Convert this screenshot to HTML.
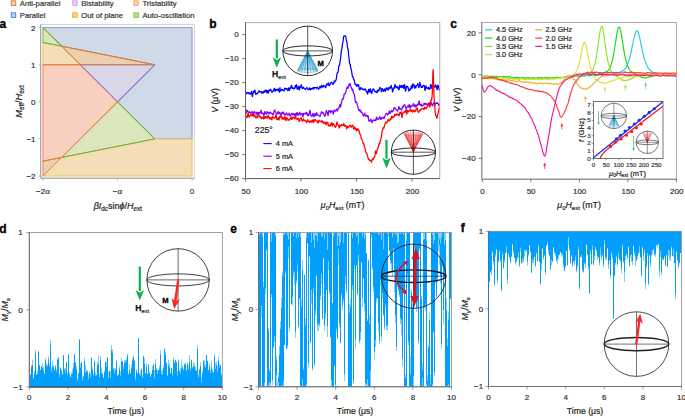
<!DOCTYPE html><html><head><meta charset="utf-8"><style>html,body{margin:0;padding:0;background:#fff;}svg{display:block;}text{font-family:"Liberation Sans",sans-serif;}</style></head><body>
<svg width="685" height="417" viewBox="0 0 685 417">
<rect width="685" height="417" fill="#fff"/>
<rect x="11.3" y="0.8" width="4.4" height="4.6" fill="#fad2bd" stroke="#e07a45" stroke-width="1"/>
<text x="19.8" y="5.8" font-size="7.7" text-anchor="start" font-weight="normal" font-style="normal" fill="#333" stroke="#333" stroke-width="0.2" >Anti-parallel</text>
<rect x="11.3" y="12.8" width="4.4" height="4.6" fill="#b9d3f5" stroke="#4f86ea" stroke-width="1"/>
<text x="19.8" y="17.8" font-size="7.7" text-anchor="start" font-weight="normal" font-style="normal" fill="#333" stroke="#333" stroke-width="0.2" >Parallel</text>
<rect x="72.7" y="0.8" width="4.4" height="4.6" fill="#e6d6f6" stroke="#c6a7ec" stroke-width="1"/>
<text x="81.2" y="5.8" font-size="7.7" text-anchor="start" font-weight="normal" font-style="normal" fill="#333" stroke="#333" stroke-width="0.2" >Bistability</text>
<rect x="72.7" y="12.8" width="4.4" height="4.6" fill="#fbd67a" stroke="#f1b531" stroke-width="1"/>
<text x="81.2" y="17.8" font-size="7.7" text-anchor="start" font-weight="normal" font-style="normal" fill="#333" stroke="#333" stroke-width="0.2" >Out of plane</text>
<rect x="133.9" y="0.8" width="4.4" height="4.6" fill="#fcd3b5" stroke="#f5a56b" stroke-width="1"/>
<text x="142.4" y="5.8" font-size="7.7" text-anchor="start" font-weight="normal" font-style="normal" fill="#333" stroke="#333" stroke-width="0.2" >Tristability</text>
<rect x="133.9" y="12.8" width="4.4" height="4.6" fill="#b6dc8c" stroke="#8cc65a" stroke-width="1"/>
<text x="142.4" y="17.8" font-size="7.7" text-anchor="start" font-weight="normal" font-style="normal" fill="#333" stroke="#333" stroke-width="0.2" >Auto-oscillation</text>
<text x="-0.6" y="27.8" font-size="12" text-anchor="start" font-weight="bold" font-style="normal" fill="#000" stroke="#000" stroke-width="0.3" >a</text>
<rect x="40.7" y="24.6" width="153.6" height="153.6" fill="none" stroke="#c8c8c8" stroke-width="0.8"/>
<line x1="40.7" y1="24.6" x2="40.7" y2="178.2" stroke="#8a8a8a" stroke-width="0.8" />
<line x1="40.7" y1="178.2" x2="194.3" y2="178.2" stroke="#8a8a8a" stroke-width="0.8" />
<polygon points="42.9,27.65 192.1,27.65 192.1,138.95 154.8,138.95 117.5,101.85 154.8,64.75 61.55,46.2" fill="#cfd9e8" stroke="#6f8fd6" stroke-width="0.9" stroke-linejoin="round" />
<polygon points="42.9,27.65 61.55,46.2 42.9,42.49" fill="#dbe6bd" stroke="#74ad3c" stroke-width="0.9" stroke-linejoin="round" />
<polygon points="42.9,42.49 61.55,46.2 80.2,64.75 42.9,64.75" fill="#f4deb8" stroke="#f0bc55" stroke-width="0.9" stroke-linejoin="round" />
<polygon points="61.55,46.2 154.8,64.75 80.2,64.75" fill="#eccfb2" stroke="#d9803a" stroke-width="0.9" stroke-linejoin="round" />
<polygon points="80.2,64.75 154.8,64.75 117.5,101.85" fill="#dad6e8" stroke="#8474d0" stroke-width="0.9" stroke-linejoin="round" />
<polygon points="42.9,64.75 80.2,64.75 117.5,101.85 61.55,157.5 42.9,161.21" fill="#f9d0c0" stroke="#e8804f" stroke-width="0.9" stroke-linejoin="round" />
<polygon points="117.5,101.85 154.8,138.95 61.55,157.5" fill="#dbe6bd" stroke="#74ad3c" stroke-width="0.9" stroke-linejoin="round" />
<polygon points="42.9,161.21 61.55,157.5 42.9,176.05" fill="#eccfb2" stroke="#d9803a" stroke-width="0.9" stroke-linejoin="round" />
<polygon points="42.9,176.05 61.55,157.5 154.8,138.95 192.1,138.95 192.1,176.05" fill="#f4deb8" stroke="#f0bc55" stroke-width="0.9" stroke-linejoin="round" />
<polyline points="42.9,64.75 154.8,64.75" fill="none" stroke="#e57a3a" stroke-width="0.9" stroke-linejoin="round" stroke-linecap="round" />
<polyline points="61.55,46.2 154.8,64.75" fill="none" stroke="#d9803a" stroke-width="0.9" stroke-linejoin="round" stroke-linecap="round" />
<polyline points="61.55,46.2 80.2,64.75" fill="none" stroke="#d9803a" stroke-width="0.9" stroke-linejoin="round" stroke-linecap="round" />
<polyline points="80.2,64.75 117.5,101.85 154.8,64.75" fill="none" stroke="#8474d0" stroke-width="1.0" stroke-linejoin="round" stroke-linecap="round" />
<polyline points="42.9,27.65 61.55,46.2 42.9,42.49" fill="none" stroke="#74ad3c" stroke-width="1.0" stroke-linejoin="round" stroke-linecap="round" />
<polyline points="117.5,101.85 154.8,138.95 61.55,157.5" fill="none" stroke="#74ad3c" stroke-width="1.0" stroke-linejoin="round" stroke-linecap="round" />
<polyline points="117.5,101.85 61.55,157.5 42.9,176.05" fill="none" stroke="#e57a3a" stroke-width="0.9" stroke-linejoin="round" stroke-linecap="round" />
<polyline points="42.9,161.21 61.55,157.5" fill="none" stroke="#d9803a" stroke-width="0.9" stroke-linejoin="round" stroke-linecap="round" />
<line x1="38.6" y1="27.65" x2="40.7" y2="27.65" stroke="#999" stroke-width="0.7" />
<text x="35.5" y="30.5" font-size="8" text-anchor="end" font-weight="normal" font-style="normal" fill="#333" stroke="#333" stroke-width="0.2" >2</text>
<line x1="38.6" y1="64.75" x2="40.7" y2="64.75" stroke="#999" stroke-width="0.7" />
<text x="35.5" y="67.6" font-size="8" text-anchor="end" font-weight="normal" font-style="normal" fill="#333" stroke="#333" stroke-width="0.2" >1</text>
<line x1="38.6" y1="101.85" x2="40.7" y2="101.85" stroke="#999" stroke-width="0.7" />
<text x="35.5" y="104.7" font-size="8" text-anchor="end" font-weight="normal" font-style="normal" fill="#333" stroke="#333" stroke-width="0.2" >0</text>
<line x1="38.6" y1="138.95" x2="40.7" y2="138.95" stroke="#999" stroke-width="0.7" />
<text x="35.5" y="141.8" font-size="8" text-anchor="end" font-weight="normal" font-style="normal" fill="#333" stroke="#333" stroke-width="0.2" >−1</text>
<line x1="38.6" y1="176.05" x2="40.7" y2="176.05" stroke="#999" stroke-width="0.7" />
<text x="35.5" y="178.9" font-size="8" text-anchor="end" font-weight="normal" font-style="normal" fill="#333" stroke="#333" stroke-width="0.2" >−2</text>
<line x1="42.9" y1="178.2" x2="42.9" y2="180.6" stroke="#999" stroke-width="0.7" />
<text x="42.9" y="193.7" font-size="8" text-anchor="middle" font-weight="normal" font-style="normal" fill="#333" stroke="#333" stroke-width="0.2" >−2α</text>
<line x1="117.5" y1="178.2" x2="117.5" y2="180.6" stroke="#999" stroke-width="0.7" />
<text x="117.5" y="193.7" font-size="8" text-anchor="middle" font-weight="normal" font-style="normal" fill="#333" stroke="#333" stroke-width="0.2" >−α</text>
<line x1="192.1" y1="178.2" x2="192.1" y2="180.6" stroke="#999" stroke-width="0.7" />
<text x="192.1" y="193.7" font-size="8" text-anchor="middle" font-weight="normal" font-style="normal" fill="#333" stroke="#333" stroke-width="0.2" >0</text>
<text transform="translate(21.8,101.5) rotate(-90)" font-size="9.4" text-anchor="middle" fill="#231f20" stroke="#231f20" stroke-width="0.2"><tspan font-style="italic">M</tspan><tspan font-size="6.3" dy="2">eff</tspan><tspan dy="-2">/</tspan><tspan font-style="italic">H</tspan><tspan font-size="6.3" dy="2">ext</tspan></text>
<text x="117.8" y="208.6" font-size="9" text-anchor="middle" fill="#231f20" stroke="#231f20" stroke-width="0.2"><tspan font-style="italic">βI</tspan><tspan font-size="6.3" dy="2">dc</tspan><tspan dy="-2">sin</tspan><tspan font-style="italic">ϕ</tspan>/<tspan font-style="italic">H</tspan><tspan font-size="6.3" dy="2">ext</tspan></text>
<text x="209.2" y="27.7" font-size="12" text-anchor="start" font-weight="bold" font-style="normal" fill="#000" stroke="#000" stroke-width="0.3" >b</text>
<defs><clipPath id="cpb"><rect x="245.5" y="22.7" width="194.3" height="155.9"/></clipPath></defs>
<g clip-path="url(#cpb)">
<polyline points="245.5,92.31 245.78,92.36 246.06,93.29 246.33,93.9 246.61,93.06 246.89,92.81 247.17,93.13 247.45,92.73 247.72,92.43 248,92.58 248.28,92.74 248.56,93.09 248.84,93.79 249.11,93.96 249.39,93.46 249.67,92.83 249.95,93.02 250.23,93.78 250.5,94.18 250.78,93.81 251.06,93.19 251.34,92.29 251.62,91.44 251.89,93 252.17,96.12 252.45,96.55 252.73,94.77 253.01,93.38 253.28,92.34 253.56,91.13 253.84,90.94 254.12,92.31 254.4,91.94 254.67,90.21 254.95,90.21 255.23,91.6 255.51,93.46 255.78,94.26 256.06,93.42 256.34,93.23 256.62,93.99 256.9,93.95 257.17,93.54 257.45,93.41 257.73,92.83 258.01,92.27 258.29,92.25 258.56,92.05 258.84,91.11 259.12,90.64 259.4,91.4 259.68,92.05 259.95,91.8 260.23,91.62 260.51,91.69 260.79,91.87 261.07,91.57 261.34,92.17 261.62,93.12 261.9,92.75 262.18,91.95 262.46,92.14 262.73,93.14 263.01,93.26 263.29,92.41 263.57,91.78 263.85,91.23 264.12,91.53 264.4,92.28 264.68,91.29 264.96,90.38 265.24,91.21 265.51,91.6 265.79,90.68 266.07,90.04 266.35,90.38 266.63,91.85 266.9,92.89 267.18,92.35 267.46,91.28 267.74,90.61 268.02,91.54 268.29,93.07 268.57,92.53 268.85,90.58 269.13,90.13 269.41,90.86 269.68,90.71 269.96,89.91 270.24,89.32 270.52,89.22 270.8,89.81 271.07,90.45 271.35,90.5 271.63,91.07 271.91,92.36 272.19,92.11 272.46,91.69 272.74,91.82 273.02,91.24 273.3,90.48 273.58,89.75 273.85,89.33 274.13,88.66 274.41,88.38 274.69,89.65 274.97,91.38 275.24,91.12 275.52,89.48 275.8,89.69 276.08,90.51 276.35,90.27 276.63,89.61 276.91,89.11 277.19,89.42 277.47,90.1 277.74,90.4 278.02,90.3 278.3,90.03 278.58,88.89 278.86,89.12 279.13,91.69 279.41,92.26 279.69,89.25 279.97,87.64 280.25,89.63 280.52,90.85 280.8,90.38 281.08,90.51 281.36,90.57 281.64,89.9 281.91,89.3 282.19,89.31 282.47,89.41 282.75,89.91 283.03,90.53 283.3,90.72 283.58,90.66 283.86,90.64 284.14,90.91 284.42,90.01 284.69,88.36 284.97,88.22 285.25,88.56 285.53,88.67 285.81,89.06 286.08,88.96 286.36,88.5 286.64,88.83 286.92,89.25 287.2,89.01 287.47,89.68 287.75,90.59 288.03,90.28 288.31,88.76 288.59,87.87 288.86,88.88 289.14,90.1 289.42,90.52 289.7,89.11 289.98,87.83 290.25,88.26 290.53,88.59 290.81,87.73 291.09,86.56 291.37,85.56 291.64,85.32 291.92,86.76 292.2,88.22 292.48,88.39 292.76,88.03 293.03,87.79 293.31,87.88 293.59,88.54 293.87,88.96 294.15,88.4 294.42,88.63 294.7,88.55 294.98,86.84 295.26,85.61 295.53,86.1 295.81,87.03 296.09,86.35 296.37,84.61 296.65,85.67 296.92,88.22 297.2,89.02 297.48,88.99 297.76,89.09 298.04,88.35 298.31,87.11 298.59,86.16 298.87,87.41 299.15,89.69 299.43,89.84 299.7,88.73 299.98,87.12 300.26,86.53 300.54,87 300.82,86.72 301.09,84.96 301.37,84.92 301.65,86.92 301.93,87.94 302.21,88.3 302.48,88.52 302.76,87.96 303.04,87.09 303.32,87.74 303.6,88.09 303.87,87.89 304.15,88.33 304.43,88.7 304.71,88.82 304.99,89.11 305.26,89.5 305.54,89.22 305.82,88.69 306.1,88.39 306.38,88.12 306.65,87.75 306.93,87.5 307.21,87.99 307.49,88.68 307.77,89.27 308.04,89.7 308.32,89.57 308.6,89.14 308.88,89.45 309.16,89.14 309.43,88.03 309.71,87.95 309.99,89.31 310.27,89.99 310.55,88.86 310.82,88.47 311.1,88.82 311.38,88.55 311.66,89.03 311.94,89.37 312.21,88.65 312.49,88.18 312.77,88.46 313.05,88.29 313.33,87.4 313.6,88.3 313.88,89.1 314.16,88.22 314.44,87.64 314.72,87.6 314.99,87.73 315.27,87.67 315.55,87.66 315.83,87.7 316.1,87.52 316.38,88.04 316.66,88.31 316.94,87.54 317.22,87.07 317.49,87.6 317.77,87.97 318.05,88.27 318.33,89.29 318.61,89.29 318.88,88.66 319.16,88.44 319.44,87.59 319.72,86.56 320,86.48 320.27,87.45 320.55,87.85 320.83,87.88 321.11,87.12 321.39,85.25 321.66,85.84 321.94,86.63 322.22,86.19 322.5,86.89 322.78,87.48 323.05,86.13 323.33,85.35 323.61,86.01 323.89,86.25 324.17,86.16 324.44,86.25 324.72,85.83 325,85.99 325.28,87.14 325.56,87.74 325.83,87.17 326.11,86.06 326.39,84.71 326.67,84.1 326.95,84.04 327.22,84.39 327.5,84.96 327.78,84.92 328.06,83.54 328.34,82.86 328.61,84.21 328.89,85.36 329.17,85.5 329.45,85.56 329.73,85.34 330,84.56 330.28,83.49 330.56,82.56 330.84,82.62 331.12,82.59 331.39,82.34 331.67,82.27 331.95,82.34 332.23,83.47 332.51,84.27 332.78,84 333.06,83.92 333.34,84.14 333.62,83.84 333.9,82.83 334.17,81.15 334.45,80.99 334.73,81.81 335.01,81.84 335.28,81.08 335.56,80.57 335.84,80.49 336.12,79.76 336.4,78.3 336.67,76.43 336.95,74.15 337.23,72.77 337.51,72.56 337.79,72.55 338.06,71.97 338.34,70.06 338.62,67.95 338.9,65.94 339.18,65.13 339.45,65.42 339.73,64.03 340.01,61.81 340.29,59.87 340.57,58.48 340.84,56.21 341.12,53.09 341.4,50.63 341.68,49.41 341.96,48.37 342.23,46.11 342.51,43.57 342.79,42.62 343.07,41.67 343.35,39.03 343.62,36.79 343.9,35.92 344.18,35.74 344.46,35.78 344.74,36.13 345.01,36.1 345.29,36.06 345.57,35.99 345.85,36.97 346.13,39.14 346.4,40.62 346.68,41.2 346.96,42.08 347.24,44.61 347.52,47.54 347.79,48.64 348.07,49.14 348.35,51.51 348.63,55.61 348.91,57.77 349.18,59.17 349.46,62.22 349.74,64.15 350.02,64.22 350.3,65.17 350.57,67.25 350.85,68.55 351.13,69.18 351.41,70 351.69,71.64 351.96,73.66 352.24,75.83 352.52,76.95 352.8,76.88 353.08,76.83 353.35,78.05 353.63,79.45 353.91,79.59 354.19,79.97 354.47,81.33 354.74,82.69 355.02,84.02 355.3,84.83 355.58,84.29 355.85,84.11 356.13,84.59 356.41,85.12 356.69,86.21 356.97,86.4 357.24,85.25 357.52,84.75 357.8,85.77 358.08,85.51 358.36,84.72 358.63,84.87 358.91,86.1 359.19,88.64 359.47,89.84 359.75,89.11 360.02,89.2 360.3,89.57 360.58,88.99 360.86,87.6 361.14,87.47 361.41,88.24 361.69,88.26 361.97,88.6 362.25,89.25 362.53,89.52 362.8,89.39 363.08,89.08 363.36,89.29 363.64,89.56 363.92,89.62 364.19,90.08 364.47,89.9 364.75,89.1 365.03,88.88 365.31,89.18 365.58,89.11 365.86,90.01 366.14,91.37 366.42,91.7 366.7,91.36 366.97,92.04 367.25,93.47 367.53,94.02 367.81,93.5 368.09,92.18 368.36,90.26 368.64,89.29 368.92,89.89 369.2,91.17 369.48,92 369.75,91.39 370.03,89.72 370.31,88.76 370.59,89.86 370.87,91.6 371.14,92.56 371.42,93.18 371.7,93.33 371.98,92.47 372.26,90.88 372.53,89.74 372.81,89.6 373.09,89.04 373.37,88.83 373.65,89.31 373.92,89.38 374.2,90.17 374.48,91.3 374.76,91.55 375.03,91.64 375.31,91.85 375.59,91.7 375.87,91.28 376.15,91.43 376.42,92.17 376.7,92.7 376.98,92.67 377.26,91.41 377.54,90.29 377.81,90.14 378.09,90.15 378.37,90.49 378.65,91.18 378.93,90.88 379.2,89.67 379.48,88.66 379.76,87.79 380.04,87.28 380.32,87.99 380.59,88.19 380.87,88.49 381.15,90.08 381.43,91.62 381.71,91.57 381.98,89.91 382.26,88.58 382.54,88.72 382.82,89.38 383.1,89.81 383.37,90.51 383.65,91.29 383.93,90.6 384.21,90.02 384.49,89.47 384.76,88.78 385.04,90.21 385.32,91.39 385.6,90.5 385.88,89.11 386.15,88.71 386.43,88.07 386.71,87.79 386.99,88.83 387.27,89.92 387.54,89.14 387.82,88.29 388.1,89.45 388.38,89.94 388.66,88.75 388.93,87.53 389.21,87.28 389.49,87.83 389.77,88.26 390.05,87.71 390.32,87.97 390.6,88.13 390.88,86.13 391.16,85.44 391.44,87.07 391.71,87.56 391.99,87.93 392.27,90.25 392.55,91.87 392.83,91.35 393.1,90.05 393.38,88.78 393.66,87.8 393.94,88.07 394.22,88.36 394.49,86.68 394.77,84.79 395.05,84.67 395.33,85.61 395.6,86.48 395.88,87.12 396.16,87.7 396.44,87.36 396.72,86.72 396.99,86.36 397.27,87.18 397.55,88.17 397.83,87.56 398.11,87.27 398.38,88.56 398.66,89.49 398.94,89.76 399.22,88.97 399.5,86.68 399.77,85.22 400.05,85.57 400.33,86.56 400.61,87.21 400.89,87.55 401.16,87.35 401.44,86.12 401.72,85.3 402,85.94 402.28,87.13 402.55,87.31 402.83,86.36 403.11,85.65 403.39,87.09 403.67,88.35 403.94,86.65 404.22,84.64 404.5,84.65 404.78,85.78 405.06,87.95 405.33,90.4 405.61,91.09 405.89,89.86 406.17,87.96 406.45,86.55 406.72,86.16 407,86.25 407.28,86.29 407.56,86.96 407.84,87.29 408.11,87.42 408.39,89.27 408.67,90.9 408.95,90.18 409.23,89.79 409.5,90.44 409.78,89.52 410.06,88.86 410.34,89.52 410.62,89.56 410.89,88.45 411.17,86.86 411.45,85.67 411.73,86.57 412.01,88.24 412.28,87.65 412.56,85.24 412.84,83.84 413.12,84.28 413.4,84.4 413.67,84.26 413.95,85.61 414.23,87.45 414.51,88.13 414.79,86.7 415.06,85.54 415.34,86.77 415.62,87.85 415.9,87.83 416.17,86.6 416.45,85.57 416.73,85.45 417.01,85.04 417.29,84.58 417.56,84.08 417.84,83.66 418.12,84.64 418.4,86.47 418.68,87.62 418.95,87.43 419.23,86.28 419.51,84.49 419.79,82.43 420.07,82.83 420.34,84.99 420.62,85.73 420.9,86.04 421.18,87.48 421.46,87.34 421.73,86.55 422.01,87.15 422.29,87.46 422.57,86.71 422.85,85.81 423.12,85.5 423.4,85.36 423.68,85.28 423.96,85.3 424.24,85.78 424.51,87.63 424.79,89.61 425.07,90.41 425.35,89.68 425.63,87.61 425.9,85.89 426.18,86.19 426.46,87.55 426.74,88.3 427.02,88.1 427.29,87.92 427.57,88.35 427.85,88.56 428.13,87.6 428.41,87.33 428.68,88.63 428.96,89.31 429.24,89.17 429.52,88.46 429.8,88.75 430.07,88.83 430.35,86.6 430.63,84.54 430.91,84.48 431.19,85.26 431.46,87.11 431.74,88.43 432.02,87.85 432.3,87.78 432.58,87.76 432.85,86.57 433.13,86.17 433.41,86.38 433.69,86.4 433.97,86.72 434.24,86.88 434.52,87.09 434.8,87.05 435.08,86.55 435.35,85.32 435.63,84.75 435.91,85.35 436.19,86.78 436.47,87.37 436.74,88.12 437.02,89.7 437.3,88.77 437.58,86.27 437.86,85.17 438.13,85.41 438.41,86.15 438.69,86.94 438.97,88.4 439.25,89.87 439.52,90.1 439.8,89.37" fill="none" stroke="#0000ff" stroke-width="1.25" stroke-linejoin="round" stroke-linecap="round" />
<polyline points="245.5,111.29 245.78,112.09 246.06,113.07 246.33,112.77 246.61,110.61 246.89,109.86 247.17,110.61 247.45,110.9 247.72,111.29 248,111.59 248.28,111.5 248.56,112.07 248.84,112.81 249.11,112.83 249.39,112.27 249.67,111.99 249.95,112.18 250.23,112.71 250.5,113.03 250.78,112.87 251.06,112.17 251.34,111.91 251.62,112.11 251.89,112.63 252.17,112.82 252.45,111.75 252.73,111.87 253.01,114.4 253.28,116 253.56,115.1 253.84,113.18 254.12,112.06 254.4,111.58 254.67,111.75 254.95,112.34 255.23,112.76 255.51,112.88 255.78,113.21 256.06,114.04 256.34,113.85 256.62,112.53 256.9,112.12 257.17,113.62 257.45,114.67 257.73,113.95 258.01,112.83 258.29,112.51 258.56,112.96 258.84,113.52 259.12,112.7 259.4,112.65 259.68,113.61 259.95,113.04 260.23,111.99 260.51,111.6 260.79,110.73 261.07,110.32 261.34,111.73 261.62,113.33 261.9,113.64 262.18,113.16 262.46,113.17 262.73,113.33 263.01,113.13 263.29,113.41 263.57,114.88 263.85,116.22 264.12,115.6 264.4,113.29 264.68,111.8 264.96,111.58 265.24,112.53 265.51,113.27 265.79,113.17 266.07,113.68 266.35,114.39 266.63,113.45 266.9,111.73 267.18,111.56 267.46,112.37 267.74,113.16 268.02,113.17 268.29,112.65 268.57,113.03 268.85,113.72 269.13,113.89 269.41,113.63 269.68,112.67 269.96,112.11 270.24,112.25 270.52,112.2 270.8,112.75 271.07,113.37 271.35,113.69 271.63,113.5 271.91,113.32 272.19,113.69 272.46,114.18 272.74,114.52 273.02,114.92 273.3,114.88 273.58,113.68 273.85,112.17 274.13,111.12 274.41,110.25 274.69,109.94 274.97,111.11 275.24,111.85 275.52,111.8 275.8,112.43 276.08,112.87 276.35,113.41 276.63,114.03 276.91,114.22 277.19,113.42 277.47,113.22 277.74,112.9 278.02,111.65 278.3,111.65 278.58,112.89 278.86,113.75 279.13,113.63 279.41,113 279.69,112.34 279.97,112.62 280.25,113.8 280.52,114.61 280.8,115.1 281.08,115.38 281.36,114.79 281.64,113.55 281.91,112.4 282.19,112.38 282.47,113.26 282.75,113.41 283.03,112.71 283.3,111.97 283.58,112.53 283.86,113.72 284.14,114.81 284.42,114.99 284.69,114.44 284.97,114.25 285.25,114.61 285.53,114.98 285.81,114.5 286.08,113.73 286.36,112.93 286.64,113.03 286.92,113.77 287.2,114.67 287.47,114.93 287.75,115.15 288.03,115.08 288.31,114.66 288.59,114.28 288.86,113.63 289.14,113.06 289.42,113.38 289.7,114.69 289.98,115.91 290.25,116.07 290.53,116.09 290.81,115.99 291.09,114.88 291.37,114.28 291.64,113.88 291.92,113.1 292.2,113.08 292.48,114.02 292.76,114.69 293.03,114.34 293.31,114.18 293.59,114.16 293.87,113.64 294.15,114.34 294.42,115.67 294.7,115.66 294.98,114.8 295.26,113.55 295.53,113.69 295.81,115.1 296.09,115.46 296.37,114.65 296.65,113.52 296.92,112.52 297.2,112.78 297.48,113.76 297.76,114.78 298.04,115.47 298.31,114.5 298.59,113.63 298.87,114.14 299.15,114.25 299.43,112.95 299.7,112.15 299.98,113.29 300.26,114.25 300.54,114.4 300.82,115 301.09,114.8 301.37,114.21 301.65,113.89 301.93,113.73 302.21,113.37 302.48,114.45 302.76,116.55 303.04,116.9 303.32,115.02 303.6,113.32 303.87,113.35 304.15,113.89 304.43,113.83 304.71,113.35 304.99,113.36 305.26,113.97 305.54,114.01 305.82,112.93 306.1,112.77 306.38,113.06 306.65,112.23 306.93,112.83 307.21,114.87 307.49,115.61 307.77,114.41 308.04,114.03 308.32,115.16 308.6,115.47 308.88,114.5 309.16,114.14 309.43,112.88 309.71,110.51 309.99,110.14 310.27,111.88 310.55,113.61 310.82,114.88 311.1,115.93 311.38,115.79 311.66,115.91 311.94,116.52 312.21,116.04 312.49,114.57 312.77,113.72 313.05,113.47 313.33,113.83 313.6,115.26 313.88,116.58 314.16,116.56 314.44,115.08 314.72,113.76 314.99,113.58 315.27,114.13 315.55,115.1 315.83,115.55 316.1,115.53 316.38,114.46 316.66,112.65 316.94,112.78 317.22,114.36 317.49,115.1 317.77,115.2 318.05,115.24 318.33,115.04 318.61,115.29 318.88,115.47 319.16,115.54 319.44,115.78 319.72,116.37 320,116.6 320.27,116.05 320.55,115.18 320.83,114.2 321.11,112.87 321.39,111.77 321.66,112.02 321.94,112.8 322.22,113.07 322.5,112.88 322.78,112.28 323.05,112.85 323.33,113.67 323.61,113.24 323.89,113.93 324.17,115.74 324.44,115.88 324.72,115.65 325,116.08 325.28,115.77 325.56,114.51 325.83,112.84 326.11,111.22 326.39,110.48 326.67,111.2 326.95,111.73 327.22,112.25 327.5,113.35 327.78,114.9 328.06,115.5 328.34,114.05 328.61,111.74 328.89,110.52 329.17,110.92 329.45,111.84 329.73,111.9 330,110.76 330.28,110.7 330.56,112 330.84,112.76 331.12,112.28 331.39,111.06 331.67,110.9 331.95,111.29 332.23,111.21 332.51,111.45 332.78,112.53 333.06,113.7 333.34,114.16 333.62,113.19 333.9,110.8 334.17,109.85 334.45,111.03 334.73,111.16 335.01,110.86 335.28,111.14 335.56,111.08 335.84,110.56 336.12,109.79 336.4,109.69 336.67,109.43 336.95,109.3 337.23,110.32 337.51,111.05 337.79,109.94 338.06,108.44 338.34,108.07 338.62,108.37 338.9,108.44 339.18,107.42 339.45,106.18 339.73,105.2 340.01,104.65 340.29,105.7 340.57,106.94 340.84,106.27 341.12,104.18 341.4,102.71 341.68,101.63 341.96,100.43 342.23,99.27 342.51,99.13 342.79,99.53 343.07,98.92 343.35,98.18 343.62,97.51 343.9,95.56 344.18,93.97 344.46,93.73 344.74,93.94 345.01,93.93 345.29,93.62 345.57,92.67 345.85,91.59 346.13,90.55 346.4,89.42 346.68,87.94 346.96,87.14 347.24,87.25 347.52,87.46 347.79,88.47 348.07,88.35 348.35,86.41 348.63,84.9 348.91,84.94 349.18,85.57 349.46,85.01 349.74,83.86 350.02,83.47 350.3,84.21 350.57,85.42 350.85,86.71 351.13,87.38 351.41,87.6 351.69,88.25 351.96,89.72 352.24,90.29 352.52,89.48 352.8,89.28 353.08,90.76 353.35,92.58 353.63,93.59 353.91,93.78 354.19,94.02 354.47,94.93 354.74,97.19 355.02,99.75 355.3,101.39 355.58,102.42 355.85,102.36 356.13,101.51 356.41,102.1 356.69,103.17 356.97,103.26 357.24,104.41 357.52,105.96 357.8,106.5 358.08,107.41 358.36,109.09 358.63,109.99 358.91,109.56 359.19,110.04 359.47,110.99 359.75,110.17 360.02,109.65 360.3,110.38 360.58,111.07 360.86,111.83 361.14,112.4 361.41,112.03 361.69,111.95 361.97,112.91 362.25,113.16 362.53,113.37 362.8,114.3 363.08,115.3 363.36,116.01 363.64,115.78 363.92,115 364.19,114.66 364.47,113.99 364.75,113.18 365.03,114.36 365.31,115.7 365.58,116.18 365.86,115.96 366.14,115.51 366.42,115.46 366.7,115.13 366.97,115.66 367.25,116.76 367.53,116.79 367.81,116.12 368.09,115.69 368.36,117.45 368.64,119.92 368.92,121.21 369.2,121.11 369.48,120.66 369.75,120.8 370.03,120.94 370.31,120.33 370.59,119.23 370.87,119.14 371.14,120.61 371.42,121.52 371.7,122.04 371.98,122.59 372.26,122.43 372.53,121.35 372.81,120.26 373.09,120.27 373.37,120.36 373.65,119.89 373.92,119.86 374.2,120.19 374.48,120.45 374.76,120.5 375.03,119.94 375.31,119.95 375.59,120.75 375.87,120.55 376.15,118.98 376.42,117.58 376.7,117.12 376.98,118.24 377.26,119.08 377.54,119.3 377.81,118.98 378.09,118.9 378.37,119.45 378.65,119.35 378.93,118.74 379.2,118.1 379.48,117.29 379.76,116.67 380.04,116.8 380.32,117.67 380.59,118.81 380.87,119.55 381.15,119.32 381.43,118.32 381.71,117.57 381.98,117.94 382.26,118.14 382.54,117.64 382.82,117.75 383.1,117.75 383.37,117.15 383.65,117.47 383.93,118.6 384.21,118.09 384.49,116.7 384.76,116.37 385.04,116.38 385.32,115.38 385.6,114.2 385.88,113.96 386.15,113.6 386.43,113.5 386.71,113.9 386.99,114.09 387.27,114.52 387.54,114.94 387.82,114.46 388.1,113.49 388.38,113.55 388.66,113.94 388.93,113.02 389.21,111.19 389.49,111 389.77,112.26 390.05,113.43 390.32,113.46 390.6,112.34 390.88,111.9 391.16,111.71 391.44,110.54 391.71,110.44 391.99,111.55 392.27,111.88 392.55,111.33 392.83,110.88 393.1,111.14 393.38,110.88 393.66,109.29 393.94,108.18 394.22,107.66 394.49,107.9 394.77,108.69 395.05,108.68 395.33,108.2 395.6,108.38 395.88,109.25 396.16,109.83 396.44,109.96 396.72,110.37 396.99,111.02 397.27,111.2 397.55,110.53 397.83,110.14 398.11,109.66 398.38,108.58 398.66,107.18 398.94,106.51 399.22,107.77 399.5,109.15 399.77,109.04 400.05,108.57 400.33,108.42 400.61,108.86 400.89,109.21 401.16,109.3 401.44,109.76 401.72,110.1 402,109.15 402.28,107.5 402.55,106.65 402.83,107.12 403.11,107.27 403.39,106.45 403.67,105.46 403.94,104.95 404.22,105.4 404.5,105.57 404.78,104.85 405.06,105.01 405.33,106.39 405.61,107.7 405.89,108.56 406.17,108.47 406.45,108.04 406.72,107.63 407,107.31 407.28,106.93 407.56,106.38 407.84,105.96 408.11,106.32 408.39,107.16 408.67,106.84 408.95,105.1 409.23,104.51 409.5,105.48 409.78,106.65 410.06,108.03 410.34,108.16 410.62,106.54 410.89,105.55 411.17,106.3 411.45,106.28 411.73,105.8 412.01,106.22 412.28,105.66 412.56,105.07 412.84,104.98 413.12,104.06 413.4,103.63 413.67,105.18 413.95,106.19 414.23,106.37 414.51,106.65 414.79,105.99 415.06,104.67 415.34,105.3 415.62,106.76 415.9,106.39 416.17,105.22 416.45,105.31 416.73,106.03 417.01,105.55 417.29,104.61 417.56,104.35 417.84,104.98 418.12,105.1 418.4,103.63 418.68,102.34 418.95,101.12 419.23,101.2 419.51,103.53 419.79,104.99 420.07,104.62 420.34,104.75 420.62,105.32 420.9,104.85 421.18,103.99 421.46,104.91 421.73,106.18 422.01,106.3 422.29,105.89 422.57,105.34 422.85,105.37 423.12,105.33 423.4,104.73 423.68,104.21 423.96,103.35 424.24,103.15 424.51,104.23 424.79,104.76 425.07,104.05 425.35,103.47 425.63,103.74 425.9,104.05 426.18,104.01 426.46,103.76 426.74,104.01 427.02,104.83 427.29,105.11 427.57,104.95 427.85,104.8 428.13,104.23 428.41,103.88 428.68,104.39 428.96,104.97 429.24,104.23 429.52,102.81 429.8,103.28 430.07,104.8 430.35,104.28 430.63,102.24 430.91,101.71 431.19,102.58 431.46,103.7 431.74,104.84 432.02,104.72 432.3,104.83 432.58,105.85 432.85,105.3 433.13,103.58 433.41,103.12 433.69,103.66 433.97,103.28 434.24,103 434.52,104.37 434.8,105.49 435.08,105.07 435.35,104.01 435.63,103.21 435.91,103.51 436.19,103.38 436.47,102.59 436.74,103.03 437.02,103.25 437.3,102.86 437.58,102.85 437.86,103.18 438.13,103.64 438.41,104.69 438.69,105.59 438.97,105.29 439.25,104.73 439.52,104.39 439.8,104.12" fill="none" stroke="#8000ff" stroke-width="1.25" stroke-linejoin="round" stroke-linecap="round" />
<polyline points="245.5,113.93 245.78,116.08 246.06,116.41 246.33,116.18 246.61,116.4 246.89,117.01 247.17,117.59 247.45,116.82 247.72,114.73 248,112.87 248.28,113.78 248.56,115.54 248.84,116.4 249.11,116.96 249.39,117.08 249.67,116.36 249.95,115.54 250.23,115.14 250.5,114.95 250.78,115.15 251.06,114.76 251.34,114.09 251.62,114.7 251.89,115.76 252.17,115.63 252.45,114.46 252.73,113.99 253.01,115.01 253.28,115.58 253.56,115.68 253.84,116.28 254.12,116.05 254.4,115.12 254.67,114.95 254.95,115.51 255.23,116.78 255.51,117.85 255.78,117.4 256.06,117.68 256.34,117.89 256.62,116.66 256.9,116.03 257.17,116.84 257.45,117.39 257.73,116.77 258.01,115.64 258.29,114.68 258.56,114.7 258.84,115.08 259.12,115.45 259.4,116.45 259.68,116.93 259.95,116.24 260.23,116.04 260.51,116.83 260.79,117.55 261.07,118.18 261.34,118.5 261.62,117.37 261.9,117.13 262.18,118.01 262.46,118.05 262.73,117.72 263.01,117.95 263.29,118.85 263.57,118.29 263.85,116.7 264.12,116.93 264.4,118.51 264.68,118.42 264.96,117.46 265.24,116.84 265.51,116.62 265.79,117.37 266.07,117.75 266.35,117.35 266.63,116.61 266.9,117.06 267.18,118.24 267.46,118.08 267.74,116.33 268.02,115.46 268.29,115.49 268.57,115.8 268.85,116.91 269.13,118.29 269.41,118.86 269.68,118.25 269.96,117.78 270.24,118.67 270.52,118.98 270.8,118.28 271.07,117.62 271.35,118.03 271.63,119.49 271.91,119.81 272.19,118.14 272.46,116.5 272.74,116.42 273.02,117.24 273.3,117.81 273.58,117.82 273.85,117.67 274.13,117.72 274.41,118.19 274.69,118.19 274.97,117.76 275.24,117.12 275.52,115.94 275.8,114.56 276.08,114.7 276.35,116.76 276.63,119.18 276.91,119.64 277.19,119.08 277.47,119.16 277.74,119.26 278.02,117.89 278.3,117.7 278.58,119.32 278.86,120.12 279.13,119.53 279.41,118.19 279.69,116.66 279.97,116.09 280.25,116.81 280.52,117.16 280.8,116.69 281.08,116 281.36,116.07 281.64,117.13 281.91,118.69 282.19,119.25 282.47,118.47 282.75,117.22 283.03,117.34 283.3,118.39 283.58,118.78 283.86,118.82 284.14,119.36 284.42,119.13 284.69,117.36 284.97,116.38 285.25,117.84 285.53,119.71 285.81,120.63 286.08,120.14 286.36,118.55 286.64,117.7 286.92,117.93 287.2,118.19 287.47,118.5 287.75,119.37 288.03,120.26 288.31,120.01 288.59,119.59 288.86,119.86 289.14,120.13 289.42,119.99 289.7,119.23 289.98,118.59 290.25,118.79 290.53,118.6 290.81,117.75 291.09,117.23 291.37,118 291.64,119.42 291.92,119.38 292.2,119.02 292.48,118.48 292.76,117.53 293.03,117 293.31,117.16 293.59,117.4 293.87,117.6 294.15,118.47 294.42,118.86 294.7,118.58 294.98,117.95 295.26,116.65 295.53,116 295.81,116.54 296.09,118.16 296.37,119.23 296.65,119.04 296.92,118.93 297.2,119.27 297.48,119.11 297.76,118.48 298.04,118.2 298.31,118.7 298.59,119.2 298.87,120.23 299.15,121.19 299.43,121.44 299.7,120.98 299.98,119.65 300.26,118.6 300.54,118.4 300.82,117.98 301.09,117.7 301.37,118.47 301.65,119.58 301.93,120.7 302.21,121.2 302.48,120.97 302.76,120.89 303.04,120.08 303.32,119.19 303.6,119.02 303.87,119.84 304.15,120.54 304.43,120.51 304.71,120.59 304.99,120.54 305.26,120.37 305.54,120.5 305.82,120.94 306.1,121.47 306.38,122.12 306.65,122.66 306.93,122.18 307.21,121.04 307.49,119.61 307.77,119.86 308.04,121.35 308.32,121.46 308.6,121.31 308.88,121.37 309.16,121.19 309.43,121.91 309.71,122.65 309.99,122.07 310.27,121.35 310.55,121.44 310.82,121.51 311.1,120.74 311.38,120.79 311.66,121.93 311.94,122.25 312.21,121.73 312.49,120.78 312.77,119.91 313.05,120.77 313.33,122.26 313.6,122.27 313.88,120.7 314.16,119.51 314.44,120.21 314.72,120.88 314.99,120.73 315.27,120.11 315.55,119.71 315.83,120.46 316.1,120.9 316.38,121.04 316.66,121.5 316.94,121.6 317.22,120.95 317.49,121.34 317.77,122.43 318.05,123.2 318.33,122.84 318.61,121.51 318.88,120.52 319.16,120.2 319.44,120.25 319.72,120.8 320,121.28 320.27,121.24 320.55,121.43 320.83,121.63 321.11,121.16 321.39,120.97 321.66,121.75 321.94,122.12 322.22,121.24 322.5,120.85 322.78,121.97 323.05,122.8 323.33,122.67 323.61,122.91 323.89,123.7 324.17,123.03 324.44,122.3 324.72,122.33 325,121.92 325.28,122.32 325.56,123.4 325.83,124.27 326.11,124.82 326.39,123.85 326.67,122.57 326.95,122.39 327.22,122.08 327.5,122.22 327.78,122.83 328.06,124.4 328.34,125.93 328.61,125.57 328.89,125.04 329.17,125.61 329.45,125.65 329.73,125.08 330,125.58 330.28,126.19 330.56,125.3 330.84,124.08 331.12,123.54 331.39,122.71 331.67,122.55 331.95,124.12 332.23,125.88 332.51,126.09 332.78,124.8 333.06,123.67 333.34,123.57 333.62,124.04 333.9,124.57 334.17,124.88 334.45,125.37 334.73,126.18 335.01,127.13 335.28,127.42 335.56,127.06 335.84,126.83 336.12,126.12 336.4,124.74 336.67,123.18 336.95,121.97 337.23,122.92 337.51,124.39 337.79,124.56 338.06,124.79 338.34,125.12 338.62,125.42 338.9,127.11 339.18,128.07 339.45,126.62 339.73,125.22 340.01,124.88 340.29,125.81 340.57,126.06 340.84,125.42 341.12,125.57 341.4,125.03 341.68,124.28 341.96,124.78 342.23,125.37 342.51,125.27 342.79,125.3 343.07,125.6 343.35,124.98 343.62,123.81 343.9,123.63 344.18,125.23 344.46,126.26 344.74,125.95 345.01,125.83 345.29,125.64 345.57,125.2 345.85,125.26 346.13,126.36 346.4,127.88 346.68,128.86 346.96,127.62 347.24,126.06 347.52,126.65 347.79,127.67 348.07,127.51 348.35,126.59 348.63,126.6 348.91,126.91 349.18,126.23 349.46,125.67 349.74,125.77 350.02,125.7 350.3,125.1 350.57,125.55 350.85,126.71 351.13,127.29 351.41,126.92 351.69,126.36 351.96,126.13 352.24,125.66 352.52,125.24 352.8,125.19 353.08,126.09 353.35,127.95 353.63,129.02 353.91,128.08 354.19,127.1 354.47,127.2 354.74,127.82 355.02,128.77 355.3,129.42 355.58,129.07 355.85,128.22 356.13,128.76 356.41,130.25 356.69,130.88 356.97,129.9 357.24,128.92 357.52,129.57 357.8,130.22 358.08,129.55 358.36,129.29 358.63,130.03 358.91,130.85 359.19,131.55 359.47,132.54 359.75,133.78 360.02,134.59 360.3,134.48 360.58,134.71 360.86,136.11 361.14,138.15 361.41,138.45 361.69,138.57 361.97,139.66 362.25,140.28 362.53,140.78 362.8,142.06 363.08,143.58 363.36,144 363.64,143.66 363.92,144.18 364.19,145.7 364.47,146.89 364.75,147.41 365.03,148.42 365.31,150.47 365.58,151.79 365.86,152.17 366.14,152.88 366.42,153.23 366.7,153.15 366.97,153.74 367.25,154.83 367.53,155.8 367.81,156.97 368.09,157.85 368.36,159.07 368.64,159.4 368.92,158.94 369.2,159.54 369.48,160.44 369.75,160.47 370.03,160.19 370.31,160.34 370.59,160.39 370.87,160.62 371.14,161.63 371.42,162.14 371.7,161.33 371.98,159.79 372.26,158.84 372.53,158.93 372.81,159.6 373.09,159.59 373.37,158.97 373.65,158.41 373.92,157.51 374.2,157.16 374.48,157.35 374.76,156.66 375.03,154.69 375.31,152.06 375.59,150.96 375.87,152.08 376.15,153.47 376.42,153.64 376.7,152.04 376.98,150.69 377.26,149.91 377.54,149.11 377.81,148.77 378.09,147.78 378.37,146.72 378.65,145.74 378.93,144 379.2,143.38 379.48,144.2 379.76,143.64 380.04,141.72 380.32,140.83 380.59,140.54 380.87,139.35 381.15,137.75 381.43,136.11 381.71,134.31 381.98,132.49 382.26,130.68 382.54,129.69 382.82,129.19 383.1,128.29 383.37,127.6 383.65,127.94 383.93,128.11 384.21,126.84 384.49,125.25 384.76,124.16 385.04,123.93 385.32,123.6 385.6,122.68 385.88,121.99 386.15,122.45 386.43,122.92 386.71,122.8 386.99,122.58 387.27,122.09 387.54,121.34 387.82,120.17 388.1,119.46 388.38,120.11 388.66,120.53 388.93,120.23 389.21,120.22 389.49,120.83 389.77,120.62 390.05,119.48 390.32,118.69 390.6,118.87 390.88,119.32 391.16,118.89 391.44,117.31 391.71,116.18 391.99,116.37 392.27,116.81 392.55,117.28 392.83,117.89 393.1,117.78 393.38,117.13 393.66,116.67 393.94,116.85 394.22,116.54 394.49,114.87 394.77,114.07 395.05,114.77 395.33,115.05 395.6,114.87 395.88,115.17 396.16,115.37 396.44,114.57 396.72,114.11 396.99,113.91 397.27,114.36 397.55,114.88 397.83,114.57 398.11,114.36 398.38,115.01 398.66,115.48 398.94,115.72 399.22,115.19 399.5,113.49 399.77,112.74 400.05,112.83 400.33,113.08 400.61,113.64 400.89,112.9 401.16,111.75 401.44,113.14 401.72,116.45 402,117.69 402.28,115.56 402.55,113.28 402.83,112.94 403.11,112.9 403.39,112.78 403.67,112.91 403.94,112.28 404.22,111.45 404.5,111.38 404.78,111.89 405.06,112.28 405.33,112.05 405.61,111.27 405.89,109.75 406.17,109.67 406.45,112.28 406.72,114.1 407,113.11 407.28,111.22 407.56,110.12 407.84,110.56 408.11,111.87 408.39,111.98 408.67,111.33 408.95,111.26 409.23,110.89 409.5,110.57 409.78,110.13 410.06,109.71 410.34,109.72 410.62,110.44 410.89,111.34 411.17,111.24 411.45,110.72 411.73,110.12 412.01,110 412.28,111.04 412.56,112.07 412.84,112.14 413.12,111.41 413.4,110.83 413.67,110.62 413.95,110.1 414.23,110.37 414.51,111.48 414.79,111.95 415.06,111.21 415.34,111.04 415.62,111.16 415.9,109.65 416.17,108.57 416.45,108.84 416.73,108.43 417.01,107.64 417.29,108.7 417.56,110.55 417.84,111.13 418.12,111.26 418.4,112.06 418.68,112.49 418.95,111.52 419.23,110.89 419.51,110.59 419.79,110.11 420.07,109.92 420.34,110.49 420.62,110.57 420.9,109.39 421.18,108.58 421.46,108.6 421.73,108.44 422.01,108.78 422.29,108.9 422.57,108.51 422.85,108.6 423.12,108.54 423.4,108.66 423.68,109.1 423.96,109.64 424.24,108.97 424.51,107.52 424.79,107.17 425.07,107.52 425.35,107.66 425.63,107.92 425.9,108.71 426.18,108.73 426.46,108.09 426.74,107.83 427.02,107.46 427.29,106.77 427.57,106.15 427.85,105.08 428.13,103.61 428.41,103.06 428.68,103.58 428.96,104.84 429.24,106.13 429.52,106.75 429.8,106.81 430.07,106.58 430.35,104.85 430.63,102.13 430.91,100.29 431.19,100.09 431.46,100.09 431.74,98.82 432.02,96.68 432.3,93.59 432.58,84.27 432.85,72.77 433.13,69.6 433.41,76.42 433.69,86.17 433.97,93.88 434.24,100.06 434.52,103.9 434.8,107 435.08,110.32 435.35,113.27 435.63,115.22 435.91,115.6 436.19,115.64 436.47,116.76 436.74,118.09 437.02,118.08 437.3,116.32 437.58,114.51 437.86,113.72 438.13,113.63 438.41,112.73 438.69,110.56 438.97,109.17 439.25,108.02 439.52,107.12 439.8,106.88" fill="none" stroke="#ff0000" stroke-width="1.25" stroke-linejoin="round" stroke-linecap="round" />
</g>
<rect x="245.5" y="22.7" width="194.3" height="155.9" fill="none" stroke="#9a9a9a" stroke-width="0.8"/>
<line x1="245.5" y1="22.7" x2="245.5" y2="178.6" stroke="#555" stroke-width="0.85" />
<line x1="245.5" y1="178.6" x2="439.8" y2="178.6" stroke="#555" stroke-width="0.85" />
<line x1="242.2" y1="34.6" x2="245.5" y2="34.6" stroke="#555" stroke-width="0.8" />
<text x="238.6" y="37.45" font-size="8" text-anchor="end" font-weight="normal" font-style="normal" fill="#333" stroke="#333" stroke-width="0.2" >0</text>
<line x1="242.2" y1="58.6" x2="245.5" y2="58.6" stroke="#555" stroke-width="0.8" />
<text x="238.6" y="61.45" font-size="8" text-anchor="end" font-weight="normal" font-style="normal" fill="#333" stroke="#333" stroke-width="0.2" >−10</text>
<line x1="242.2" y1="82.6" x2="245.5" y2="82.6" stroke="#555" stroke-width="0.8" />
<text x="238.6" y="85.45" font-size="8" text-anchor="end" font-weight="normal" font-style="normal" fill="#333" stroke="#333" stroke-width="0.2" >−20</text>
<line x1="242.2" y1="106.6" x2="245.5" y2="106.6" stroke="#555" stroke-width="0.8" />
<text x="238.6" y="109.45" font-size="8" text-anchor="end" font-weight="normal" font-style="normal" fill="#333" stroke="#333" stroke-width="0.2" >−30</text>
<line x1="242.2" y1="130.6" x2="245.5" y2="130.6" stroke="#555" stroke-width="0.8" />
<text x="238.6" y="133.45" font-size="8" text-anchor="end" font-weight="normal" font-style="normal" fill="#333" stroke="#333" stroke-width="0.2" >−40</text>
<line x1="242.2" y1="154.6" x2="245.5" y2="154.6" stroke="#555" stroke-width="0.8" />
<text x="238.6" y="157.45" font-size="8" text-anchor="end" font-weight="normal" font-style="normal" fill="#333" stroke="#333" stroke-width="0.2" >−50</text>
<line x1="242.2" y1="178.6" x2="245.5" y2="178.6" stroke="#555" stroke-width="0.8" />
<text x="238.6" y="181.45" font-size="8" text-anchor="end" font-weight="normal" font-style="normal" fill="#333" stroke="#333" stroke-width="0.2" >−60</text>
<line x1="245.5" y1="178.6" x2="245.5" y2="181.6" stroke="#555" stroke-width="0.8" />
<text x="246" y="193.6" font-size="8" text-anchor="middle" font-weight="normal" font-style="normal" fill="#333" stroke="#333" stroke-width="0.2" >50</text>
<line x1="301.01" y1="178.6" x2="301.01" y2="181.6" stroke="#555" stroke-width="0.8" />
<text x="301.51" y="193.6" font-size="8" text-anchor="middle" font-weight="normal" font-style="normal" fill="#333" stroke="#333" stroke-width="0.2" >100</text>
<line x1="356.53" y1="178.6" x2="356.53" y2="181.6" stroke="#555" stroke-width="0.8" />
<text x="357.03" y="193.6" font-size="8" text-anchor="middle" font-weight="normal" font-style="normal" fill="#333" stroke="#333" stroke-width="0.2" >150</text>
<line x1="412.05" y1="178.6" x2="412.05" y2="181.6" stroke="#555" stroke-width="0.8" />
<text x="412.55" y="193.6" font-size="8" text-anchor="middle" font-weight="normal" font-style="normal" fill="#333" stroke="#333" stroke-width="0.2" >200</text>
<text transform="translate(217.8,100.4) rotate(-90)" font-size="8.6" text-anchor="middle" fill="#231f20" stroke="#231f20" stroke-width="0.2"><tspan font-style="italic">V</tspan> (μV)</text>
<text x="342.6" y="208.2" font-size="8.8" text-anchor="middle" fill="#231f20" stroke="#231f20" stroke-width="0.2"><tspan font-style="italic">μ</tspan><tspan font-size="6" dy="2">0</tspan><tspan font-style="italic" dy="-2">H</tspan><tspan font-size="6" dy="2">ext</tspan><tspan dy="-2"> (mT)</tspan></text>
<text x="254.8" y="133.2" font-size="8.7" text-anchor="start" font-weight="normal" font-style="normal" fill="#231f20" stroke="#231f20" stroke-width="0.2" >225°</text>
<line x1="263.3" y1="143.6" x2="271.7" y2="143.6" stroke="#0000ff" stroke-width="1.1" />
<text x="275.8" y="146.2" font-size="7.4" text-anchor="start" font-weight="normal" font-style="normal" fill="#231f20" stroke="#231f20" stroke-width="0.2" >4 mA</text>
<line x1="263.3" y1="156.2" x2="271.7" y2="156.2" stroke="#8000ff" stroke-width="1.1" />
<text x="275.8" y="158.8" font-size="7.4" text-anchor="start" font-weight="normal" font-style="normal" fill="#231f20" stroke="#231f20" stroke-width="0.2" >5 mA</text>
<line x1="263.3" y1="168.6" x2="271.7" y2="168.6" stroke="#ff0000" stroke-width="1.1" />
<text x="275.8" y="171.2" font-size="7.4" text-anchor="start" font-weight="normal" font-style="normal" fill="#231f20" stroke="#231f20" stroke-width="0.2" >6 mA</text>
<polygon points="307.7,51.4 297.3,70.9 318.09999999999997,70.9" fill="#5bbde6" fill-opacity="0.35"/>
<line x1="307.7" y1="51.4" x2="318" y2="70.6" stroke="#2aa4dc" stroke-width="0.7" stroke-opacity="0.8"/>
<line x1="307.7" y1="51.4" x2="317.5" y2="71.16" stroke="#2aa4dc" stroke-width="0.7" stroke-opacity="0.8"/>
<line x1="307.7" y1="51.4" x2="316.03" y2="71.66" stroke="#2aa4dc" stroke-width="0.7" stroke-opacity="0.8"/>
<line x1="307.7" y1="51.4" x2="313.75" y2="72.06" stroke="#2aa4dc" stroke-width="0.7" stroke-opacity="0.8"/>
<line x1="307.7" y1="51.4" x2="310.88" y2="72.31" stroke="#2aa4dc" stroke-width="0.7" stroke-opacity="0.8"/>
<line x1="307.7" y1="51.4" x2="307.7" y2="72.4" stroke="#2aa4dc" stroke-width="0.7" stroke-opacity="0.8"/>
<line x1="307.7" y1="51.4" x2="304.52" y2="72.31" stroke="#2aa4dc" stroke-width="0.7" stroke-opacity="0.8"/>
<line x1="307.7" y1="51.4" x2="301.65" y2="72.06" stroke="#2aa4dc" stroke-width="0.7" stroke-opacity="0.8"/>
<line x1="307.7" y1="51.4" x2="299.37" y2="71.66" stroke="#2aa4dc" stroke-width="0.7" stroke-opacity="0.8"/>
<line x1="307.7" y1="51.4" x2="297.9" y2="71.16" stroke="#2aa4dc" stroke-width="0.7" stroke-opacity="0.8"/>
<line x1="307.7" y1="51.4" x2="297.4" y2="70.6" stroke="#2aa4dc" stroke-width="0.7" stroke-opacity="0.8"/>
<line x1="307.7" y1="51.4" x2="297.9" y2="70.04" stroke="#2aa4dc" stroke-width="0.7" stroke-opacity="0.8"/>
<line x1="307.7" y1="51.4" x2="299.37" y2="69.54" stroke="#2aa4dc" stroke-width="0.7" stroke-opacity="0.8"/>
<line x1="307.7" y1="51.4" x2="301.65" y2="69.14" stroke="#2aa4dc" stroke-width="0.7" stroke-opacity="0.8"/>
<line x1="307.7" y1="51.4" x2="304.52" y2="68.89" stroke="#2aa4dc" stroke-width="0.7" stroke-opacity="0.8"/>
<line x1="307.7" y1="51.4" x2="307.7" y2="68.8" stroke="#2aa4dc" stroke-width="0.7" stroke-opacity="0.8"/>
<line x1="307.7" y1="51.4" x2="310.88" y2="68.89" stroke="#2aa4dc" stroke-width="0.7" stroke-opacity="0.8"/>
<line x1="307.7" y1="51.4" x2="313.75" y2="69.14" stroke="#2aa4dc" stroke-width="0.7" stroke-opacity="0.8"/>
<line x1="307.7" y1="51.4" x2="316.03" y2="69.54" stroke="#2aa4dc" stroke-width="0.7" stroke-opacity="0.8"/>
<line x1="307.7" y1="51.4" x2="317.5" y2="70.04" stroke="#2aa4dc" stroke-width="0.7" stroke-opacity="0.8"/>
<ellipse cx="307.7" cy="70.6" rx="10.3" ry="1.8" fill="none" stroke="#5a7f96" stroke-width="0.5"/>
<circle cx="307.7" cy="50.9" r="24.8" fill="none" stroke="#231f20" stroke-width="0.95"/>
<ellipse cx="307.7" cy="50.9" rx="24.8" ry="5" fill="none" stroke="#231f20" stroke-width="0.95"/>
<line x1="282.9" y1="50.9" x2="332.5" y2="50.9" stroke="#231f20" stroke-width="0.76" />
<line x1="307.7" y1="26.1" x2="307.7" y2="75.7" stroke="#231f20" stroke-width="0.76" />
<text x="317.6" y="65.6" font-size="7.6" text-anchor="start" font-weight="bold" font-style="normal" fill="#000" stroke="#000" stroke-width="0.3" >M</text>
<line x1="276.8" y1="39.5" x2="276.8" y2="58.3" stroke="#10ae4e" stroke-width="2.2"/>
<polygon points="272.5,57.3 276.8,59.92 281.1,57.3 276.8,67.8" fill="#10ae4e"/>
<text x="272" y="77" font-size="8.6" font-weight="bold" fill="#111" stroke="#111" stroke-width="0.25">H<tspan font-size="5.848" font-weight="normal" stroke-width="0.15" dy="1.89">ext</tspan></text>
<polygon points="413.4,151.7 404.0,133.6 422.79999999999995,133.6" fill="#f46a6a" fill-opacity="0.45"/>
<line x1="413.4" y1="151.7" x2="422.7" y2="133.8" stroke="#f02828" stroke-width="0.65" stroke-opacity="0.7"/>
<line x1="413.4" y1="151.7" x2="422.24" y2="134.29" stroke="#f02828" stroke-width="0.65" stroke-opacity="0.7"/>
<line x1="413.4" y1="151.7" x2="420.92" y2="134.74" stroke="#f02828" stroke-width="0.65" stroke-opacity="0.7"/>
<line x1="413.4" y1="151.7" x2="418.87" y2="135.09" stroke="#f02828" stroke-width="0.65" stroke-opacity="0.7"/>
<line x1="413.4" y1="151.7" x2="416.27" y2="135.32" stroke="#f02828" stroke-width="0.65" stroke-opacity="0.7"/>
<line x1="413.4" y1="151.7" x2="413.4" y2="135.4" stroke="#f02828" stroke-width="0.65" stroke-opacity="0.7"/>
<line x1="413.4" y1="151.7" x2="410.53" y2="135.32" stroke="#f02828" stroke-width="0.65" stroke-opacity="0.7"/>
<line x1="413.4" y1="151.7" x2="407.93" y2="135.09" stroke="#f02828" stroke-width="0.65" stroke-opacity="0.7"/>
<line x1="413.4" y1="151.7" x2="405.88" y2="134.74" stroke="#f02828" stroke-width="0.65" stroke-opacity="0.7"/>
<line x1="413.4" y1="151.7" x2="404.56" y2="134.29" stroke="#f02828" stroke-width="0.65" stroke-opacity="0.7"/>
<line x1="413.4" y1="151.7" x2="404.1" y2="133.8" stroke="#f02828" stroke-width="0.65" stroke-opacity="0.7"/>
<line x1="413.4" y1="151.7" x2="404.56" y2="133.31" stroke="#f02828" stroke-width="0.65" stroke-opacity="0.7"/>
<line x1="413.4" y1="151.7" x2="405.88" y2="132.86" stroke="#f02828" stroke-width="0.65" stroke-opacity="0.7"/>
<line x1="413.4" y1="151.7" x2="407.93" y2="132.51" stroke="#f02828" stroke-width="0.65" stroke-opacity="0.7"/>
<line x1="413.4" y1="151.7" x2="410.53" y2="132.28" stroke="#f02828" stroke-width="0.65" stroke-opacity="0.7"/>
<line x1="413.4" y1="151.7" x2="413.4" y2="132.2" stroke="#f02828" stroke-width="0.65" stroke-opacity="0.7"/>
<line x1="413.4" y1="151.7" x2="416.27" y2="132.28" stroke="#f02828" stroke-width="0.65" stroke-opacity="0.7"/>
<line x1="413.4" y1="151.7" x2="418.87" y2="132.51" stroke="#f02828" stroke-width="0.65" stroke-opacity="0.7"/>
<line x1="413.4" y1="151.7" x2="420.92" y2="132.86" stroke="#f02828" stroke-width="0.65" stroke-opacity="0.7"/>
<line x1="413.4" y1="151.7" x2="422.24" y2="133.31" stroke="#f02828" stroke-width="0.65" stroke-opacity="0.7"/>
<ellipse cx="413.4" cy="133.8" rx="9.3" ry="1.6" fill="none" stroke="#f02828" stroke-width="0.5" stroke-opacity="0.6"/>
<circle cx="413.4" cy="152.2" r="22.1" fill="none" stroke="#231f20" stroke-width="0.95"/>
<ellipse cx="413.4" cy="152.2" rx="22.1" ry="4.2" fill="none" stroke="#231f20" stroke-width="0.95"/>
<line x1="391.3" y1="152.2" x2="435.5" y2="152.2" stroke="#231f20" stroke-width="0.76" />
<line x1="413.4" y1="130.1" x2="413.4" y2="174.3" stroke="#231f20" stroke-width="0.76" />
<line x1="386.5" y1="139.8" x2="386.5" y2="158.7" stroke="#10ae4e" stroke-width="2.2"/>
<polygon points="382.2,157.7 386.5,160.32 390.8,157.7 386.5,168.2" fill="#10ae4e"/>
<text x="450.3" y="28.2" font-size="12" text-anchor="start" font-weight="bold" font-style="normal" fill="#000" stroke="#000" stroke-width="0.3" >c</text>
<defs><clipPath id="cpc"><rect x="481.8" y="22.5" width="194.8" height="156.7"/></clipPath></defs>
<g clip-path="url(#cpc)">
<polyline points="482.3,76.97 482.54,76.91 482.79,76.83 483.03,76.76 483.27,76.73 483.51,76.77 483.76,76.87 484,76.97 484.24,76.96 484.49,76.86 484.73,76.7 484.97,76.55 485.22,76.46 485.46,76.46 485.7,76.47 485.94,76.47 486.19,76.46 486.43,76.42 486.67,76.31 486.92,76.12 487.16,75.98 487.4,76 487.64,76.19 487.89,76.42 488.13,76.56 488.37,76.56 488.62,76.45 488.86,76.36 489.1,76.37 489.34,76.49 489.59,76.65 489.83,76.71 490.07,76.65 490.32,76.52 490.56,76.4 490.8,76.33 491.05,76.31 491.29,76.27 491.53,76.21 491.77,76.17 492.02,76.2 492.26,76.3 492.5,76.42 492.75,76.46 492.99,76.45 493.23,76.5 493.47,76.68 493.72,76.87 493.96,77 494.2,77.09 494.45,77.18 494.69,77.19 494.93,77.05 495.18,76.82 495.42,76.6 495.66,76.41 495.9,76.24 496.15,76.15 496.39,76.19 496.63,76.36 496.88,76.69 497.12,77.07 497.36,77.26 497.6,77.16 497.85,76.93 498.09,76.77 498.33,76.69 498.58,76.64 498.82,76.66 499.06,76.8 499.31,76.92 499.55,76.94 499.79,76.93 500.03,77.01 500.28,77.16 500.52,77.3 500.76,77.32 501.01,77.27 501.25,77.26 501.49,77.31 501.73,77.35 501.98,77.33 502.22,77.27 502.46,77.19 502.71,77.04 502.95,76.85 503.19,76.74 503.43,76.77 503.68,76.84 503.92,76.83 504.16,76.78 504.41,76.76 504.65,76.76 504.89,76.79 505.14,76.87 505.38,76.99 505.62,77.05 505.86,77.04 506.11,77 506.35,77.01 506.59,77.07 506.84,77.15 507.08,77.19 507.32,77.21 507.56,77.2 507.81,77.16 508.05,77.1 508.29,77.12 508.54,77.22 508.78,77.3 509.02,77.25 509.27,77.15 509.51,77.12 509.75,77.19 509.99,77.29 510.24,77.38 510.48,77.51 510.72,77.64 510.97,77.67 511.21,77.6 511.45,77.54 511.69,77.55 511.94,77.62 512.18,77.67 512.42,77.63 512.67,77.52 512.91,77.43 513.15,77.37 513.39,77.35 513.64,77.4 513.88,77.56 514.12,77.76 514.37,77.85 514.61,77.8 514.85,77.71 515.1,77.62 515.34,77.5 515.58,77.35 515.82,77.21 516.07,77.12 516.31,77.06 516.55,77.02 516.8,77.03 517.04,77.14 517.28,77.31 517.52,77.48 517.77,77.57 518.01,77.58 518.25,77.56 518.5,77.6 518.74,77.71 518.98,77.8 519.23,77.83 519.47,77.84 519.71,77.87 519.95,77.98 520.2,78.12 520.44,78.17 520.68,78.14 520.93,78.17 521.17,78.26 521.41,78.29 521.65,78.2 521.9,78.08 522.14,78 522.38,77.96 522.63,77.91 522.87,77.83 523.11,77.74 523.35,77.77 523.6,77.93 523.84,78.03 524.08,77.97 524.33,77.89 524.57,77.9 524.81,78.02 525.06,78.19 525.3,78.32 525.54,78.34 525.78,78.29 526.03,78.26 526.27,78.31 526.51,78.4 526.76,78.49 527,78.51 527.24,78.34 527.48,78.01 527.73,77.69 527.97,77.51 528.21,77.49 528.46,77.58 528.7,77.8 528.94,78.09 529.19,78.32 529.43,78.41 529.67,78.43 529.91,78.45 530.16,78.42 530.4,78.34 530.64,78.26 530.89,78.23 531.13,78.25 531.37,78.26 531.61,78.22 531.86,78.14 532.1,78.08 532.34,78.11 532.59,78.25 532.83,78.34 533.07,78.3 533.32,78.16 533.56,78.07 533.8,78.06 534.04,78.07 534.29,78.09 534.53,78.09 534.77,78.1 535.02,78.2 535.26,78.38 535.5,78.48 535.74,78.42 535.99,78.29 536.23,78.19 536.47,78.2 536.72,78.25 536.96,78.21 537.2,78.02 537.44,77.8 537.69,77.71 537.93,77.79 538.17,77.96 538.42,78.13 538.66,78.26 538.9,78.3 539.15,78.29 539.39,78.24 539.63,78.1 539.87,77.91 540.12,77.77 540.36,77.79 540.6,77.94 540.85,78.07 541.09,78.11 541.33,78.12 541.57,78.17 541.82,78.3 542.06,78.42 542.3,78.44 542.55,78.41 542.79,78.41 543.03,78.39 543.28,78.29 543.52,78.16 543.76,78.03 544,77.89 544.25,77.74 544.49,77.67 544.73,77.68 544.98,77.76 545.22,77.87 545.46,77.99 545.7,78.01 545.95,77.9 546.19,77.82 546.43,77.95 546.68,78.17 546.92,78.2 547.16,77.95 547.4,77.64 547.65,77.5 547.89,77.59 548.13,77.87 548.38,78.19 548.62,78.41 548.86,78.44 549.11,78.29 549.35,78.07 549.59,77.92 549.83,77.93 550.08,78.08 550.32,78.2 550.56,78.19 550.81,78.13 551.05,78.12 551.29,78.18 551.53,78.24 551.78,78.23 552.02,78.12 552.26,77.97 552.51,77.88 552.75,77.89 552.99,77.97 553.24,78.13 553.48,78.31 553.72,78.39 553.96,78.24 554.21,77.97 554.45,77.75 554.69,77.68 554.94,77.75 555.18,77.89 555.42,78 555.66,78.04 555.91,78.03 556.15,77.96 556.39,77.8 556.64,77.63 556.88,77.59 557.12,77.67 557.36,77.81 557.61,77.92 557.85,77.92 558.09,77.81 558.34,77.69 558.58,77.62 558.82,77.6 559.07,77.6 559.31,77.63 559.55,77.7 559.79,77.76 560.04,77.7 560.28,77.55 560.52,77.51 560.77,77.63 561.01,77.71 561.25,77.64 561.49,77.53 561.74,77.5 561.98,77.5 562.22,77.48 562.47,77.45 562.71,77.44 562.95,77.45 563.2,77.48 563.44,77.5 563.68,77.47 563.92,77.38 564.17,77.28 564.41,77.26 564.65,77.29 564.9,77.26 565.14,77.19 565.38,77.21 565.62,77.32 565.87,77.39 566.11,77.29 566.35,77.06 566.6,76.86 566.84,76.83 567.08,76.94 567.33,77.07 567.57,77.16 567.81,77.24 568.05,77.22 568.3,77.12 568.54,76.99 568.78,76.87 569.03,76.76 569.27,76.72 569.51,76.75 569.75,76.77 570,76.71 570.24,76.63 570.48,76.58 570.73,76.55 570.97,76.49 571.21,76.44 571.45,76.39 571.7,76.33 571.94,76.26 572.18,76.19 572.43,76.12 572.67,76.08 572.91,76.1 573.16,76.15 573.4,76.18 573.64,76.2 573.88,76.24 574.13,76.3 574.37,76.33 574.61,76.3 574.86,76.23 575.1,76.13 575.34,76.07 575.58,76.14 575.83,76.24 576.07,76.25 576.31,76.22 576.56,76.23 576.8,76.26 577.04,76.25 577.29,76.23 577.53,76.31 577.77,76.46 578.01,76.51 578.26,76.37 578.5,76.08 578.74,75.81 578.99,75.69 579.23,75.69 579.47,75.75 579.71,75.8 579.96,75.84 580.2,75.86 580.44,75.82 580.69,75.77 580.93,75.77 581.17,75.9 581.41,76.11 581.66,76.28 581.9,76.31 582.14,76.22 582.39,76.15 582.63,76.2 582.87,76.32 583.12,76.34 583.36,76.18 583.6,75.91 583.84,75.67 584.09,75.61 584.33,75.79 584.57,76.07 584.82,76.21 585.06,76.12 585.3,75.97 585.54,75.91 585.79,75.87 586.03,75.78 586.27,75.66 586.52,75.55 586.76,75.45 587,75.41 587.25,75.4 587.49,75.37 587.73,75.35 587.97,75.45 588.22,75.68 588.46,75.89 588.7,75.96 588.95,75.93 589.19,75.84 589.43,75.71 589.67,75.53 589.92,75.4 590.16,75.39 590.4,75.48 590.65,75.57 590.89,75.57 591.13,75.44 591.37,75.29 591.62,75.22 591.86,75.29 592.1,75.46 592.35,75.59 592.59,75.56 592.83,75.34 593.08,75.06 593.32,74.93 593.56,74.98 593.8,75.06 594.05,75.14 594.29,75.28 594.53,75.49 594.78,75.64 595.02,75.66 595.26,75.57 595.5,75.48 595.75,75.46 595.99,75.49 596.23,75.52 596.48,75.58 596.72,75.68 596.96,75.77 597.21,75.78 597.45,75.69 597.69,75.53 597.93,75.38 598.18,75.23 598.42,75.09 598.66,75.01 598.91,75.03 599.15,75.08 599.39,75.13 599.63,75.09 599.88,74.92 600.12,74.72 600.36,74.63 600.61,74.7 600.85,74.86 601.09,75.05 601.34,75.21 601.58,75.35 601.82,75.44 602.06,75.49 602.31,75.5 602.55,75.48 602.79,75.42 603.04,75.32 603.28,75.18 603.52,74.98 603.76,74.72 604.01,74.5 604.25,74.41 604.49,74.43 604.74,74.48 604.98,74.48 605.22,74.46 605.46,74.43 605.71,74.45 605.95,74.52 606.19,74.51 606.44,74.38 606.68,74.28 606.92,74.31 607.17,74.39 607.41,74.41 607.65,74.41 607.89,74.41 608.14,74.34 608.38,74.17 608.62,74.02 608.87,74.01 609.11,74.14 609.35,74.28 609.59,74.32 609.84,74.24 610.08,74.17 610.32,74.2 610.57,74.26 610.81,74.32 611.05,74.37 611.3,74.4 611.54,74.35 611.78,74.18 612.02,73.93 612.27,73.76 612.51,73.74 612.75,73.77 613,73.76 613.24,73.71 613.48,73.64 613.72,73.65 613.97,73.7 614.21,73.67 614.45,73.57 614.7,73.5 614.94,73.51 615.18,73.52 615.42,73.48 615.67,73.43 615.91,73.42 616.15,73.43 616.4,73.4 616.64,73.3 616.88,73.16 617.13,73.05 617.37,72.94 617.61,72.77 617.85,72.64 618.1,72.64 618.34,72.67 618.58,72.64 618.83,72.58 619.07,72.57 619.31,72.59 619.55,72.56 619.8,72.42 620.04,72.16 620.28,71.86 620.53,71.67 620.77,71.63 621.01,71.65 621.26,71.61 621.5,71.5 621.74,71.36 621.98,71.15 622.23,70.94 622.47,70.9 622.71,71.01 622.96,71.07 623.2,70.97 623.44,70.72 623.68,70.38 623.93,70.07 624.17,69.84 624.41,69.64 624.66,69.42 624.9,69.12 625.14,68.79 625.38,68.49 625.63,68.28 625.87,68.08 626.11,67.73 626.36,67.14 626.6,66.38 626.84,65.62 627.09,65.03 627.33,64.64 627.57,64.24 627.81,63.7 628.06,63.04 628.3,62.27 628.54,61.38 628.79,60.51 629.03,59.83 629.27,59.29 629.51,58.63 629.76,57.74 630,56.69 630.24,55.6 630.49,54.52 630.73,53.43 630.97,52.35 631.22,51.24 631.46,50.06 631.7,48.84 631.94,47.69 632.19,46.68 632.43,45.76 632.67,44.8 632.92,43.67 633.16,42.38 633.4,41.01 633.64,39.73 633.89,38.58 634.13,37.52 634.37,36.56 634.62,35.72 634.86,34.99 635.1,34.26 635.35,33.44 635.59,32.64 635.83,32.01 636.07,31.59 636.32,31.27 636.56,30.94 636.8,30.67 637.05,30.65 637.29,30.9 637.53,31.24 637.77,31.56 638.02,31.93 638.26,32.52 638.5,33.37 638.75,34.34 638.99,35.22 639.23,35.98 639.47,36.83 639.72,37.85 639.96,38.95 640.2,40.12 640.45,41.33 640.69,42.58 640.93,43.82 641.18,45.02 641.42,46.15 641.66,47.26 641.9,48.44 642.15,49.67 642.39,50.8 642.63,51.78 642.88,52.74 643.12,53.76 643.36,54.87 643.6,56.01 643.85,57.1 644.09,58.08 644.33,58.96 644.58,59.76 644.82,60.47 645.06,61.08 645.31,61.61 645.55,62.12 645.79,62.7 646.03,63.35 646.28,63.99 646.52,64.58 646.76,65.1 647.01,65.62 647.25,66.2 647.49,66.75 647.73,67.19 647.98,67.57 648.22,68 648.46,68.46 648.71,68.9 648.95,69.28 649.19,69.58 649.43,69.76 649.68,69.88 649.92,69.96 650.16,70.07 650.41,70.28 650.65,70.59 650.89,70.95 651.14,71.27 651.38,71.49 651.62,71.61 651.86,71.7 652.11,71.82 652.35,71.91 652.59,71.98 652.84,72.1 653.08,72.29 653.32,72.49 653.56,72.68 653.81,72.87 654.05,73.02 654.29,73.07 654.54,73.02 654.78,72.98 655.02,73.04 655.27,73.19 655.51,73.38 655.75,73.5 655.99,73.57 656.24,73.64 656.48,73.75 656.72,73.82 656.97,73.83 657.21,73.86 657.45,73.96 657.69,74.06 657.94,74.12 658.18,74.24 658.42,74.43 658.67,74.55 658.91,74.52 659.15,74.47 659.39,74.54 659.64,74.7 659.88,74.83 660.12,74.86 660.37,74.83 660.61,74.8 660.85,74.85 661.1,75 661.34,75.19 661.58,75.3 661.82,75.28 662.07,75.2 662.31,75.18 662.55,75.22 662.8,75.28 663.04,75.36 663.28,75.46 663.52,75.49 663.77,75.44 664.01,75.41 664.25,75.45 664.5,75.47 664.74,75.46 664.98,75.48 665.23,75.46 665.47,75.31 665.71,75.11 665.95,75.01 666.2,75.03 666.44,75.07 666.68,75.04 666.93,74.88 667.17,74.67 667.41,74.59 667.65,74.7 667.9,74.88 668.14,74.96 668.38,74.89 668.63,74.76 668.87,74.72 669.11,74.81 669.36,74.94 669.6,74.99 669.84,74.93 670.08,74.82 670.33,74.64 670.57,74.41 670.81,74.26 671.06,74.32 671.3,74.55 671.54,74.75 671.78,74.78 672.03,74.68 672.27,74.59 672.51,74.54 672.76,74.45 673,74.35 673.24,74.32 673.48,74.34 673.73,74.37 673.97,74.38 674.21,74.35 674.46,74.27 674.7,74.2 674.94,74.25 675.19,74.33 675.43,74.3 675.67,74.16 675.91,73.98 676.16,73.82 676.4,73.73" fill="none" stroke="#22cdd6" stroke-width="1.15" stroke-linejoin="round" stroke-linecap="round" />
<polyline points="482.3,76.88 482.54,76.74 482.79,76.55 483.03,76.4 483.27,76.33 483.51,76.33 483.76,76.35 484,76.28 484.24,76.14 484.49,76.06 484.73,76.11 484.97,76.23 485.22,76.29 485.46,76.24 485.7,76.11 485.94,75.99 486.19,75.94 486.43,76.02 486.67,76.25 486.92,76.58 487.16,76.81 487.4,76.81 487.64,76.59 487.89,76.36 488.13,76.32 488.37,76.45 488.62,76.65 488.86,76.83 489.1,76.95 489.34,76.95 489.59,76.84 489.83,76.71 490.07,76.61 490.32,76.56 490.56,76.54 490.8,76.49 491.05,76.39 491.29,76.4 491.53,76.59 491.77,76.89 492.02,77.11 492.26,77.13 492.5,76.97 492.75,76.75 492.99,76.54 493.23,76.36 493.47,76.29 493.72,76.33 493.96,76.44 494.2,76.55 494.45,76.61 494.69,76.65 494.93,76.64 495.18,76.52 495.42,76.4 495.66,76.41 495.9,76.6 496.15,76.83 496.39,76.95 496.63,76.92 496.88,76.79 497.12,76.65 497.36,76.56 497.6,76.57 497.85,76.57 498.09,76.54 498.33,76.58 498.58,76.79 498.82,77.05 499.06,77.22 499.31,77.29 499.55,77.3 499.79,77.23 500.03,77.08 500.28,76.93 500.52,76.89 500.76,76.98 501.01,77.09 501.25,77.14 501.49,77.12 501.73,77.08 501.98,77.07 502.22,77.09 502.46,76.99 502.71,76.73 502.95,76.44 503.19,76.3 503.43,76.3 503.68,76.34 503.92,76.36 504.16,76.37 504.41,76.5 504.65,76.78 504.89,77.11 505.14,77.33 505.38,77.39 505.62,77.35 505.86,77.27 506.11,77.15 506.35,77.01 506.59,76.85 506.84,76.71 507.08,76.64 507.32,76.67 507.56,76.76 507.81,76.96 508.05,77.27 508.29,77.53 508.54,77.57 508.78,77.34 509.02,77.02 509.27,76.76 509.51,76.64 509.75,76.7 509.99,76.93 510.24,77.2 510.48,77.37 510.72,77.39 510.97,77.38 511.21,77.42 511.45,77.48 511.69,77.55 511.94,77.63 512.18,77.68 512.42,77.63 512.67,77.49 512.91,77.38 513.15,77.41 513.39,77.55 513.64,77.66 513.88,77.62 514.12,77.5 514.37,77.47 514.61,77.58 514.85,77.7 515.1,77.69 515.34,77.57 515.58,77.45 515.82,77.43 516.07,77.55 516.31,77.73 516.55,77.82 516.8,77.8 517.04,77.81 517.28,77.88 517.52,77.95 517.77,77.96 518.01,77.88 518.25,77.73 518.5,77.57 518.74,77.45 518.98,77.44 519.23,77.57 519.47,77.81 519.71,78.1 519.95,78.34 520.2,78.43 520.44,78.33 520.68,78.16 520.93,78.04 521.17,77.94 521.41,77.83 521.65,77.8 521.9,77.88 522.14,78 522.38,78.03 522.63,77.96 522.87,77.89 523.11,77.95 523.35,78.1 523.6,78.24 523.84,78.33 524.08,78.37 524.33,78.41 524.57,78.47 524.81,78.47 525.06,78.41 525.3,78.35 525.54,78.37 525.78,78.4 526.03,78.38 526.27,78.32 526.51,78.19 526.76,78.03 527,77.93 527.24,77.91 527.48,78 527.73,78.2 527.97,78.41 528.21,78.47 528.46,78.34 528.7,78.14 528.94,77.93 529.19,77.78 529.43,77.78 529.67,77.94 529.91,78.14 530.16,78.29 530.4,78.41 530.64,78.51 530.89,78.53 531.13,78.48 531.37,78.32 531.61,78.07 531.86,77.89 532.1,77.92 532.34,78.06 532.59,78.14 532.83,78.14 533.07,78.14 533.32,78.12 533.56,78.05 533.8,78 534.04,77.99 534.29,78.03 534.53,78.07 534.77,78.15 535.02,78.3 535.26,78.44 535.5,78.57 535.74,78.75 535.99,78.93 536.23,78.97 536.47,78.86 536.72,78.68 536.96,78.45 537.2,78.17 537.44,77.89 537.69,77.72 537.93,77.61 538.17,77.55 538.42,77.6 538.66,77.79 538.9,77.96 539.15,78 539.39,77.99 539.63,77.98 539.87,77.91 540.12,77.76 540.36,77.67 540.6,77.71 540.85,77.84 541.09,77.94 541.33,77.94 541.57,77.88 541.82,77.89 542.06,77.93 542.3,77.93 542.55,77.88 542.79,77.95 543.03,78.12 543.28,78.18 543.52,78.04 543.76,77.84 544,77.77 544.25,77.89 544.49,78.06 544.73,78.12 544.98,78.02 545.22,77.82 545.46,77.66 545.7,77.65 545.95,77.72 546.19,77.75 546.43,77.71 546.68,77.72 546.92,77.83 547.16,77.98 547.4,78.09 547.65,78.11 547.89,78.04 548.13,77.97 548.38,78 548.62,78.09 548.86,78.09 549.11,77.95 549.35,77.79 549.59,77.81 549.83,78.04 550.08,78.29 550.32,78.38 550.56,78.27 550.81,78.12 551.05,78.06 551.29,78.03 551.53,77.93 551.78,77.81 552.02,77.8 552.26,77.93 552.51,78.11 552.75,78.22 552.99,78.13 553.24,77.86 553.48,77.57 553.72,77.42 553.96,77.4 554.21,77.41 554.45,77.41 554.69,77.46 554.94,77.52 555.18,77.58 555.42,77.63 555.66,77.68 555.91,77.66 556.15,77.54 556.39,77.41 556.64,77.29 556.88,77.17 557.12,77.07 557.36,77.01 557.61,77.01 557.85,77.12 558.09,77.31 558.34,77.5 558.58,77.68 558.82,77.84 559.07,77.91 559.31,77.83 559.55,77.69 559.79,77.58 560.04,77.45 560.28,77.31 560.52,77.27 560.77,77.37 561.01,77.48 561.25,77.5 561.49,77.47 561.74,77.42 561.98,77.41 562.22,77.43 562.47,77.49 562.71,77.55 562.95,77.54 563.2,77.43 563.44,77.27 563.68,77.17 563.92,77.17 564.17,77.19 564.41,77.17 564.65,77.15 564.9,77.15 565.14,77.11 565.38,77.01 565.62,76.9 565.87,76.84 566.11,76.79 566.35,76.81 566.6,76.97 566.84,77.28 567.08,77.58 567.33,77.69 567.57,77.56 567.81,77.28 568.05,77.03 568.3,76.86 568.54,76.71 568.78,76.55 569.03,76.43 569.27,76.39 569.51,76.42 569.75,76.45 570,76.54 570.24,76.7 570.48,76.87 570.73,77.01 570.97,77.1 571.21,77.11 571.45,77.06 571.7,76.98 571.94,76.85 572.18,76.7 572.43,76.57 572.67,76.53 572.91,76.49 573.16,76.4 573.4,76.3 573.64,76.26 573.88,76.27 574.13,76.29 574.37,76.28 574.61,76.22 574.86,76.11 575.1,76.06 575.34,76.15 575.58,76.3 575.83,76.36 576.07,76.27 576.31,76.09 576.56,75.91 576.8,75.76 577.04,75.67 577.29,75.68 577.53,75.83 577.77,76.06 578.01,76.21 578.26,76.2 578.5,76.12 578.74,76.06 578.99,76.02 579.23,75.9 579.47,75.74 579.71,75.62 579.96,75.6 580.2,75.7 580.44,75.9 580.69,76.07 580.93,76.07 581.17,76 581.41,75.95 581.66,75.89 581.9,75.72 582.14,75.46 582.39,75.28 582.63,75.25 582.87,75.36 583.12,75.53 583.36,75.62 583.6,75.57 583.84,75.41 584.09,75.34 584.33,75.48 584.57,75.7 584.82,75.78 585.06,75.65 585.3,75.5 585.54,75.48 585.79,75.54 586.03,75.55 586.27,75.54 586.52,75.57 586.76,75.61 587,75.56 587.25,75.42 587.49,75.27 587.73,75.18 587.97,75.14 588.22,75.13 588.46,75.19 588.7,75.27 588.95,75.31 589.19,75.31 589.43,75.3 589.67,75.27 589.92,75.15 590.16,74.98 590.4,74.86 590.65,74.87 590.89,74.98 591.13,75.14 591.37,75.27 591.62,75.31 591.86,75.25 592.1,75.13 592.35,74.97 592.59,74.8 592.83,74.68 593.08,74.58 593.32,74.47 593.56,74.41 593.8,74.46 594.05,74.56 594.29,74.61 594.53,74.59 594.78,74.53 595.02,74.47 595.26,74.42 595.5,74.37 595.75,74.37 595.99,74.43 596.23,74.54 596.48,74.67 596.72,74.82 596.96,74.9 597.21,74.88 597.45,74.82 597.69,74.78 597.93,74.69 598.18,74.49 598.42,74.23 598.66,73.98 598.91,73.76 599.15,73.61 599.39,73.53 599.63,73.51 599.88,73.52 600.12,73.55 600.36,73.61 600.61,73.76 600.85,73.91 601.09,73.89 601.34,73.7 601.58,73.58 601.82,73.67 602.06,73.81 602.31,73.79 602.55,73.62 602.79,73.44 603.04,73.32 603.28,73.22 603.52,73.13 603.76,73.09 604.01,73.06 604.25,72.98 604.49,72.87 604.74,72.79 604.98,72.65 605.22,72.39 605.46,72.08 605.71,71.9 605.95,71.87 606.19,71.86 606.44,71.78 606.68,71.64 606.92,71.56 607.17,71.51 607.41,71.33 607.65,70.97 607.89,70.64 608.14,70.48 608.38,70.4 608.62,70.2 608.87,69.8 609.11,69.28 609.35,68.8 609.59,68.39 609.84,68.01 610.08,67.53 610.32,66.88 610.57,66.12 610.81,65.4 611.05,64.76 611.3,64.08 611.54,63.3 611.78,62.45 612.02,61.63 612.27,60.72 612.51,59.61 612.75,58.29 613,56.92 613.24,55.58 613.48,54.28 613.72,53.03 613.97,51.78 614.21,50.45 614.45,48.97 614.7,47.41 614.94,45.91 615.18,44.49 615.42,43.09 615.67,41.64 615.91,40.05 616.15,38.31 616.4,36.56 616.64,35.04 616.88,33.77 617.13,32.61 617.37,31.44 617.61,30.27 617.85,29.2 618.1,28.35 618.34,27.84 618.58,27.58 618.83,27.4 619.07,27.21 619.31,27.1 619.55,27.22 619.8,27.65 620.04,28.38 620.28,29.28 620.53,30.27 620.77,31.36 621.01,32.56 621.26,33.9 621.5,35.39 621.74,36.92 621.98,38.46 622.23,40.03 622.47,41.61 622.71,43.14 622.96,44.62 623.2,46.08 623.44,47.54 623.68,49.07 623.93,50.68 624.17,52.22 624.41,53.6 624.66,54.81 624.9,55.96 625.14,57.07 625.38,58.11 625.63,59.15 625.87,60.2 626.11,61.21 626.36,62.12 626.6,62.91 626.84,63.61 627.09,64.29 627.33,64.97 627.57,65.56 627.81,66.02 628.06,66.47 628.3,67.09 628.54,67.87 628.79,68.6 629.03,69.13 629.27,69.5 629.51,69.82 629.76,70.09 630,70.32 630.24,70.63 630.49,71.01 630.73,71.34 630.97,71.51 631.22,71.6 631.46,71.7 631.7,71.82 631.94,71.9 632.19,72 632.43,72.11 632.67,72.18 632.92,72.3 633.16,72.54 633.4,72.86 633.64,73.15 633.89,73.35 634.13,73.46 634.37,73.53 634.62,73.64 634.86,73.79 635.1,73.9 635.35,73.91 635.59,73.92 635.83,73.99 636.07,74.08 636.32,74.18 636.56,74.38 636.8,74.71 637.05,75.1 637.29,75.43 637.53,75.65 637.77,75.78 638.02,75.93 638.26,76.12 638.5,76.23 638.75,76.21 638.99,76.07 639.23,75.95 639.47,75.96 639.72,76.15 639.96,76.44 640.2,76.72 640.45,76.87 640.69,76.88 640.93,76.86 641.18,76.9 641.42,76.99 641.66,77.08 641.9,77.23 642.15,77.43 642.39,77.61 642.63,77.69 642.88,77.62 643.12,77.41 643.36,77.26 643.6,77.34 643.85,77.59 644.09,77.78 644.33,77.81 644.58,77.78 644.82,77.8 645.06,77.88 645.31,77.96 645.55,77.99 645.79,77.95 646.03,77.85 646.28,77.78 646.52,77.75 646.76,77.74 647.01,77.75 647.25,77.72 647.49,77.6 647.73,77.44 647.98,77.29 648.22,77.16 648.46,77.08 648.71,77.02 648.95,76.99 649.19,76.99 649.43,76.94 649.68,76.77 649.92,76.53 650.16,76.4 650.41,76.45 650.65,76.59 650.89,76.67 651.14,76.62 651.38,76.46 651.62,76.3 651.86,76.18 652.11,76.09 652.35,76.01 652.59,75.94 652.84,75.84 653.08,75.67 653.32,75.47 653.56,75.3 653.81,75.18 654.05,75.14 654.29,75.21 654.54,75.34 654.78,75.44 655.02,75.48 655.27,75.5 655.51,75.51 655.75,75.48 655.99,75.34 656.24,75.12 656.48,74.92 656.72,74.83 656.97,74.84 657.21,74.89 657.45,74.93 657.69,74.94 657.94,74.95 658.18,74.98 658.42,75.05 658.67,75.1 658.91,75.06 659.15,74.95 659.39,74.83 659.64,74.76 659.88,74.72 660.12,74.68 660.37,74.65 660.61,74.65 660.85,74.67 661.1,74.62 661.34,74.45 661.58,74.25 661.82,74.13 662.07,74.12 662.31,74.14 662.55,74.14 662.8,74.13 663.04,74.17 663.28,74.27 663.52,74.4 663.77,74.5 664.01,74.54 664.25,74.51 664.5,74.42 664.74,74.33 664.98,74.32 665.23,74.38 665.47,74.41 665.71,74.39 665.95,74.39 666.2,74.47 666.44,74.59 666.68,74.7 666.93,74.76 667.17,74.78 667.41,74.73 667.65,74.61 667.9,74.48 668.14,74.45 668.38,74.51 668.63,74.58 668.87,74.65 669.11,74.72 669.36,74.76 669.6,74.72 669.84,74.67 670.08,74.65 670.33,74.67 670.57,74.66 670.81,74.56 671.06,74.44 671.3,74.34 671.54,74.29 671.78,74.28 672.03,74.26 672.27,74.29 672.51,74.43 672.76,74.63 673,74.76 673.24,74.75 673.48,74.68 673.73,74.6 673.97,74.49 674.21,74.37 674.46,74.32 674.7,74.43 674.94,74.62 675.19,74.73 675.43,74.7 675.67,74.56 675.91,74.41 676.16,74.28 676.4,74.21" fill="none" stroke="#10da18" stroke-width="1.15" stroke-linejoin="round" stroke-linecap="round" />
<polyline points="482.3,77.16 482.54,77.02 482.79,76.87 483.03,76.78 483.27,76.76 483.51,76.73 483.76,76.64 484,76.57 484.24,76.66 484.49,76.92 484.73,77.19 484.97,77.28 485.22,77.18 485.46,77.05 485.7,77.06 485.94,77.2 486.19,77.33 486.43,77.35 486.67,77.31 486.92,77.29 487.16,77.25 487.4,77.1 487.64,76.88 487.89,76.73 488.13,76.72 488.37,76.82 488.62,76.98 488.86,77.15 489.1,77.27 489.34,77.3 489.59,77.3 489.83,77.29 490.07,77.26 490.32,77.23 490.56,77.27 490.8,77.4 491.05,77.53 491.29,77.55 491.53,77.45 491.77,77.31 492.02,77.24 492.26,77.31 492.5,77.46 492.75,77.6 492.99,77.64 493.23,77.61 493.47,77.49 493.72,77.27 493.96,77.06 494.2,77 494.45,77.19 494.69,77.52 494.93,77.71 495.18,77.6 495.42,77.3 495.66,77.12 495.9,77.17 496.15,77.33 496.39,77.46 496.63,77.56 496.88,77.62 497.12,77.66 497.36,77.69 497.6,77.68 497.85,77.61 498.09,77.53 498.33,77.49 498.58,77.47 498.82,77.42 499.06,77.39 499.31,77.4 499.55,77.44 499.79,77.49 500.03,77.54 500.28,77.55 500.52,77.45 500.76,77.28 501.01,77.19 501.25,77.19 501.49,77.19 501.73,77.24 501.98,77.42 502.22,77.67 502.46,77.88 502.71,77.97 502.95,77.93 503.19,77.78 503.43,77.63 503.68,77.55 503.92,77.55 504.16,77.52 504.41,77.45 504.65,77.43 504.89,77.49 505.14,77.57 505.38,77.58 505.62,77.54 505.86,77.51 506.11,77.52 506.35,77.5 506.59,77.39 506.84,77.25 507.08,77.22 507.32,77.32 507.56,77.48 507.81,77.61 508.05,77.69 508.29,77.72 508.54,77.74 508.78,77.78 509.02,77.78 509.27,77.71 509.51,77.71 509.75,77.83 509.99,78 510.24,78.09 510.48,78.1 510.72,78.16 510.97,78.34 511.21,78.53 511.45,78.54 511.69,78.32 511.94,78.06 512.18,77.95 512.42,78.04 512.67,78.17 512.91,78.23 513.15,78.18 513.39,78.04 513.64,77.91 513.88,77.89 514.12,77.99 514.37,78.14 514.61,78.25 514.85,78.34 515.1,78.41 515.34,78.47 515.58,78.51 515.82,78.55 516.07,78.52 516.31,78.43 516.55,78.33 516.8,78.31 517.04,78.43 517.28,78.59 517.52,78.63 517.77,78.53 518.01,78.41 518.25,78.39 518.5,78.48 518.74,78.55 518.98,78.54 519.23,78.52 519.47,78.55 519.71,78.61 519.95,78.62 520.2,78.52 520.44,78.36 520.68,78.27 520.93,78.31 521.17,78.44 521.41,78.5 521.65,78.43 521.9,78.28 522.14,78.19 522.38,78.24 522.63,78.43 522.87,78.71 523.11,78.93 523.35,78.99 523.6,78.9 523.84,78.82 524.08,78.83 524.33,78.83 524.57,78.79 524.81,78.79 525.06,78.93 525.3,79.12 525.54,79.18 525.78,79.05 526.03,78.79 526.27,78.59 526.51,78.55 526.76,78.6 527,78.58 527.24,78.49 527.48,78.49 527.73,78.64 527.97,78.8 528.21,78.85 528.46,78.82 528.7,78.76 528.94,78.68 529.19,78.63 529.43,78.6 529.67,78.59 529.91,78.62 530.16,78.69 530.4,78.79 530.64,78.89 530.89,78.98 531.13,78.98 531.37,78.83 531.61,78.65 531.86,78.62 532.1,78.79 532.34,79.06 532.59,79.28 532.83,79.34 533.07,79.23 533.32,79.08 533.56,79.05 533.8,79.1 534.04,79.09 534.29,78.96 534.53,78.79 534.77,78.71 535.02,78.77 535.26,78.89 535.5,78.95 535.74,78.87 535.99,78.67 536.23,78.45 536.47,78.36 536.72,78.46 536.96,78.7 537.2,78.89 537.44,78.91 537.69,78.8 537.93,78.7 538.17,78.73 538.42,78.82 538.66,78.84 538.9,78.75 539.15,78.61 539.39,78.45 539.63,78.36 539.87,78.37 540.12,78.45 540.36,78.54 540.6,78.65 540.85,78.73 541.09,78.77 541.33,78.75 541.57,78.73 541.82,78.7 542.06,78.64 542.3,78.51 542.55,78.29 542.79,78.15 543.03,78.18 543.28,78.29 543.52,78.34 543.76,78.43 544,78.59 544.25,78.71 544.49,78.73 544.73,78.7 544.98,78.65 545.22,78.62 545.46,78.65 545.7,78.75 545.95,78.92 546.19,79.06 546.43,79.08 546.68,78.96 546.92,78.81 547.16,78.66 547.4,78.49 547.65,78.33 547.89,78.28 548.13,78.4 548.38,78.64 548.62,78.85 548.86,78.9 549.11,78.8 549.35,78.64 549.59,78.52 549.83,78.52 550.08,78.63 550.32,78.72 550.56,78.65 550.81,78.41 551.05,78.11 551.29,77.92 551.53,77.92 551.78,78.08 552.02,78.24 552.26,78.25 552.51,78.1 552.75,77.99 552.99,78.1 553.24,78.37 553.48,78.56 553.72,78.5 553.96,78.25 554.21,78.02 554.45,77.95 554.69,78.05 554.94,78.24 555.18,78.4 555.42,78.47 555.66,78.45 555.91,78.33 556.15,78.15 556.39,77.96 556.64,77.85 556.88,77.82 557.12,77.9 557.36,78.05 557.61,78.21 557.85,78.3 558.09,78.29 558.34,78.23 558.58,78.15 558.82,78.1 559.07,78.12 559.31,78.18 559.55,78.2 559.79,78.21 560.04,78.25 560.28,78.29 560.52,78.25 560.77,78.06 561.01,77.8 561.25,77.64 561.49,77.62 561.74,77.63 561.98,77.67 562.22,77.79 562.47,77.94 562.71,78 562.95,77.96 563.2,77.86 563.44,77.72 563.68,77.58 563.92,77.49 564.17,77.46 564.41,77.39 564.65,77.22 564.9,77.04 565.14,76.99 565.38,77.1 565.62,77.29 565.87,77.46 566.11,77.54 566.35,77.53 566.6,77.44 566.84,77.35 567.08,77.35 567.33,77.52 567.57,77.75 567.81,77.8 568.05,77.58 568.3,77.26 568.54,77.09 568.78,77.1 569.03,77.18 569.27,77.25 569.51,77.28 569.75,77.23 570,77.12 570.24,77.04 570.48,77.07 570.73,77.18 570.97,77.28 571.21,77.39 571.45,77.48 571.7,77.44 571.94,77.23 572.18,76.94 572.43,76.69 572.67,76.54 572.91,76.49 573.16,76.53 573.4,76.59 573.64,76.62 573.88,76.53 574.13,76.35 574.37,76.2 574.61,76.2 574.86,76.34 575.1,76.43 575.34,76.35 575.58,76.15 575.83,75.99 576.07,76.04 576.31,76.28 576.56,76.56 576.8,76.66 577.04,76.56 577.29,76.41 577.53,76.24 577.77,76.08 578.01,76.03 578.26,76.14 578.5,76.3 578.74,76.38 578.99,76.27 579.23,76.07 579.47,75.9 579.71,75.82 579.96,75.86 580.2,76 580.44,76.12 580.69,76.08 580.93,75.85 581.17,75.57 581.41,75.41 581.66,75.46 581.9,75.63 582.14,75.76 582.39,75.84 582.63,75.86 582.87,75.78 583.12,75.57 583.36,75.29 583.6,75.02 583.84,74.86 584.09,74.89 584.33,75.07 584.57,75.23 584.82,75.26 585.06,75.21 585.3,75.24 585.54,75.37 585.79,75.48 586.03,75.43 586.27,75.22 586.52,74.96 586.76,74.76 587,74.65 587.25,74.63 587.49,74.58 587.73,74.36 587.97,74.02 588.22,73.74 588.46,73.56 588.7,73.41 588.95,73.23 589.19,73 589.43,72.81 589.67,72.78 589.92,72.89 590.16,73 590.4,72.91 590.65,72.56 590.89,72.05 591.13,71.62 591.37,71.4 591.62,71.31 591.86,71.2 592.1,70.99 592.35,70.68 592.59,70.28 592.83,69.82 593.08,69.31 593.32,68.67 593.56,67.96 593.8,67.26 594.05,66.59 594.29,65.9 594.53,65.16 594.78,64.28 595.02,63.27 595.26,62.25 595.5,61.27 595.75,60.22 595.99,59.03 596.23,57.69 596.48,56.16 596.72,54.48 596.96,52.77 597.21,51.09 597.45,49.44 597.69,47.8 597.93,46.15 598.18,44.45 598.42,42.68 598.66,40.9 598.91,39.19 599.15,37.55 599.39,35.94 599.63,34.31 599.88,32.66 600.12,31.13 600.36,29.85 600.61,28.78 600.85,27.86 601.09,27.11 601.34,26.58 601.58,26.31 601.82,26.35 602.06,26.64 602.31,27.08 602.55,27.73 602.79,28.72 603.04,30 603.28,31.34 603.52,32.65 603.76,34.01 604.01,35.57 604.25,37.28 604.49,39 604.74,40.73 604.98,42.56 605.22,44.5 605.46,46.47 605.71,48.34 605.95,50.03 606.19,51.6 606.44,53.1 606.68,54.56 606.92,55.99 607.17,57.36 607.41,58.65 607.65,59.93 607.89,61.24 608.14,62.44 608.38,63.39 608.62,64.17 608.87,64.93 609.11,65.8 609.35,66.75 609.59,67.66 609.84,68.41 610.08,68.96 610.32,69.36 610.57,69.76 610.81,70.22 611.05,70.71 611.3,71.18 611.54,71.55 611.78,71.83 612.02,72.06 612.27,72.22 612.51,72.31 612.75,72.44 613,72.71 613.24,73.04 613.48,73.27 613.72,73.42 613.97,73.65 614.21,73.99 614.45,74.34 614.7,74.61 614.94,74.85 615.18,75.09 615.42,75.3 615.67,75.49 615.91,75.74 616.15,76.02 616.4,76.22 616.64,76.32 616.88,76.39 617.13,76.53 617.37,76.73 617.61,76.95 617.85,77.21 618.1,77.48 618.34,77.69 618.58,77.79 618.83,77.85 619.07,77.95 619.31,78.14 619.55,78.42 619.8,78.7 620.04,78.89 620.28,78.94 620.53,78.94 620.77,79.09 621.01,79.39 621.26,79.66 621.5,79.77 621.74,79.74 621.98,79.71 622.23,79.84 622.47,80.15 622.71,80.41 622.96,80.43 623.2,80.29 623.44,80.14 623.68,80.11 623.93,80.22 624.17,80.35 624.41,80.43 624.66,80.46 624.9,80.48 625.14,80.44 625.38,80.34 625.63,80.25 625.87,80.28 626.11,80.4 626.36,80.49 626.6,80.46 626.84,80.32 627.09,80.18 627.33,80.13 627.57,80.12 627.81,80.08 628.06,80.02 628.3,80 628.54,80.02 628.79,79.97 629.03,79.77 629.27,79.53 629.51,79.38 629.76,79.32 630,79.26 630.24,79.17 630.49,79.09 630.73,79.07 630.97,79.05 631.22,78.94 631.46,78.79 631.7,78.73 631.94,78.71 632.19,78.59 632.43,78.36 632.67,78.07 632.92,77.78 633.16,77.58 633.4,77.47 633.64,77.36 633.89,77.25 634.13,77.17 634.37,77.06 634.62,76.86 634.86,76.6 635.1,76.35 635.35,76.15 635.59,75.97 635.83,75.82 636.07,75.81 636.32,75.94 636.56,76.06 636.8,76.1 637.05,76.08 637.29,76.08 637.53,76.11 637.77,76.1 638.02,76.01 638.26,75.83 638.5,75.66 638.75,75.56 638.99,75.52 639.23,75.44 639.47,75.2 639.72,74.91 639.96,74.77 640.2,74.81 640.45,74.92 640.69,75.01 640.93,75.1 641.18,75.14 641.42,75.09 641.66,74.97 641.9,74.91 642.15,74.93 642.39,74.99 642.63,75.09 642.88,75.21 643.12,75.29 643.36,75.3 643.6,75.28 643.85,75.2 644.09,75.05 644.33,74.97 644.58,75.03 644.82,75.14 645.06,75.2 645.31,75.23 645.55,75.3 645.79,75.45 646.03,75.54 646.28,75.45 646.52,75.18 646.76,74.93 647.01,74.89 647.25,75.08 647.49,75.39 647.73,75.65 647.98,75.74 648.22,75.55 648.46,75.15 648.71,74.8 648.95,74.7 649.19,74.88 649.43,75.19 649.68,75.48 649.92,75.61 650.16,75.6 650.41,75.51 650.65,75.42 650.89,75.34 651.14,75.19 651.38,74.95 651.62,74.72 651.86,74.62 652.11,74.71 652.35,74.95 652.59,75.19 652.84,75.32 653.08,75.32 653.32,75.27 653.56,75.24 653.81,75.21 654.05,75.22 654.29,75.23 654.54,75.18 654.78,75.06 655.02,74.93 655.27,74.85 655.51,74.89 655.75,75.02 655.99,75.15 656.24,75.22 656.48,75.17 656.72,75 656.97,74.82 657.21,74.78 657.45,74.89 657.69,75.07 657.94,75.24 658.18,75.34 658.42,75.31 658.67,75.29 658.91,75.44 659.15,75.64 659.39,75.68 659.64,75.6 659.88,75.53 660.12,75.51 660.37,75.51 660.61,75.54 660.85,75.58 661.1,75.55 661.34,75.46 661.58,75.35 661.82,75.32 662.07,75.32 662.31,75.23 662.55,75.01 662.8,74.77 663.04,74.68 663.28,74.78 663.52,74.92 663.77,74.94 664.01,74.79 664.25,74.69 664.5,74.84 664.74,75.18 664.98,75.47 665.23,75.58 665.47,75.57 665.71,75.57 665.95,75.55 666.2,75.47 666.44,75.41 666.68,75.46 666.93,75.58 667.17,75.67 667.41,75.62 667.65,75.51 667.9,75.46 668.14,75.45 668.38,75.38 668.63,75.25 668.87,75.23 669.11,75.31 669.36,75.36 669.6,75.23 669.84,75.01 670.08,74.9 670.33,75.03 670.57,75.26 670.81,75.37 671.06,75.36 671.3,75.36 671.54,75.42 671.78,75.48 672.03,75.47 672.27,75.27 672.51,74.95 672.76,74.69 673,74.73 673.24,75.03 673.48,75.33 673.73,75.43 673.97,75.32 674.21,75.15 674.46,74.97 674.7,74.78 674.94,74.55 675.19,74.43 675.43,74.54 675.67,74.84 675.91,75.11 676.16,75.26 676.4,75.29" fill="none" stroke="#92e028" stroke-width="1.15" stroke-linejoin="round" stroke-linecap="round" />
<polyline points="482.3,77.11 482.54,77.04 482.79,76.95 483.03,76.87 483.27,76.79 483.51,76.79 483.76,76.89 484,76.99 484.24,76.99 484.49,76.93 484.73,76.89 484.97,76.9 485.22,76.94 485.46,76.98 485.7,77.01 485.94,77.05 486.19,77 486.43,76.87 486.67,76.81 486.92,76.96 487.16,77.22 487.4,77.36 487.64,77.3 487.89,77.15 488.13,77.07 488.37,77.13 488.62,77.23 488.86,77.21 489.1,77.08 489.34,77.07 489.59,77.27 489.83,77.53 490.07,77.67 490.32,77.64 490.56,77.5 490.8,77.4 491.05,77.38 491.29,77.44 491.53,77.57 491.77,77.75 492.02,77.92 492.26,77.98 492.5,77.85 492.75,77.63 492.99,77.49 493.23,77.54 493.47,77.69 493.72,77.81 493.96,77.91 494.2,78.05 494.45,78.19 494.69,78.28 494.93,78.28 495.18,78.18 495.42,77.92 495.66,77.64 495.9,77.54 496.15,77.67 496.39,77.84 496.63,77.86 496.88,77.7 497.12,77.53 497.36,77.53 497.6,77.67 497.85,77.82 498.09,77.9 498.33,77.94 498.58,77.98 498.82,78.04 499.06,78.09 499.31,78.11 499.55,78.09 499.79,78.01 500.03,77.94 500.28,77.94 500.52,78.01 500.76,78.07 501.01,78.04 501.25,77.93 501.49,77.85 501.73,77.81 501.98,77.78 502.22,77.75 502.46,77.77 502.71,77.85 502.95,77.94 503.19,78.04 503.43,78.13 503.68,78.24 503.92,78.38 504.16,78.47 504.41,78.41 504.65,78.28 504.89,78.24 505.14,78.31 505.38,78.33 505.62,78.25 505.86,78.16 506.11,78.17 506.35,78.26 506.59,78.36 506.84,78.45 507.08,78.52 507.32,78.59 507.56,78.67 507.81,78.75 508.05,78.76 508.29,78.74 508.54,78.84 508.78,79.09 509.02,79.29 509.27,79.3 509.51,79.19 509.75,79.1 509.99,79.01 510.24,78.84 510.48,78.61 510.72,78.42 510.97,78.37 511.21,78.45 511.45,78.57 511.69,78.69 511.94,78.87 512.18,79.06 512.42,79.17 512.67,79.2 512.91,79.17 513.15,79.14 513.39,79.12 513.64,79.12 513.88,79.16 514.12,79.27 514.37,79.43 514.61,79.51 514.85,79.44 515.1,79.28 515.34,79.18 515.58,79.14 515.82,79.09 516.07,79 516.31,78.88 516.55,78.78 516.8,78.78 517.04,78.96 517.28,79.27 517.52,79.5 517.77,79.5 518.01,79.36 518.25,79.28 518.5,79.31 518.74,79.37 518.98,79.39 519.23,79.39 519.47,79.4 519.71,79.37 519.95,79.23 520.2,79.03 520.44,78.87 520.68,78.83 520.93,78.91 521.17,79.08 521.41,79.24 521.65,79.23 521.9,79.03 522.14,78.8 522.38,78.74 522.63,78.87 522.87,79.05 523.11,79.13 523.35,79.2 523.6,79.39 523.84,79.67 524.08,79.81 524.33,79.67 524.57,79.42 524.81,79.33 525.06,79.42 525.3,79.51 525.54,79.58 525.78,79.65 526.03,79.67 526.27,79.59 526.51,79.41 526.76,79.24 527,79.16 527.24,79.12 527.48,79.06 527.73,79.01 527.97,79.08 528.21,79.28 528.46,79.45 528.7,79.45 528.94,79.28 529.19,79.08 529.43,79.01 529.67,79.07 529.91,79.2 530.16,79.31 530.4,79.38 530.64,79.43 530.89,79.48 531.13,79.57 531.37,79.63 531.61,79.55 531.86,79.37 532.1,79.21 532.34,79.15 532.59,79.16 532.83,79.17 533.07,79.22 533.32,79.33 533.56,79.45 533.8,79.49 534.04,79.42 534.29,79.33 534.53,79.27 534.77,79.2 535.02,79.12 535.26,79.07 535.5,79.04 535.74,79.04 535.99,79.13 536.23,79.26 536.47,79.31 536.72,79.27 536.96,79.28 537.2,79.33 537.44,79.28 537.69,79.18 537.93,79.14 538.17,79.22 538.42,79.41 538.66,79.62 538.9,79.73 539.15,79.64 539.39,79.37 539.63,79.09 539.87,78.95 540.12,79.01 540.36,79.21 540.6,79.43 540.85,79.54 541.09,79.52 541.33,79.42 541.57,79.29 541.82,79.26 542.06,79.37 542.3,79.5 542.55,79.51 542.79,79.44 543.03,79.33 543.28,79.18 543.52,79.01 543.76,78.91 544,78.87 544.25,78.88 544.49,78.94 544.73,79.03 544.98,79.11 545.22,79.16 545.46,79.2 545.7,79.22 545.95,79.15 546.19,78.98 546.43,78.77 546.68,78.61 546.92,78.6 547.16,78.75 547.4,79.07 547.65,79.49 547.89,79.83 548.13,79.88 548.38,79.66 548.62,79.38 548.86,79.24 549.11,79.28 549.35,79.39 549.59,79.42 549.83,79.27 550.08,79.02 550.32,78.86 550.56,78.86 550.81,78.92 551.05,78.97 551.29,79.02 551.53,79.04 551.78,79.02 552.02,79.02 552.26,79.07 552.51,79.1 552.75,79.05 552.99,78.95 553.24,78.86 553.48,78.86 553.72,78.94 553.96,79.03 554.21,79.08 554.45,79.11 554.69,79.11 554.94,79.07 555.18,78.96 555.42,78.79 555.66,78.64 555.91,78.56 556.15,78.54 556.39,78.56 556.64,78.56 556.88,78.49 557.12,78.4 557.36,78.33 557.61,78.24 557.85,78.14 558.09,78.09 558.34,78.1 558.58,78.17 558.82,78.25 559.07,78.27 559.31,78.27 559.55,78.31 559.79,78.39 560.04,78.41 560.28,78.3 560.52,78.13 560.77,77.93 561.01,77.73 561.25,77.58 561.49,77.5 561.74,77.5 561.98,77.6 562.22,77.78 562.47,77.91 562.71,77.88 562.95,77.75 563.2,77.59 563.44,77.45 563.68,77.38 563.92,77.42 564.17,77.52 564.41,77.55 564.65,77.5 564.9,77.46 565.14,77.41 565.38,77.25 565.62,77.07 565.87,77.02 566.11,77.07 566.35,77.16 566.6,77.17 566.84,77.02 567.08,76.79 567.33,76.62 567.57,76.52 567.81,76.51 568.05,76.6 568.3,76.72 568.54,76.76 568.78,76.71 569.03,76.57 569.27,76.36 569.51,76.15 569.75,76 570,75.94 570.24,75.93 570.48,75.97 570.73,76.05 570.97,76.14 571.21,76.17 571.45,76.01 571.7,75.68 571.94,75.33 572.18,75.12 572.43,75.07 572.67,75.1 572.91,75.09 573.16,75.02 573.4,74.82 573.64,74.45 573.88,74.02 574.13,73.72 574.37,73.61 574.61,73.6 574.86,73.53 575.1,73.33 575.34,72.98 575.58,72.5 575.83,72 576.07,71.62 576.31,71.36 576.56,71.08 576.8,70.75 577.04,70.35 577.29,69.84 577.53,69.22 577.77,68.45 578.01,67.55 578.26,66.62 578.5,65.76 578.74,64.88 578.99,63.94 579.23,62.99 579.47,62.04 579.71,61.11 579.96,60.14 580.2,59.11 580.44,58.02 580.69,56.86 580.93,55.64 581.17,54.39 581.41,53.15 581.66,51.94 581.9,50.71 582.14,49.4 582.39,48.09 582.63,46.89 582.87,45.87 583.12,45.03 583.36,44.33 583.6,43.72 583.84,43.17 584.09,42.74 584.33,42.52 584.57,42.51 584.82,42.7 585.06,43.09 585.3,43.62 585.54,44.25 585.79,45.02 586.03,45.99 586.27,47.09 586.52,48.2 586.76,49.28 587,50.41 587.25,51.66 587.49,53.04 587.73,54.44 587.97,55.73 588.22,56.96 588.46,58.24 588.7,59.5 588.95,60.64 589.19,61.68 589.43,62.72 589.67,63.8 589.92,64.87 590.16,65.89 590.4,66.88 590.65,67.87 590.89,68.81 591.13,69.64 591.37,70.39 591.62,71.16 591.86,72.01 592.1,72.82 592.35,73.47 592.59,73.99 592.83,74.56 593.08,75.17 593.32,75.69 593.56,76.09 593.8,76.45 594.05,76.79 594.29,77.12 594.53,77.44 594.78,77.78 595.02,78.15 595.26,78.5 595.5,78.87 595.75,79.26 595.99,79.63 596.23,79.95 596.48,80.25 596.72,80.5 596.96,80.56 597.21,80.45 597.45,80.32 597.69,80.32 597.93,80.51 598.18,80.79 598.42,81.04 598.66,81.26 598.91,81.43 599.15,81.52 599.39,81.57 599.63,81.66 599.88,81.8 600.12,81.96 600.36,82.14 600.61,82.36 600.85,82.58 601.09,82.7 601.34,82.72 601.58,82.72 601.82,82.75 602.06,82.71 602.31,82.61 602.55,82.55 602.79,82.61 603.04,82.71 603.28,82.77 603.52,82.79 603.76,82.88 604.01,83.03 604.25,83.15 604.49,83.23 604.74,83.29 604.98,83.33 605.22,83.34 605.46,83.3 605.71,83.2 605.95,83.11 606.19,83.04 606.44,82.96 606.68,82.84 606.92,82.74 607.17,82.69 607.41,82.6 607.65,82.41 607.89,82.21 608.14,82.07 608.38,81.97 608.62,81.89 608.87,81.88 609.11,81.9 609.35,81.8 609.59,81.55 609.84,81.31 610.08,81.25 610.32,81.38 610.57,81.52 610.81,81.51 611.05,81.37 611.3,81.2 611.54,81.1 611.78,81.05 612.02,80.97 612.27,80.85 612.51,80.7 612.75,80.49 613,80.2 613.24,79.94 613.48,79.86 613.72,79.97 613.97,80.11 614.21,80.14 614.45,80.08 614.7,80.01 614.94,79.97 615.18,79.96 615.42,79.94 615.67,79.8 615.91,79.54 616.15,79.28 616.4,79.09 616.64,78.96 616.88,78.89 617.13,78.85 617.37,78.79 617.61,78.72 617.85,78.69 618.1,78.72 618.34,78.81 618.58,78.9 618.83,78.89 619.07,78.72 619.31,78.49 619.55,78.31 619.8,78.25 620.04,78.29 620.28,78.33 620.53,78.28 620.77,78.13 621.01,77.93 621.26,77.78 621.5,77.66 621.74,77.54 621.98,77.4 622.23,77.3 622.47,77.27 622.71,77.29 622.96,77.24 623.2,77.07 623.44,76.92 623.68,76.87 623.93,76.86 624.17,76.75 624.41,76.5 624.66,76.22 624.9,76.03 625.14,75.99 625.38,76.07 625.63,76.15 625.87,76.19 626.11,76.27 626.36,76.39 626.6,76.48 626.84,76.53 627.09,76.59 627.33,76.72 627.57,76.87 627.81,76.92 628.06,76.74 628.3,76.33 628.54,75.89 628.79,75.63 629.03,75.63 629.27,75.83 629.51,76.07 629.76,76.21 630,76.28 630.24,76.39 630.49,76.55 630.73,76.65 630.97,76.59 631.22,76.45 631.46,76.33 631.7,76.19 631.94,76.04 632.19,75.94 632.43,75.95 632.67,75.94 632.92,75.85 633.16,75.77 633.4,75.8 633.64,75.94 633.89,76.16 634.13,76.38 634.37,76.51 634.62,76.49 634.86,76.38 635.1,76.32 635.35,76.4 635.59,76.62 635.83,76.83 636.07,76.89 636.32,76.8 636.56,76.7 636.8,76.68 637.05,76.63 637.29,76.44 637.53,76.1 637.77,75.83 638.02,75.78 638.26,75.88 638.5,75.95 638.75,75.96 638.99,75.97 639.23,76.05 639.47,76.16 639.72,76.24 639.96,76.27 640.2,76.21 640.45,76.07 640.69,75.99 640.93,76.01 641.18,76.02 641.42,75.87 641.66,75.66 641.9,75.57 642.15,75.64 642.39,75.72 642.63,75.67 642.88,75.53 643.12,75.44 643.36,75.49 643.6,75.65 643.85,75.8 644.09,75.89 644.33,75.98 644.58,76.05 644.82,76.01 645.06,75.89 645.31,75.8 645.55,75.73 645.79,75.6 646.03,75.42 646.28,75.29 646.52,75.25 646.76,75.34 647.01,75.54 647.25,75.75 647.49,75.86 647.73,75.83 647.98,75.74 648.22,75.72 648.46,75.84 648.71,75.98 648.95,76 649.19,75.84 649.43,75.63 649.68,75.54 649.92,75.58 650.16,75.57 650.41,75.37 650.65,75.17 650.89,75.19 651.14,75.39 651.38,75.56 651.62,75.57 651.86,75.49 652.11,75.38 652.35,75.24 652.59,75.12 652.84,75.11 653.08,75.16 653.32,75.2 653.56,75.28 653.81,75.47 654.05,75.72 654.29,75.9 654.54,75.93 654.78,75.83 655.02,75.62 655.27,75.34 655.51,75.14 655.75,75.11 655.99,75.2 656.24,75.33 656.48,75.47 656.72,75.61 656.97,75.7 657.21,75.71 657.45,75.67 657.69,75.64 657.94,75.67 658.18,75.76 658.42,75.84 658.67,75.86 658.91,75.84 659.15,75.86 659.39,75.94 659.64,76 659.88,75.95 660.12,75.81 660.37,75.64 660.61,75.54 660.85,75.51 661.1,75.53 661.34,75.61 661.58,75.64 661.82,75.53 662.07,75.39 662.31,75.34 662.55,75.35 662.8,75.36 663.04,75.3 663.28,75.2 663.52,75.17 663.77,75.22 664.01,75.25 664.25,75.24 664.5,75.21 664.74,75.16 664.98,75.13 665.23,75.17 665.47,75.23 665.71,75.21 665.95,75.11 666.2,75.05 666.44,75.08 666.68,75.2 666.93,75.35 667.17,75.49 667.41,75.55 667.65,75.51 667.9,75.36 668.14,75.18 668.38,75.06 668.63,75.09 668.87,75.26 669.11,75.43 669.36,75.45 669.6,75.34 669.84,75.32 670.08,75.48 670.33,75.63 670.57,75.59 670.81,75.45 671.06,75.36 671.3,75.39 671.54,75.46 671.78,75.46 672.03,75.33 672.27,75.15 672.51,75.07 672.76,75.1 673,75.13 673.24,75.13 673.48,75.17 673.73,75.32 673.97,75.48 674.21,75.57 674.46,75.57 674.7,75.5 674.94,75.41 675.19,75.31 675.43,75.19 675.67,75.06 675.91,75.05 676.16,75.18 676.4,75.32" fill="none" stroke="#e6dc34" stroke-width="1.15" stroke-linejoin="round" stroke-linecap="round" />
<polyline points="482.3,76.95 482.54,77.17 482.79,77.41 483.03,77.48 483.27,77.4 483.51,77.31 483.76,77.31 484,77.34 484.24,77.38 484.49,77.43 484.73,77.5 484.97,77.56 485.22,77.59 485.46,77.6 485.7,77.56 485.94,77.5 486.19,77.45 486.43,77.53 486.67,77.73 486.92,77.97 487.16,78.16 487.4,78.3 487.64,78.38 487.89,78.47 488.13,78.56 488.37,78.57 488.62,78.5 488.86,78.45 489.1,78.51 489.34,78.6 489.59,78.67 489.83,78.72 490.07,78.77 490.32,78.77 490.56,78.66 490.8,78.45 491.05,78.24 491.29,78.19 491.53,78.33 491.77,78.58 492.02,78.78 492.26,78.81 492.5,78.73 492.75,78.66 492.99,78.64 493.23,78.65 493.47,78.65 493.72,78.64 493.96,78.66 494.2,78.71 494.45,78.8 494.69,78.89 494.93,78.93 495.18,78.9 495.42,78.83 495.66,78.77 495.9,78.82 496.15,79.08 496.39,79.44 496.63,79.72 496.88,79.82 497.12,79.78 497.36,79.66 497.6,79.57 497.85,79.52 498.09,79.45 498.33,79.35 498.58,79.31 498.82,79.41 499.06,79.54 499.31,79.55 499.55,79.41 499.79,79.24 500.03,79.14 500.28,79.21 500.52,79.43 500.76,79.65 501.01,79.72 501.25,79.67 501.49,79.58 501.73,79.48 501.98,79.44 502.22,79.52 502.46,79.64 502.71,79.71 502.95,79.76 503.19,79.79 503.43,79.77 503.68,79.73 503.92,79.74 504.16,79.77 504.41,79.79 504.65,79.83 504.89,79.9 505.14,80 505.38,80.11 505.62,80.28 505.86,80.49 506.11,80.63 506.35,80.63 506.59,80.51 506.84,80.3 507.08,80.04 507.32,79.81 507.56,79.72 507.81,79.73 508.05,79.79 508.29,79.87 508.54,79.96 508.78,80.01 509.02,80.04 509.27,80.14 509.51,80.29 509.75,80.41 509.99,80.47 510.24,80.47 510.48,80.4 510.72,80.29 510.97,80.24 511.21,80.31 511.45,80.48 511.69,80.63 511.94,80.67 512.18,80.66 512.42,80.75 512.67,80.93 512.91,81.05 513.15,81.04 513.39,80.98 513.64,80.94 513.88,80.93 514.12,80.95 514.37,81.04 514.61,81.17 514.85,81.29 515.1,81.33 515.34,81.33 515.58,81.32 515.82,81.34 516.07,81.36 516.31,81.33 516.55,81.23 516.8,81.07 517.04,80.92 517.28,80.88 517.52,80.98 517.77,81.09 518.01,81.06 518.25,80.94 518.5,80.86 518.74,80.86 518.98,80.87 519.23,80.91 519.47,81.04 519.71,81.22 519.95,81.37 520.2,81.43 520.44,81.45 520.68,81.53 520.93,81.67 521.17,81.8 521.41,81.87 521.65,81.88 521.9,81.86 522.14,81.83 522.38,81.81 522.63,81.88 522.87,82 523.11,82.06 523.35,82.08 523.6,82.16 523.84,82.33 524.08,82.44 524.33,82.38 524.57,82.15 524.81,81.91 525.06,81.81 525.3,81.84 525.54,81.89 525.78,81.89 526.03,81.88 526.27,81.95 526.51,82.12 526.76,82.25 527,82.23 527.24,82.14 527.48,82.13 527.73,82.19 527.97,82.22 528.21,82.19 528.46,82.14 528.7,82.13 528.94,82.18 529.19,82.34 529.43,82.59 529.67,82.8 529.91,82.88 530.16,82.83 530.4,82.68 530.64,82.51 530.89,82.47 531.13,82.57 531.37,82.65 531.61,82.64 531.86,82.58 532.1,82.6 532.34,82.66 532.59,82.69 532.83,82.71 533.07,82.85 533.32,83.17 533.56,83.44 533.8,83.48 534.04,83.31 534.29,83.11 534.53,82.99 534.77,82.94 535.02,82.95 535.26,82.99 535.5,83.09 535.74,83.27 535.99,83.5 536.23,83.7 536.47,83.78 536.72,83.73 536.96,83.6 537.2,83.57 537.44,83.65 537.69,83.69 537.93,83.55 538.17,83.33 538.42,83.18 538.66,83.14 538.9,83.14 539.15,83.14 539.39,83.13 539.63,83.13 539.87,83.21 540.12,83.32 540.36,83.37 540.6,83.32 540.85,83.23 541.09,83.22 541.33,83.28 541.57,83.35 541.82,83.33 542.06,83.24 542.3,83.2 542.55,83.27 542.79,83.44 543.03,83.57 543.28,83.6 543.52,83.52 543.76,83.38 544,83.22 544.25,83.07 544.49,82.98 544.73,83.04 544.98,83.18 545.22,83.3 545.46,83.36 545.7,83.35 545.95,83.29 546.19,83.26 546.43,83.27 546.68,83.29 546.92,83.29 547.16,83.3 547.4,83.31 547.65,83.33 547.89,83.41 548.13,83.59 548.38,83.78 548.62,83.83 548.86,83.71 549.11,83.5 549.35,83.4 549.59,83.49 549.83,83.66 550.08,83.75 550.32,83.7 550.56,83.61 550.81,83.67 551.05,83.83 551.29,83.96 551.53,83.98 551.78,83.94 552.02,83.88 552.26,83.79 552.51,83.75 552.75,83.82 552.99,83.98 553.24,84.14 553.48,84.2 553.72,84.12 553.96,83.99 554.21,83.91 554.45,83.87 554.69,83.8 554.94,83.68 555.18,83.6 555.42,83.64 555.66,83.75 555.91,83.79 556.15,83.74 556.39,83.71 556.64,83.76 556.88,83.84 557.12,83.95 557.36,84.08 557.61,84.18 557.85,84.21 558.09,84.21 558.34,84.22 558.58,84.21 558.82,84.15 559.07,84.1 559.31,84.1 559.55,84.04 559.79,83.83 560.04,83.52 560.28,83.27 560.52,83.15 560.77,83.14 561.01,83.13 561.25,82.94 561.49,82.57 561.74,82.22 561.98,81.98 562.22,81.76 562.47,81.51 562.71,81.33 562.95,81.19 563.2,80.99 563.44,80.68 563.68,80.34 563.92,80.02 564.17,79.71 564.41,79.36 564.65,78.98 564.9,78.64 565.14,78.43 565.38,78.3 565.62,78.06 565.87,77.69 566.11,77.3 566.35,77 566.6,76.77 566.84,76.54 567.08,76.29 567.33,76.08 567.57,75.94 567.81,75.85 568.05,75.76 568.3,75.67 568.54,75.57 568.78,75.48 569.03,75.43 569.27,75.41 569.51,75.39 569.75,75.38 570,75.48 570.24,75.69 570.48,75.94 570.73,76.17 570.97,76.34 571.21,76.45 571.45,76.52 571.7,76.62 571.94,76.75 572.18,76.95 572.43,77.24 572.67,77.65 572.91,78.16 573.16,78.63 573.4,79.05 573.64,79.45 573.88,79.7 574.13,79.74 574.37,79.67 574.61,79.66 574.86,79.76 575.1,80.01 575.34,80.43 575.58,80.89 575.83,81.34 576.07,81.85 576.31,82.42 576.56,82.98 576.8,83.48 577.04,83.85 577.29,84.1 577.53,84.33 577.77,84.64 578.01,85.04 578.26,85.44 578.5,85.79 578.74,86.05 578.99,86.2 579.23,86.32 579.47,86.5 579.71,86.74 579.96,86.97 580.2,87.16 580.44,87.36 580.69,87.61 580.93,87.87 581.17,88.13 581.41,88.34 581.66,88.48 581.9,88.47 582.14,88.3 582.39,88.1 582.63,88.06 582.87,88.27 583.12,88.61 583.36,88.87 583.6,88.95 583.84,88.92 584.09,88.94 584.33,88.99 584.57,88.95 584.82,88.82 585.06,88.74 585.3,88.82 585.54,89 585.79,89.15 586.03,89.22 586.27,89.13 586.52,88.89 586.76,88.62 587,88.47 587.25,88.42 587.49,88.34 587.73,88.21 587.97,88.08 588.22,87.99 588.46,87.94 588.7,87.87 588.95,87.75 589.19,87.6 589.43,87.46 589.67,87.28 589.92,86.96 590.16,86.54 590.4,86.15 590.65,85.93 590.89,85.86 591.13,85.79 591.37,85.66 591.62,85.51 591.86,85.35 592.1,85.13 592.35,84.84 592.59,84.5 592.83,84.18 593.08,83.92 593.32,83.71 593.56,83.53 593.8,83.38 594.05,83.18 594.29,82.92 594.53,82.6 594.78,82.32 595.02,82.1 595.26,81.89 595.5,81.62 595.75,81.32 595.99,81.05 596.23,80.84 596.48,80.62 596.72,80.33 596.96,79.98 597.21,79.63 597.45,79.34 597.69,79.15 597.93,79.05 598.18,79.04 598.42,79.09 598.66,79.04 598.91,78.74 599.15,78.32 599.39,78.02 599.63,77.86 599.88,77.7 600.12,77.5 600.36,77.26 600.61,76.97 600.85,76.71 601.09,76.57 601.34,76.52 601.58,76.49 601.82,76.43 602.06,76.29 602.31,76.1 602.55,75.92 602.79,75.83 603.04,75.89 603.28,76.04 603.52,76.12 603.76,76.05 604.01,75.95 604.25,75.92 604.49,75.89 604.74,75.79 604.98,75.65 605.22,75.55 605.46,75.47 605.71,75.44 605.95,75.52 606.19,75.69 606.44,75.84 606.68,75.91 606.92,75.9 607.17,75.83 607.41,75.69 607.65,75.5 607.89,75.3 608.14,75.21 608.38,75.28 608.62,75.43 608.87,75.51 609.11,75.42 609.35,75.22 609.59,75.06 609.84,75.07 610.08,75.16 610.32,75.21 610.57,75.17 610.81,75.05 611.05,74.91 611.3,74.81 611.54,74.74 611.78,74.7 612.02,74.7 612.27,74.72 612.51,74.68 612.75,74.57 613,74.44 613.24,74.41 613.48,74.46 613.72,74.56 613.97,74.63 614.21,74.61 614.45,74.53 614.7,74.5 614.94,74.58 615.18,74.65 615.42,74.61 615.67,74.55 615.91,74.57 616.15,74.71 616.4,74.82 616.64,74.85 616.88,74.84 617.13,74.84 617.37,74.85 617.61,74.87 617.85,74.91 618.1,74.92 618.34,74.9 618.58,74.89 618.83,74.88 619.07,74.86 619.31,74.86 619.55,74.87 619.8,74.78 620.04,74.67 620.28,74.63 620.53,74.65 620.77,74.7 621.01,74.75 621.26,74.75 621.5,74.71 621.74,74.65 621.98,74.59 622.23,74.53 622.47,74.48 622.71,74.47 622.96,74.51 623.2,74.57 623.44,74.61 623.68,74.6 623.93,74.58 624.17,74.62 624.41,74.73 624.66,74.77 624.9,74.67 625.14,74.5 625.38,74.39 625.63,74.44 625.87,74.6 626.11,74.72 626.36,74.75 626.6,74.72 626.84,74.71 627.09,74.73 627.33,74.74 627.57,74.78 627.81,74.87 628.06,74.91 628.3,74.84 628.54,74.76 628.79,74.76 629.03,74.78 629.27,74.7 629.51,74.55 629.76,74.46 630,74.5 630.24,74.64 630.49,74.78 630.73,74.89 630.97,74.93 631.22,74.9 631.46,74.82 631.7,74.7 631.94,74.55 632.19,74.4 632.43,74.33 632.67,74.38 632.92,74.47 633.16,74.49 633.4,74.41 633.64,74.33 633.89,74.34 634.13,74.44 634.37,74.56 634.62,74.62 634.86,74.58 635.1,74.52 635.35,74.52 635.59,74.57 635.83,74.63 636.07,74.61 636.32,74.5 636.56,74.46 636.8,74.57 637.05,74.7 637.29,74.7 637.53,74.6 637.77,74.51 638.02,74.46 638.26,74.39 638.5,74.32 638.75,74.32 638.99,74.36 639.23,74.45 639.47,74.52 639.72,74.51 639.96,74.41 640.2,74.33 640.45,74.37 640.69,74.52 640.93,74.69 641.18,74.79 641.42,74.78 641.66,74.68 641.9,74.57 642.15,74.55 642.39,74.57 642.63,74.57 642.88,74.59 643.12,74.65 643.36,74.66 643.6,74.56 643.85,74.44 644.09,74.39 644.33,74.46 644.58,74.61 644.82,74.8 645.06,74.93 645.31,74.89 645.55,74.75 645.79,74.68 646.03,74.77 646.28,74.89 646.52,74.94 646.76,74.84 647.01,74.68 647.25,74.58 647.49,74.56 647.73,74.54 647.98,74.45 648.22,74.38 648.46,74.46 648.71,74.65 648.95,74.81 649.19,74.85 649.43,74.77 649.68,74.59 649.92,74.43 650.16,74.49 650.41,74.77 650.65,74.99 650.89,74.85 651.14,74.43 651.38,74.04 651.62,73.78 651.86,73.64 652.11,73.63 652.35,73.78 652.59,73.99 652.84,74.15 653.08,74.25 653.32,74.35 653.56,74.48 653.81,74.62 654.05,74.74 654.29,74.8 654.54,74.69 654.78,74.41 655.02,74.12 655.27,73.95 655.51,73.89 655.75,73.92 655.99,74 656.24,74.13 656.48,74.31 656.72,74.46 656.97,74.51 657.21,74.52 657.45,74.55 657.69,74.6 657.94,74.63 658.18,74.66 658.42,74.63 658.67,74.57 658.91,74.54 659.15,74.55 659.39,74.56 659.64,74.56 659.88,74.58 660.12,74.61 660.37,74.57 660.61,74.46 660.85,74.39 661.1,74.45 661.34,74.58 661.58,74.68 661.82,74.64 662.07,74.47 662.31,74.25 662.55,74.08 662.8,74.05 663.04,74.21 663.28,74.48 663.52,74.68 663.77,74.75 664.01,74.72 664.25,74.65 664.5,74.57 664.74,74.5 664.98,74.5 665.23,74.55 665.47,74.62 665.71,74.63 665.95,74.59 666.2,74.56 666.44,74.56 666.68,74.58 666.93,74.66 667.17,74.71 667.41,74.64 667.65,74.47 667.9,74.29 668.14,74.19 668.38,74.22 668.63,74.34 668.87,74.41 669.11,74.39 669.36,74.35 669.6,74.32 669.84,74.28 670.08,74.27 670.33,74.3 670.57,74.38 670.81,74.49 671.06,74.58 671.3,74.61 671.54,74.67 671.78,74.76 672.03,74.81 672.27,74.76 672.51,74.67 672.76,74.61 673,74.58 673.24,74.61 673.48,74.66 673.73,74.65 673.97,74.53 674.21,74.37 674.46,74.3 674.7,74.31 674.94,74.3 675.19,74.21 675.43,74.14 675.67,74.15 675.91,74.26 676.16,74.43 676.4,74.56" fill="none" stroke="#e8b024" stroke-width="1.15" stroke-linejoin="round" stroke-linecap="round" />
<polyline points="482.3,78.78 482.54,78.76 482.79,78.72 483.03,78.62 483.27,78.53 483.51,78.51 483.76,78.49 484,78.38 484.24,78.17 484.49,77.97 484.73,77.9 484.97,77.99 485.22,78.16 485.46,78.28 485.7,78.37 485.94,78.48 486.19,78.54 486.43,78.47 486.67,78.3 486.92,78.15 487.16,78.07 487.4,78.01 487.64,77.89 487.89,77.62 488.13,77.31 488.37,77.13 488.62,77.15 488.86,77.26 489.1,77.37 489.34,77.45 489.59,77.56 489.83,77.66 490.07,77.66 490.32,77.56 490.56,77.42 490.8,77.29 491.05,77.18 491.29,77.1 491.53,77.09 491.77,77.14 492.02,77.25 492.26,77.36 492.5,77.44 492.75,77.43 492.99,77.43 493.23,77.52 493.47,77.63 493.72,77.69 493.96,77.71 494.2,77.75 494.45,77.86 494.69,78.04 494.93,78.21 495.18,78.26 495.42,78.17 495.66,77.98 495.9,77.84 496.15,77.81 496.39,77.93 496.63,78.19 496.88,78.48 497.12,78.69 497.36,78.83 497.6,79.01 497.85,79.28 498.09,79.59 498.33,79.77 498.58,79.72 498.82,79.57 499.06,79.52 499.31,79.62 499.55,79.78 499.79,79.93 500.03,80.04 500.28,80.12 500.52,80.2 500.76,80.24 501.01,80.14 501.25,79.9 501.49,79.69 501.73,79.66 501.98,79.8 502.22,80.09 502.46,80.47 502.71,80.76 502.95,80.78 503.19,80.65 503.43,80.55 503.68,80.55 503.92,80.58 504.16,80.61 504.41,80.74 504.65,80.96 504.89,81.22 505.14,81.46 505.38,81.68 505.62,81.91 505.86,82.08 506.11,82.08 506.35,81.85 506.59,81.53 506.84,81.34 507.08,81.41 507.32,81.63 507.56,81.77 507.81,81.77 508.05,81.74 508.29,81.79 508.54,81.94 508.78,82.18 509.02,82.41 509.27,82.56 509.51,82.66 509.75,82.79 509.99,82.98 510.24,83.16 510.48,83.25 510.72,83.18 510.97,83 511.21,82.88 511.45,82.87 511.69,82.95 511.94,83.13 512.18,83.4 512.42,83.68 512.67,83.83 512.91,83.85 513.15,83.86 513.39,83.9 513.64,83.96 513.88,84.01 514.12,84.06 514.37,84.13 514.61,84.2 514.85,84.28 515.1,84.35 515.34,84.37 515.58,84.33 515.82,84.31 516.07,84.35 516.31,84.48 516.55,84.64 516.8,84.79 517.04,84.87 517.28,84.93 517.52,85.05 517.77,85.22 518.01,85.37 518.25,85.47 518.5,85.52 518.74,85.52 518.98,85.55 519.23,85.64 519.47,85.8 519.71,85.99 519.95,86.15 520.2,86.27 520.44,86.39 520.68,86.52 520.93,86.65 521.17,86.8 521.41,86.96 521.65,86.98 521.9,86.81 522.14,86.6 522.38,86.57 522.63,86.74 522.87,86.95 523.11,87.1 523.35,87.22 523.6,87.34 523.84,87.43 524.08,87.53 524.33,87.7 524.57,87.88 524.81,87.96 525.06,87.95 525.3,87.99 525.54,88.18 525.78,88.46 526.03,88.64 526.27,88.66 526.51,88.59 526.76,88.51 527,88.5 527.24,88.62 527.48,88.86 527.73,89.09 527.97,89.22 528.21,89.26 528.46,89.28 528.7,89.27 528.94,89.22 529.19,89.17 529.43,89.19 529.67,89.31 529.91,89.45 530.16,89.51 530.4,89.49 530.64,89.44 530.89,89.4 531.13,89.46 531.37,89.64 531.61,89.8 531.86,89.77 532.1,89.67 532.34,89.7 532.59,89.87 532.83,89.96 533.07,89.95 533.32,89.99 533.56,90.15 533.8,90.34 534.04,90.53 534.29,90.73 534.53,90.85 534.77,90.78 535.02,90.65 535.26,90.65 535.5,90.79 535.74,90.91 535.99,90.92 536.23,90.82 536.47,90.69 536.72,90.69 536.96,90.87 537.2,91.08 537.44,91.11 537.69,90.97 537.93,90.85 538.17,90.91 538.42,91.14 538.66,91.38 538.9,91.49 539.15,91.44 539.39,91.37 539.63,91.35 539.87,91.35 540.12,91.32 540.36,91.29 540.6,91.27 540.85,91.33 541.09,91.46 541.33,91.56 541.57,91.6 541.82,91.61 542.06,91.61 542.3,91.6 542.55,91.65 542.79,91.75 543.03,91.83 543.28,91.85 543.52,91.81 543.76,91.8 544,91.87 544.25,92.03 544.49,92.17 544.73,92.25 544.98,92.34 545.22,92.52 545.46,92.7 545.7,92.79 545.95,92.77 546.19,92.71 546.43,92.68 546.68,92.75 546.92,92.97 547.16,93.26 547.4,93.53 547.65,93.73 547.89,93.85 548.13,93.89 548.38,93.94 548.62,94.13 548.86,94.49 549.11,94.85 549.35,95.06 549.59,95.17 549.83,95.28 550.08,95.38 550.32,95.48 550.56,95.69 550.81,96.05 551.05,96.49 551.29,96.87 551.53,97.19 551.78,97.44 552.02,97.62 552.26,97.79 552.51,98.01 552.75,98.32 552.99,98.73 553.24,99.22 553.48,99.7 553.72,100.07 553.96,100.28 554.21,100.42 554.45,100.66 554.69,101.06 554.94,101.61 555.18,102.24 555.42,102.86 555.66,103.39 555.91,103.9 556.15,104.44 556.39,105.03 556.64,105.79 556.88,106.74 557.12,107.66 557.36,108.35 557.61,108.86 557.85,109.32 558.09,109.79 558.34,110.23 558.58,110.75 558.82,111.48 559.07,112.39 559.31,113.34 559.55,114.23 559.79,115.01 560.04,115.69 560.28,116.27 560.52,116.7 560.77,117 561.01,117.17 561.25,117.19 561.49,117.1 561.74,116.92 561.98,116.7 562.22,116.39 562.47,115.93 562.71,115.37 562.95,114.88 563.2,114.49 563.44,114.16 563.68,113.83 563.92,113.46 564.17,113 564.41,112.45 564.65,111.86 564.9,111.32 565.14,110.87 565.38,110.44 565.62,109.93 565.87,109.27 566.11,108.48 566.35,107.61 566.6,106.78 566.84,106.09 567.08,105.59 567.33,105.19 567.57,104.68 567.81,103.97 568.05,103.19 568.3,102.43 568.54,101.65 568.78,100.77 569.03,99.76 569.27,98.74 569.51,97.82 569.75,97 570,96.15 570.24,95.2 570.48,94.19 570.73,93.21 570.97,92.28 571.21,91.41 571.45,90.62 571.7,89.93 571.94,89.28 572.18,88.64 572.43,88.04 572.67,87.46 572.91,86.83 573.16,86.16 573.4,85.53 573.64,84.97 573.88,84.44 574.13,83.93 574.37,83.51 574.61,83.23 574.86,82.98 575.1,82.62 575.34,82.23 575.58,81.94 575.83,81.73 576.07,81.5 576.31,81.19 576.56,80.81 576.8,80.37 577.04,79.9 577.29,79.48 577.53,79.2 577.77,79.03 578.01,78.83 578.26,78.55 578.5,78.26 578.74,77.96 578.99,77.55 579.23,77.13 579.47,76.84 579.71,76.68 579.96,76.56 580.2,76.43 580.44,76.34 580.69,76.25 580.93,76.09 581.17,75.8 581.41,75.44 581.66,75.15 581.9,75 582.14,74.9 582.39,74.73 582.63,74.46 582.87,74.2 583.12,74.03 583.36,73.91 583.6,73.77 583.84,73.65 584.09,73.58 584.33,73.51 584.57,73.38 584.82,73.28 585.06,73.21 585.3,73.12 585.54,72.98 585.79,72.86 586.03,72.8 586.27,72.81 586.52,72.84 586.76,72.77 587,72.56 587.25,72.28 587.49,72.07 587.73,72.04 587.97,72.25 588.22,72.59 588.46,72.8 588.7,72.79 588.95,72.72 589.19,72.74 589.43,72.86 589.67,72.96 589.92,72.92 590.16,72.74 590.4,72.5 590.65,72.35 590.89,72.34 591.13,72.41 591.37,72.4 591.62,72.23 591.86,72.01 592.1,71.97 592.35,72.21 592.59,72.55 592.83,72.81 593.08,72.86 593.32,72.75 593.56,72.53 593.8,72.29 594.05,72.1 594.29,72.07 594.53,72.22 594.78,72.51 595.02,72.78 595.26,72.84 595.5,72.69 595.75,72.49 595.99,72.34 596.23,72.23 596.48,72.13 596.72,72.1 596.96,72.17 597.21,72.29 597.45,72.36 597.69,72.41 597.93,72.47 598.18,72.55 598.42,72.68 598.66,72.83 598.91,72.93 599.15,72.9 599.39,72.78 599.63,72.58 599.88,72.41 600.12,72.41 600.36,72.52 600.61,72.62 600.85,72.67 601.09,72.73 601.34,72.83 601.58,72.94 601.82,73.05 602.06,73.07 602.31,72.93 602.55,72.77 602.79,72.66 603.04,72.59 603.28,72.52 603.52,72.48 603.76,72.46 604.01,72.48 604.25,72.53 604.49,72.54 604.74,72.49 604.98,72.39 605.22,72.34 605.46,72.46 605.71,72.7 605.95,72.86 606.19,72.81 606.44,72.67 606.68,72.58 606.92,72.59 607.17,72.67 607.41,72.8 607.65,72.91 607.89,72.89 608.14,72.73 608.38,72.54 608.62,72.46 608.87,72.5 609.11,72.53 609.35,72.45 609.59,72.33 609.84,72.29 610.08,72.31 610.32,72.34 610.57,72.35 610.81,72.37 611.05,72.43 611.3,72.56 611.54,72.69 611.78,72.77 612.02,72.87 612.27,73 612.51,73.02 612.75,72.89 613,72.68 613.24,72.5 613.48,72.42 613.72,72.5 613.97,72.69 614.21,72.83 614.45,72.81 614.7,72.68 614.94,72.59 615.18,72.55 615.42,72.48 615.67,72.36 615.91,72.29 616.15,72.3 616.4,72.36 616.64,72.41 616.88,72.48 617.13,72.62 617.37,72.76 617.61,72.8 617.85,72.78 618.1,72.77 618.34,72.77 618.58,72.8 618.83,72.9 619.07,73.02 619.31,73.01 619.55,72.82 619.8,72.6 620.04,72.58 620.28,72.73 620.53,72.84 620.77,72.87 621.01,72.92 621.26,72.99 621.5,72.96 621.74,72.84 621.98,72.73 622.23,72.72 622.47,72.82 622.71,72.9 622.96,72.9 623.2,72.84 623.44,72.76 623.68,72.69 623.93,72.62 624.17,72.47 624.41,72.26 624.66,72.05 624.9,71.88 625.14,71.83 625.38,71.97 625.63,72.24 625.87,72.46 626.11,72.54 626.36,72.52 626.6,72.5 626.84,72.5 627.09,72.48 627.33,72.5 627.57,72.61 627.81,72.74 628.06,72.77 628.3,72.7 628.54,72.61 628.79,72.6 629.03,72.69 629.27,72.81 629.51,72.89 629.76,72.86 630,72.7 630.24,72.52 630.49,72.49 630.73,72.61 630.97,72.71 631.22,72.67 631.46,72.57 631.7,72.54 631.94,72.61 632.19,72.71 632.43,72.75 632.67,72.72 632.92,72.7 633.16,72.77 633.4,72.85 633.64,72.83 633.89,72.73 634.13,72.6 634.37,72.48 634.62,72.45 634.86,72.57 635.1,72.76 635.35,72.85 635.59,72.83 635.83,72.8 636.07,72.84 636.32,72.88 636.56,72.81 636.8,72.64 637.05,72.51 637.29,72.55 637.53,72.73 637.77,72.93 638.02,73.01 638.26,72.94 638.5,72.78 638.75,72.66 638.99,72.61 639.23,72.61 639.47,72.69 639.72,72.84 639.96,72.97 640.2,72.96 640.45,72.81 640.69,72.62 640.93,72.54 641.18,72.64 641.42,72.88 641.66,73.11 641.9,73.17 642.15,73.07 642.39,73.01 642.63,73.08 642.88,73.21 643.12,73.27 643.36,73.2 643.6,73.06 643.85,72.97 644.09,72.92 644.33,72.89 644.58,72.9 644.82,73.02 645.06,73.25 645.31,73.4 645.55,73.37 645.79,73.22 646.03,73.11 646.28,73.08 646.52,73.05 646.76,72.93 647.01,72.73 647.25,72.56 647.49,72.5 647.73,72.5 647.98,72.54 648.22,72.58 648.46,72.6 648.71,72.61 648.95,72.63 649.19,72.67 649.43,72.7 649.68,72.75 649.92,72.86 650.16,73.03 650.41,73.2 650.65,73.28 650.89,73.25 651.14,73.14 651.38,72.99 651.62,72.85 651.86,72.78 652.11,72.89 652.35,73.15 652.59,73.39 652.84,73.43 653.08,73.31 653.32,73.19 653.56,73.06 653.81,72.85 654.05,72.69 654.29,72.74 654.54,72.93 654.78,73.02 655.02,72.93 655.27,72.84 655.51,72.85 655.75,72.87 655.99,72.84 656.24,72.83 656.48,72.92 656.72,73.12 656.97,73.29 657.21,73.32 657.45,73.19 657.69,73.02 657.94,72.91 658.18,72.9 658.42,72.97 658.67,73.06 658.91,73.12 659.15,73.09 659.39,73.02 659.64,73.01 659.88,73.09 660.12,73.16 660.37,73.16 660.61,73.11 660.85,73.1 661.1,73.09 661.34,73.03 661.58,72.97 661.82,72.99 662.07,73.05 662.31,73.04 662.55,73.02 662.8,73.14 663.04,73.41 663.28,73.63 663.52,73.67 663.77,73.54 664.01,73.33 664.25,73.15 664.5,73.05 664.74,73.02 664.98,73.06 665.23,73.07 665.47,72.96 665.71,72.78 665.95,72.7 666.2,72.84 666.44,73.12 666.68,73.4 666.93,73.58 667.17,73.58 667.41,73.46 667.65,73.33 667.9,73.31 668.14,73.39 668.38,73.43 668.63,73.3 668.87,73.09 669.11,73.01 669.36,73.15 669.6,73.42 669.84,73.57 670.08,73.46 670.33,73.25 670.57,73.18 670.81,73.29 671.06,73.42 671.3,73.45 671.54,73.41 671.78,73.34 672.03,73.28 672.27,73.27 672.51,73.27 672.76,73.17 673,72.96 673.24,72.86 673.48,72.96 673.73,73.12 673.97,73.18 674.21,73.18 674.46,73.26 674.7,73.4 674.94,73.47 675.19,73.38 675.43,73.3 675.67,73.38 675.91,73.56 676.16,73.64 676.4,73.64" fill="none" stroke="#fc3a3a" stroke-width="1.15" stroke-linejoin="round" stroke-linecap="round" />
<polyline points="482.3,85.4 482.54,86.81 482.79,88.1 483.03,89.21 483.27,90.1 483.51,90.72 483.76,91.28 484,91.77 484.24,92.06 484.49,92.08 484.73,91.91 484.97,91.68 485.22,91.42 485.46,91.12 485.7,90.78 485.94,90.45 486.19,90.14 486.43,89.76 486.67,89.25 486.92,88.69 487.16,88.12 487.4,87.57 487.64,87.1 487.89,86.77 488.13,86.61 488.37,86.54 488.62,86.38 488.86,86.15 489.1,85.97 489.34,85.85 489.59,85.79 489.83,85.78 490.07,85.8 490.32,85.8 490.56,85.83 490.8,85.96 491.05,86.13 491.29,86.22 491.53,86.29 491.77,86.43 492.02,86.62 492.26,86.82 492.5,86.99 492.75,87.13 492.99,87.27 493.23,87.45 493.47,87.68 493.72,87.9 493.96,88.13 494.2,88.36 494.45,88.56 494.69,88.7 494.93,88.79 495.18,88.92 495.42,89.12 495.66,89.39 495.9,89.7 496.15,90.03 496.39,90.28 496.63,90.36 496.88,90.29 497.12,90.17 497.36,90.15 497.6,90.29 497.85,90.54 498.09,90.84 498.33,91.1 498.58,91.27 498.82,91.29 499.06,91.18 499.31,91.03 499.55,91.02 499.79,91.23 500.03,91.57 500.28,91.95 500.52,92.29 500.76,92.51 501.01,92.63 501.25,92.72 501.49,92.82 501.73,92.9 501.98,92.98 502.22,93.11 502.46,93.26 502.71,93.36 502.95,93.37 503.19,93.35 503.43,93.42 503.68,93.61 503.92,93.8 504.16,93.92 504.41,93.98 504.65,94.02 504.89,94.1 505.14,94.29 505.38,94.52 505.62,94.72 505.86,94.86 506.11,94.95 506.35,94.99 506.59,95 506.84,95.09 507.08,95.34 507.32,95.7 507.56,96.01 507.81,96.12 508.05,96.06 508.29,96.03 508.54,96.17 508.78,96.47 509.02,96.8 509.27,97.03 509.51,97.11 509.75,97.08 509.99,97.08 510.24,97.15 510.48,97.32 510.72,97.53 510.97,97.65 511.21,97.64 511.45,97.58 511.69,97.6 511.94,97.78 512.18,98.1 512.42,98.41 512.67,98.59 512.91,98.65 513.15,98.71 513.39,98.82 513.64,98.99 513.88,99.17 514.12,99.28 514.37,99.31 514.61,99.33 514.85,99.39 515.1,99.52 515.34,99.75 515.58,99.96 515.82,100.06 516.07,100.12 516.31,100.23 516.55,100.34 516.8,100.43 517.04,100.55 517.28,100.77 517.52,101.1 517.77,101.47 518.01,101.78 518.25,102.02 518.5,102.18 518.74,102.3 518.98,102.39 519.23,102.49 519.47,102.64 519.71,102.88 519.95,103.17 520.2,103.42 520.44,103.56 520.68,103.66 520.93,103.89 521.17,104.28 521.41,104.69 521.65,104.99 521.9,105.14 522.14,105.14 522.38,105.14 522.63,105.27 522.87,105.6 523.11,106.06 523.35,106.48 523.6,106.69 523.84,106.75 524.08,106.81 524.33,107.01 524.57,107.3 524.81,107.63 525.06,107.99 525.3,108.4 525.54,108.83 525.78,109.26 526.03,109.71 526.27,110.13 526.51,110.52 526.76,110.87 527,111.19 527.24,111.49 527.48,111.78 527.73,112.01 527.97,112.2 528.21,112.43 528.46,112.81 528.7,113.32 528.94,113.86 529.19,114.34 529.43,114.81 529.67,115.31 529.91,115.82 530.16,116.35 530.4,116.86 530.64,117.24 530.89,117.46 531.13,117.65 531.37,117.93 531.61,118.34 531.86,118.83 532.1,119.36 532.34,119.96 532.59,120.62 532.83,121.29 533.07,121.94 533.32,122.55 533.56,123.06 533.8,123.51 534.04,123.97 534.29,124.46 534.53,124.98 534.77,125.56 535.02,126.24 535.26,127.02 535.5,127.81 535.74,128.49 535.99,129 536.23,129.44 536.47,130.03 536.72,130.79 536.96,131.6 537.2,132.34 537.44,133 537.69,133.59 537.93,134.16 538.17,134.81 538.42,135.55 538.66,136.3 538.9,137.09 539.15,137.95 539.39,138.88 539.63,139.86 539.87,140.86 540.12,141.79 540.36,142.6 540.6,143.32 540.85,144.07 541.09,144.92 541.33,145.9 541.57,146.97 541.82,148.01 542.06,148.97 542.3,149.9 542.55,150.85 542.79,151.69 543.03,152.37 543.28,153.01 543.52,153.71 543.76,154.41 544,155.13 544.25,155.76 544.49,156.19 544.73,156.25 544.98,155.94 545.22,155.41 545.46,154.74 545.7,153.94 545.95,152.92 546.19,151.41 546.43,149.68 546.68,147.97 546.92,146.42 547.16,145.05 547.4,143.66 547.65,142.29 547.89,140.89 548.13,139.38 548.38,137.86 548.62,136.37 548.86,134.9 549.11,133.46 549.35,132.09 549.59,130.78 549.83,129.45 550.08,128 550.32,126.42 550.56,124.79 550.81,123.17 551.05,121.58 551.29,120.05 551.53,118.66 551.78,117.44 552.02,116.34 552.26,115.32 552.51,114.33 552.75,113.35 552.99,112.4 553.24,111.41 553.48,110.35 553.72,109.27 553.96,108.23 554.21,107.17 554.45,106.1 554.69,105.1 554.94,104.21 555.18,103.28 555.42,102.2 555.66,101.07 555.91,100.06 556.15,99.19 556.39,98.35 556.64,97.39 556.88,96.32 557.12,95.24 557.36,94.28 557.61,93.45 557.85,92.72 558.09,92 558.34,91.22 558.58,90.42 558.82,89.65 559.07,88.92 559.31,88.24 559.55,87.63 559.79,87.11 560.04,86.72 560.28,86.42 560.52,86.11 560.77,85.71 561.01,85.19 561.25,84.63 561.49,84.17 561.74,83.92 561.98,83.81 562.22,83.67 562.47,83.37 562.71,82.95 562.95,82.51 563.2,82.2 563.44,82.06 563.68,81.98 563.92,81.82 564.17,81.52 564.41,81.19 564.65,80.89 564.9,80.58 565.14,80.25 565.38,80.04 565.62,79.96 565.87,79.85 566.11,79.66 566.35,79.49 566.6,79.38 566.84,79.31 567.08,79.22 567.33,79.07 567.57,78.83 567.81,78.53 568.05,78.24 568.3,78.03 568.54,77.86 568.78,77.7 569.03,77.53 569.27,77.52 569.51,77.71 569.75,77.91 570,77.92 570.24,77.78 570.48,77.58 570.73,77.32 570.97,77.01 571.21,76.65 571.45,76.29 571.7,76.1 571.94,76.18 572.18,76.46 572.43,76.71 572.67,76.78 572.91,76.68 573.16,76.49 573.4,76.22 573.64,75.86 573.88,75.51 574.13,75.29 574.37,75.21 574.61,75.18 574.86,75.12 575.1,75.01 575.34,74.94 575.58,74.98 575.83,75.08 576.07,75.07 576.31,74.84 576.56,74.52 576.8,74.28 577.04,74.22 577.29,74.25 577.53,74.29 577.77,74.34 578.01,74.36 578.26,74.3 578.5,74.19 578.74,74.14 578.99,74.12 579.23,74.05 579.47,73.93 579.71,73.84 579.96,73.83 580.2,73.88 580.44,73.97 580.69,74.1 580.93,74.26 581.17,74.4 581.41,74.48 581.66,74.51 581.9,74.44 582.14,74.26 582.39,74.02 582.63,73.81 582.87,73.73 583.12,73.83 583.36,74.05 583.6,74.17 583.84,74.11 584.09,74.01 584.33,73.98 584.57,74.04 584.82,74.14 585.06,74.24 585.3,74.32 585.54,74.32 585.79,74.26 586.03,74.2 586.27,74.09 586.52,73.88 586.76,73.69 587,73.68 587.25,73.84 587.49,73.96 587.73,73.92 587.97,73.87 588.22,73.95 588.46,74.14 588.7,74.33 588.95,74.41 589.19,74.38 589.43,74.3 589.67,74.24 589.92,74.19 590.16,74.16 590.4,74.16 590.65,74.14 590.89,74.08 591.13,74.06 591.37,74.12 591.62,74.2 591.86,74.24 592.1,74.25 592.35,74.25 592.59,74.24 592.83,74.18 593.08,74.06 593.32,73.95 593.56,73.87 593.8,73.85 594.05,73.93 594.29,74.08 594.53,74.19 594.78,74.19 595.02,74.16 595.26,74.17 595.5,74.28 595.75,74.46 595.99,74.61 596.23,74.67 596.48,74.67 596.72,74.67 596.96,74.71 597.21,74.74 597.45,74.74 597.69,74.66 597.93,74.52 598.18,74.36 598.42,74.26 598.66,74.23 598.91,74.24 599.15,74.22 599.39,74.18 599.63,74.17 599.88,74.22 600.12,74.29 600.36,74.35 600.61,74.37 600.85,74.4 601.09,74.41 601.34,74.44 601.58,74.53 601.82,74.69 602.06,74.81 602.31,74.82 602.55,74.69 602.79,74.46 603.04,74.27 603.28,74.19 603.52,74.19 603.76,74.24 604.01,74.38 604.25,74.58 604.49,74.7 604.74,74.64 604.98,74.49 605.22,74.43 605.46,74.52 605.71,74.67 605.95,74.76 606.19,74.74 606.44,74.57 606.68,74.3 606.92,74.12 607.17,74.17 607.41,74.4 607.65,74.69 607.89,74.91 608.14,74.97 608.38,74.9 608.62,74.77 608.87,74.62 609.11,74.51 609.35,74.49 609.59,74.51 609.84,74.52 610.08,74.52 610.32,74.58 610.57,74.69 610.81,74.78 611.05,74.8 611.3,74.74 611.54,74.66 611.78,74.63 612.02,74.68 612.27,74.74 612.51,74.79 612.75,74.9 613,75.06 613.24,75.17 613.48,75.14 613.72,75.01 613.97,74.89 614.21,74.85 614.45,74.87 614.7,74.96 614.94,75.08 615.18,75.12 615.42,75.04 615.67,74.95 615.91,74.95 616.15,75.03 616.4,75.12 616.64,75.15 616.88,75.14 617.13,75.15 617.37,75.24 617.61,75.34 617.85,75.36 618.1,75.22 618.34,75 618.58,74.79 618.83,74.65 619.07,74.58 619.31,74.58 619.55,74.64 619.8,74.72 620.04,74.78 620.28,74.8 620.53,74.76 620.77,74.69 621.01,74.6 621.26,74.51 621.5,74.49 621.74,74.56 621.98,74.68 622.23,74.74 622.47,74.74 622.71,74.7 622.96,74.65 623.2,74.59 623.44,74.61 623.68,74.76 623.93,74.95 624.17,75.1 624.41,75.21 624.66,75.33 624.9,75.44 625.14,75.45 625.38,75.33 625.63,75.19 625.87,75.14 626.11,75.14 626.36,75.09 626.6,75.06 626.84,75.12 627.09,75.21 627.33,75.2 627.57,75.12 627.81,75.13 628.06,75.26 628.3,75.38 628.54,75.43 628.79,75.49 629.03,75.59 629.27,75.66 629.51,75.67 629.76,75.6 630,75.42 630.24,75.19 630.49,75.05 630.73,75.06 630.97,75.17 631.22,75.25 631.46,75.23 631.7,75.09 631.94,74.89 632.19,74.72 632.43,74.67 632.67,74.72 632.92,74.81 633.16,74.95 633.4,75.13 633.64,75.28 633.89,75.33 634.13,75.3 634.37,75.24 634.62,75.16 634.86,75.14 635.1,75.23 635.35,75.35 635.59,75.28 635.83,75.05 636.07,74.88 636.32,74.91 636.56,75.03 636.8,75.11 637.05,75.15 637.29,75.21 637.53,75.26 637.77,75.29 638.02,75.31 638.26,75.36 638.5,75.41 638.75,75.43 638.99,75.37 639.23,75.22 639.47,75.05 639.72,74.94 639.96,74.96 640.2,75.11 640.45,75.35 640.69,75.56 640.93,75.6 641.18,75.49 641.42,75.37 641.66,75.28 641.9,75.27 642.15,75.33 642.39,75.46 642.63,75.54 642.88,75.52 643.12,75.41 643.36,75.26 643.6,75.13 643.85,75.11 644.09,75.22 644.33,75.41 644.58,75.57 644.82,75.61 645.06,75.53 645.31,75.41 645.55,75.34 645.79,75.33 646.03,75.3 646.28,75.18 646.52,75 646.76,74.85 647.01,74.85 647.25,74.97 647.49,75.08 647.73,75.12 647.98,75.15 648.22,75.29 648.46,75.5 648.71,75.61 648.95,75.64 649.19,75.67 649.43,75.66 649.68,75.57 649.92,75.44 650.16,75.4 650.41,75.43 650.65,75.47 650.89,75.54 651.14,75.68 651.38,75.8 651.62,75.81 651.86,75.77 652.11,75.81 652.35,75.96 652.59,76.11 652.84,76.13 653.08,76.06 653.32,76.01 653.56,76.02 653.81,76 654.05,75.9 654.29,75.77 654.54,75.6 654.78,75.43 655.02,75.32 655.27,75.26 655.51,75.21 655.75,75.2 655.99,75.32 656.24,75.48 656.48,75.56 656.72,75.5 656.97,75.39 657.21,75.31 657.45,75.33 657.69,75.42 657.94,75.5 658.18,75.54 658.42,75.59 658.67,75.69 658.91,75.79 659.15,75.81 659.39,75.8 659.64,75.84 659.88,75.9 660.12,75.94 660.37,75.96 660.61,75.95 660.85,75.9 661.1,75.88 661.34,75.92 661.58,75.95 661.82,75.85 662.07,75.61 662.31,75.34 662.55,75.16 662.8,75.1 663.04,75.14 663.28,75.25 663.52,75.37 663.77,75.43 664.01,75.44 664.25,75.45 664.5,75.51 664.74,75.62 664.98,75.72 665.23,75.81 665.47,75.95 665.71,76.05 665.95,76 666.2,75.84 666.44,75.65 666.68,75.53 666.93,75.51 667.17,75.6 667.41,75.78 667.65,75.96 667.9,76.04 668.14,76 668.38,75.89 668.63,75.81 668.87,75.8 669.11,75.85 669.36,75.89 669.6,75.9 669.84,75.81 670.08,75.65 670.33,75.56 670.57,75.63 670.81,75.77 671.06,75.84 671.3,75.82 671.54,75.81 671.78,75.86 672.03,75.94 672.27,76.02 672.51,76.07 672.76,76.03 673,75.94 673.24,75.86 673.48,75.79 673.73,75.71 673.97,75.68 674.21,75.71 674.46,75.77 674.7,75.83 674.94,75.96 675.19,76.16 675.43,76.33 675.67,76.36 675.91,76.22 676.16,76 676.4,75.84" fill="none" stroke="#f0149a" stroke-width="1.15" stroke-linejoin="round" stroke-linecap="round" />
</g>
<line x1="544.7" y1="169" x2="544.7" y2="165.3" stroke="#f0149a" stroke-width="0.8"/>
<polygon points="543.2,165.8 546.2,165.8 544.7,162.6" fill="#f0149a"/>
<line x1="561.8" y1="129.5" x2="561.8" y2="125.7" stroke="#fc3a3a" stroke-width="0.8"/>
<polygon points="560.3,126.2 563.3,126.2 561.8,123" fill="#fc3a3a"/>
<line x1="585.4" y1="101.8" x2="585.4" y2="98.3" stroke="#e8b024" stroke-width="0.8"/>
<polygon points="583.9,98.8 586.9,98.8 585.4,95.6" fill="#e8b024"/>
<line x1="604.9" y1="92.6" x2="604.9" y2="89.1" stroke="#e0d84a" stroke-width="0.8"/>
<polygon points="603.4,89.6 606.4,89.6 604.9,86.4" fill="#e0d84a"/>
<line x1="625.3" y1="91" x2="625.3" y2="86.9" stroke="#a7e27a" stroke-width="0.8"/>
<polygon points="623.8,87.4 626.8,87.4 625.3,84.2" fill="#a7e27a"/>
<line x1="645.6" y1="88.8" x2="645.6" y2="84.9" stroke="#5fd870" stroke-width="0.8"/>
<polygon points="644.1,85.4 647.1,85.4 645.6,82.2" fill="#5fd870"/>
<rect x="481.8" y="22.5" width="194.8" height="156.7" fill="none" stroke="#9a9a9a" stroke-width="0.8"/>
<line x1="481.8" y1="22.5" x2="481.8" y2="179.2" stroke="#777" stroke-width="0.85" />
<line x1="481.8" y1="179.2" x2="676.6" y2="179.2" stroke="#777" stroke-width="0.85" />
<line x1="478.6" y1="32.9" x2="481.8" y2="32.9" stroke="#555" stroke-width="0.8" />
<text x="475.6" y="35.75" font-size="8" text-anchor="end" font-weight="normal" font-style="normal" fill="#333" stroke="#333" stroke-width="0.2" >20</text>
<line x1="478.6" y1="74.7" x2="481.8" y2="74.7" stroke="#555" stroke-width="0.8" />
<text x="475.6" y="77.55" font-size="8" text-anchor="end" font-weight="normal" font-style="normal" fill="#333" stroke="#333" stroke-width="0.2" >0</text>
<line x1="478.6" y1="116.5" x2="481.8" y2="116.5" stroke="#555" stroke-width="0.8" />
<text x="475.6" y="119.35" font-size="8" text-anchor="end" font-weight="normal" font-style="normal" fill="#333" stroke="#333" stroke-width="0.2" >−20</text>
<line x1="478.6" y1="158.3" x2="481.8" y2="158.3" stroke="#555" stroke-width="0.8" />
<text x="475.6" y="161.15" font-size="8" text-anchor="end" font-weight="normal" font-style="normal" fill="#333" stroke="#333" stroke-width="0.2" >−40</text>
<line x1="482.3" y1="179.2" x2="482.3" y2="182.2" stroke="#555" stroke-width="0.8" />
<text x="482.6" y="193.7" font-size="8" text-anchor="middle" font-weight="normal" font-style="normal" fill="#333" stroke="#333" stroke-width="0.2" >0</text>
<line x1="530.83" y1="179.2" x2="530.83" y2="182.2" stroke="#555" stroke-width="0.8" />
<text x="531.12" y="193.7" font-size="8" text-anchor="middle" font-weight="normal" font-style="normal" fill="#333" stroke="#333" stroke-width="0.2" >50</text>
<line x1="579.35" y1="179.2" x2="579.35" y2="182.2" stroke="#555" stroke-width="0.8" />
<text x="579.65" y="193.7" font-size="8" text-anchor="middle" font-weight="normal" font-style="normal" fill="#333" stroke="#333" stroke-width="0.2" >100</text>
<line x1="627.88" y1="179.2" x2="627.88" y2="182.2" stroke="#555" stroke-width="0.8" />
<text x="628.17" y="193.7" font-size="8" text-anchor="middle" font-weight="normal" font-style="normal" fill="#333" stroke="#333" stroke-width="0.2" >150</text>
<line x1="676.4" y1="179.2" x2="676.4" y2="182.2" stroke="#555" stroke-width="0.8" />
<text x="676.7" y="193.7" font-size="8" text-anchor="middle" font-weight="normal" font-style="normal" fill="#333" stroke="#333" stroke-width="0.2" >200</text>
<text transform="translate(459.6,100) rotate(-90)" font-size="8.6" text-anchor="middle" fill="#231f20" stroke="#231f20" stroke-width="0.2"><tspan font-style="italic">V</tspan> (μV)</text>
<text x="579.1" y="208" font-size="8.8" text-anchor="middle" fill="#231f20" stroke="#231f20" stroke-width="0.2"><tspan font-style="italic">μ</tspan><tspan font-size="6" dy="2">0</tspan><tspan font-style="italic" dy="-2">H</tspan><tspan font-size="6" dy="2">ext</tspan><tspan dy="-2"> (mT)</tspan></text>
<line x1="485" y1="29.8" x2="492.4" y2="29.8" stroke="#22cdd6" stroke-width="1.2" />
<text x="496" y="32.3" font-size="7.3" text-anchor="start" font-weight="normal" font-style="normal" fill="#231f20" stroke="#231f20" stroke-width="0.2" >4.5 GHz</text>
<line x1="485" y1="38.1" x2="492.4" y2="38.1" stroke="#10da18" stroke-width="1.2" />
<text x="496" y="40.6" font-size="7.3" text-anchor="start" font-weight="normal" font-style="normal" fill="#231f20" stroke="#231f20" stroke-width="0.2" >4.0 GHz</text>
<line x1="485" y1="46.4" x2="492.4" y2="46.4" stroke="#92e028" stroke-width="1.2" />
<text x="496" y="48.9" font-size="7.3" text-anchor="start" font-weight="normal" font-style="normal" fill="#231f20" stroke="#231f20" stroke-width="0.2" >3.5 GHz</text>
<line x1="485" y1="54.7" x2="492.4" y2="54.7" stroke="#e6dc34" stroke-width="1.2" />
<text x="496" y="57.2" font-size="7.3" text-anchor="start" font-weight="normal" font-style="normal" fill="#231f20" stroke="#231f20" stroke-width="0.2" >3.0 GHz</text>
<line x1="535.3" y1="29.8" x2="542.2" y2="29.8" stroke="#e8b024" stroke-width="1.2" />
<text x="545.5" y="32.3" font-size="7.3" text-anchor="start" font-weight="normal" font-style="normal" fill="#231f20" stroke="#231f20" stroke-width="0.2" >2.5 GHz</text>
<line x1="535.3" y1="38.1" x2="542.2" y2="38.1" stroke="#fc3a3a" stroke-width="1.2" />
<text x="545.5" y="40.6" font-size="7.3" text-anchor="start" font-weight="normal" font-style="normal" fill="#231f20" stroke="#231f20" stroke-width="0.2" >2.0 GHz</text>
<line x1="535.3" y1="46.4" x2="542.2" y2="46.4" stroke="#f0149a" stroke-width="1.2" />
<text x="545.5" y="48.9" font-size="7.3" text-anchor="start" font-weight="normal" font-style="normal" fill="#231f20" stroke="#231f20" stroke-width="0.2" >1.5 GHz</text>
<rect x="593.4" y="101.5" width="69.6" height="57.1" fill="#fff" stroke="#555" stroke-width="0.8"/>
<defs><clipPath id="cpi"><rect x="593.4" y="101.5" width="69.6" height="57.1"/></clipPath></defs>
<line x1="613.9" y1="115.9" x2="619.1" y2="126.3" stroke="#2aa8e0" stroke-width="0.55" stroke-opacity="0.9"/>
<line x1="613.9" y1="115.9" x2="618.59" y2="126.69" stroke="#2aa8e0" stroke-width="0.55" stroke-opacity="0.9"/>
<line x1="613.9" y1="115.9" x2="617.14" y2="127" stroke="#2aa8e0" stroke-width="0.55" stroke-opacity="0.9"/>
<line x1="613.9" y1="115.9" x2="615.06" y2="127.18" stroke="#2aa8e0" stroke-width="0.55" stroke-opacity="0.9"/>
<line x1="613.9" y1="115.9" x2="612.74" y2="127.18" stroke="#2aa8e0" stroke-width="0.55" stroke-opacity="0.9"/>
<line x1="613.9" y1="115.9" x2="610.66" y2="127" stroke="#2aa8e0" stroke-width="0.55" stroke-opacity="0.9"/>
<line x1="613.9" y1="115.9" x2="609.21" y2="126.69" stroke="#2aa8e0" stroke-width="0.55" stroke-opacity="0.9"/>
<line x1="613.9" y1="115.9" x2="608.7" y2="126.3" stroke="#2aa8e0" stroke-width="0.55" stroke-opacity="0.9"/>
<line x1="613.9" y1="115.9" x2="609.21" y2="125.91" stroke="#2aa8e0" stroke-width="0.55" stroke-opacity="0.9"/>
<line x1="613.9" y1="115.9" x2="610.66" y2="125.6" stroke="#2aa8e0" stroke-width="0.55" stroke-opacity="0.9"/>
<line x1="613.9" y1="115.9" x2="612.74" y2="125.42" stroke="#2aa8e0" stroke-width="0.55" stroke-opacity="0.9"/>
<line x1="613.9" y1="115.9" x2="615.06" y2="125.42" stroke="#2aa8e0" stroke-width="0.55" stroke-opacity="0.9"/>
<line x1="613.9" y1="115.9" x2="617.14" y2="125.6" stroke="#2aa8e0" stroke-width="0.55" stroke-opacity="0.9"/>
<line x1="613.9" y1="115.9" x2="618.59" y2="125.91" stroke="#2aa8e0" stroke-width="0.55" stroke-opacity="0.9"/>
<circle cx="613.9" cy="115.9" r="12.7" fill="none" stroke="#231f20" stroke-width="0.6"/>
<ellipse cx="613.9" cy="115.9" rx="12.7" ry="2.6" fill="none" stroke="#231f20" stroke-width="0.6"/>
<line x1="601.2" y1="115.9" x2="626.6" y2="115.9" stroke="#231f20" stroke-width="0.48" />
<line x1="613.9" y1="103.2" x2="613.9" y2="128.6" stroke="#231f20" stroke-width="0.48" />
<line x1="647.3" y1="142.3" x2="651.9" y2="132.8" stroke="#f02828" stroke-width="0.45" stroke-opacity="0.6"/>
<line x1="647.3" y1="142.3" x2="651.44" y2="133.15" stroke="#f02828" stroke-width="0.45" stroke-opacity="0.6"/>
<line x1="647.3" y1="142.3" x2="650.17" y2="133.43" stroke="#f02828" stroke-width="0.45" stroke-opacity="0.6"/>
<line x1="647.3" y1="142.3" x2="648.32" y2="133.58" stroke="#f02828" stroke-width="0.45" stroke-opacity="0.6"/>
<line x1="647.3" y1="142.3" x2="646.28" y2="133.58" stroke="#f02828" stroke-width="0.45" stroke-opacity="0.6"/>
<line x1="647.3" y1="142.3" x2="644.43" y2="133.43" stroke="#f02828" stroke-width="0.45" stroke-opacity="0.6"/>
<line x1="647.3" y1="142.3" x2="643.16" y2="133.15" stroke="#f02828" stroke-width="0.45" stroke-opacity="0.6"/>
<line x1="647.3" y1="142.3" x2="642.7" y2="132.8" stroke="#f02828" stroke-width="0.45" stroke-opacity="0.6"/>
<line x1="647.3" y1="142.3" x2="643.16" y2="132.45" stroke="#f02828" stroke-width="0.45" stroke-opacity="0.6"/>
<line x1="647.3" y1="142.3" x2="644.43" y2="132.17" stroke="#f02828" stroke-width="0.45" stroke-opacity="0.6"/>
<line x1="647.3" y1="142.3" x2="646.28" y2="132.02" stroke="#f02828" stroke-width="0.45" stroke-opacity="0.6"/>
<line x1="647.3" y1="142.3" x2="648.32" y2="132.02" stroke="#f02828" stroke-width="0.45" stroke-opacity="0.6"/>
<line x1="647.3" y1="142.3" x2="650.17" y2="132.17" stroke="#f02828" stroke-width="0.45" stroke-opacity="0.6"/>
<line x1="647.3" y1="142.3" x2="651.44" y2="132.45" stroke="#f02828" stroke-width="0.45" stroke-opacity="0.6"/>
<circle cx="647.3" cy="142.3" r="11.2" fill="none" stroke="#231f20" stroke-width="0.6"/>
<ellipse cx="647.3" cy="142.3" rx="11.2" ry="2.3" fill="none" stroke="#231f20" stroke-width="0.6"/>
<line x1="636.1" y1="142.3" x2="658.5" y2="142.3" stroke="#231f20" stroke-width="0.48" />
<line x1="647.3" y1="131.1" x2="647.3" y2="153.5" stroke="#231f20" stroke-width="0.48" />
<line x1="598.5" y1="111.1" x2="598.5" y2="122.6" stroke="#2bb36a" stroke-width="0.7"/>
<polygon points="597.1,121.6 598.5,122.45 599.9,121.6 598.5,125" fill="#2bb36a"/>
<line x1="633.6" y1="136" x2="633.6" y2="148.6" stroke="#2bb36a" stroke-width="0.7"/>
<polygon points="632.2,147.6 633.6,148.45 635,147.6 633.6,151" fill="#2bb36a"/>
<g clip-path="url(#cpi)">
<polyline points="593.7,157.5 666,99.23" fill="none" stroke="#1a2cf0" stroke-width="1.3" stroke-linejoin="round" stroke-linecap="round" />
<polyline points="600.38,158.6 600.59,157.25 600.81,156.67 601.02,156.22 601.23,155.84 601.45,155.49 601.66,155.17 601.87,154.87 602.08,154.59 602.3,154.32 602.51,154.06 602.72,153.81 602.93,153.56 603.15,153.33 603.36,153.09 603.57,152.87 603.78,152.65 604,152.43 604.21,152.21 604.42,152 604.63,151.79 604.85,151.58 605.06,151.38 605.27,151.18 605.48,150.98 605.7,150.78 605.91,150.58 606.12,150.39 606.33,150.2 606.55,150.01 606.76,149.81 606.97,149.63 607.18,149.44 607.4,149.25 607.61,149.06 607.82,148.88 608.03,148.69 608.25,148.51 608.46,148.33 608.67,148.15 608.88,147.96 609.1,147.78 609.31,147.6 609.52,147.42 609.73,147.25 609.95,147.07 610.16,146.89 610.37,146.71 610.58,146.54 610.8,146.36 611.01,146.18 611.22,146.01 611.44,145.83 611.65,145.66 611.86,145.49 612.07,145.31 612.29,145.14 612.5,144.97 612.71,144.79 612.92,144.62 613.14,144.45 613.35,144.28 613.56,144.11 613.77,143.93 613.99,143.76 614.2,143.59 614.41,143.42 614.62,143.25 614.84,143.08 615.05,142.91 615.26,142.74 615.47,142.57 615.69,142.4 615.9,142.23 616.11,142.07 616.32,141.9 616.54,141.73 616.75,141.56 616.96,141.39 617.17,141.22 617.39,141.06 617.6,140.89 617.81,140.72 618.02,140.55 618.24,140.39 618.45,140.22 618.66,140.05 618.87,139.88 619.09,139.72 619.3,139.55 619.51,139.38 619.72,139.22 619.94,139.05 620.15,138.89 620.36,138.72 620.58,138.55 620.79,138.39 621,138.22 621.21,138.06 621.43,137.89 621.64,137.73 621.85,137.56 622.06,137.39 622.28,137.23 622.49,137.06 622.7,136.9 622.91,136.73 623.13,136.57 623.34,136.4 623.55,136.24 623.76,136.07 623.98,135.91 624.19,135.75 624.4,135.58 624.61,135.42 624.83,135.25 625.04,135.09 625.25,134.92 625.46,134.76 625.68,134.6 625.89,134.43 626.1,134.27 626.31,134.1 626.53,133.94 626.74,133.78 626.95,133.61 627.16,133.45 627.38,133.29 627.59,133.12 627.8,132.96 628.01,132.79 628.23,132.63 628.44,132.47 628.65,132.3 628.86,132.14 629.08,131.98 629.29,131.81 629.5,131.65 629.71,131.49 629.93,131.33 630.14,131.16 630.35,131 630.57,130.84 630.78,130.67 630.99,130.51 631.2,130.35 631.42,130.18 631.63,130.02 631.84,129.86 632.05,129.7 632.27,129.53 632.48,129.37 632.69,129.21 632.9,129.05 633.12,128.88 633.33,128.72 633.54,128.56 633.75,128.4 633.97,128.23 634.18,128.07 634.39,127.91 634.6,127.75 634.82,127.58 635.03,127.42 635.24,127.26 635.45,127.1 635.67,126.93 635.88,126.77 636.09,126.61 636.3,126.45 636.52,126.29 636.73,126.12 636.94,125.96 637.15,125.8 637.37,125.64 637.58,125.48 637.79,125.31 638,125.15 638.22,124.99 638.43,124.83 638.64,124.67 638.85,124.5 639.07,124.34 639.28,124.18 639.49,124.02 639.7,123.86 639.92,123.7 640.13,123.53 640.34,123.37 640.56,123.21 640.77,123.05 640.98,122.89 641.19,122.72 641.41,122.56 641.62,122.4 641.83,122.24 642.04,122.08 642.26,121.92 642.47,121.76 642.68,121.59 642.89,121.43 643.11,121.27 643.32,121.11 643.53,120.95 643.74,120.79 643.96,120.62 644.17,120.46 644.38,120.3 644.59,120.14 644.81,119.98 645.02,119.82 645.23,119.66 645.44,119.5 645.66,119.33 645.87,119.17 646.08,119.01 646.29,118.85 646.51,118.69 646.72,118.53 646.93,118.37 647.14,118.2 647.36,118.04 647.57,117.88 647.78,117.72 647.99,117.56 648.21,117.4 648.42,117.24 648.63,117.08 648.84,116.92 649.06,116.75 649.27,116.59 649.48,116.43 649.69,116.27 649.91,116.11 650.12,115.95 650.33,115.79 650.55,115.63 650.76,115.47 650.97,115.3 651.18,115.14 651.4,114.98 651.61,114.82 651.82,114.66 652.03,114.5 652.25,114.34 652.46,114.18 652.67,114.02 652.88,113.86 653.1,113.69 653.31,113.53 653.52,113.37 653.73,113.21 653.95,113.05 654.16,112.89 654.37,112.73 654.58,112.57 654.8,112.41 655.01,112.25 655.22,112.09 655.43,111.92 655.65,111.76 655.86,111.6 656.07,111.44 656.28,111.28 656.5,111.12 656.71,110.96 656.92,110.8 657.13,110.64 657.35,110.48 657.56,110.32 657.77,110.16 657.98,110 658.2,109.83 658.41,109.67 658.62,109.51 658.83,109.35 659.05,109.19 659.26,109.03 659.47,108.87 659.68,108.71 659.9,108.55 660.11,108.39 660.32,108.23 660.54,108.07 660.75,107.91 660.96,107.75 661.17,107.58 661.39,107.42 661.6,107.26 661.81,107.1 662.02,106.94 662.24,106.78 662.45,106.62 662.66,106.46 662.87,106.3 663.09,106.14 663.3,105.98 663.51,105.82 663.72,105.66 663.94,105.5" fill="none" stroke="#f01c1c" stroke-width="1.3" stroke-linejoin="round" stroke-linecap="round" />
</g>
<circle cx="616.5" cy="138.9" r="1.55" fill="#1a2cf0"/>
<circle cx="620.5" cy="135.2" r="1.55" fill="#1a2cf0"/>
<circle cx="625" cy="131" r="1.55" fill="#1a2cf0"/>
<circle cx="629.4" cy="127.5" r="1.55" fill="#1a2cf0"/>
<circle cx="634.3" cy="124" r="1.55" fill="#1a2cf0"/>
<circle cx="639.1" cy="120.3" r="1.55" fill="#1a2cf0"/>
<circle cx="644.3" cy="116.2" r="1.55" fill="#1a2cf0"/>
<circle cx="649.2" cy="112.4" r="1.55" fill="#1a2cf0"/>
<circle cx="654.3" cy="108.7" r="1.55" fill="#1a2cf0"/>
<circle cx="610.5" cy="146.4" r="1.55" fill="#f01c1c"/>
<circle cx="615.3" cy="142.3" r="1.55" fill="#f01c1c"/>
<circle cx="621" cy="138.9" r="1.55" fill="#f01c1c"/>
<circle cx="626.5" cy="135.2" r="1.55" fill="#f01c1c"/>
<circle cx="631.7" cy="131.5" r="1.55" fill="#f01c1c"/>
<circle cx="636.4" cy="127.8" r="1.55" fill="#f01c1c"/>
<circle cx="641.3" cy="124" r="1.55" fill="#f01c1c"/>
<line x1="591.6" y1="158.6" x2="593.4" y2="158.6" stroke="#555" stroke-width="0.6" />
<text x="590.8" y="160.6" font-size="6.2" text-anchor="end" font-weight="normal" font-style="normal" fill="#3a3a3a" stroke="#3a3a3a" stroke-width="0.2" >0</text>
<line x1="591.6" y1="150.96" x2="593.4" y2="150.96" stroke="#555" stroke-width="0.6" />
<text x="590.8" y="152.96" font-size="6.2" text-anchor="end" font-weight="normal" font-style="normal" fill="#3a3a3a" stroke="#3a3a3a" stroke-width="0.2" >1</text>
<line x1="591.6" y1="143.32" x2="593.4" y2="143.32" stroke="#555" stroke-width="0.6" />
<text x="590.8" y="145.32" font-size="6.2" text-anchor="end" font-weight="normal" font-style="normal" fill="#3a3a3a" stroke="#3a3a3a" stroke-width="0.2" >2</text>
<line x1="591.6" y1="135.68" x2="593.4" y2="135.68" stroke="#555" stroke-width="0.6" />
<text x="590.8" y="137.68" font-size="6.2" text-anchor="end" font-weight="normal" font-style="normal" fill="#3a3a3a" stroke="#3a3a3a" stroke-width="0.2" >3</text>
<line x1="591.6" y1="128.04" x2="593.4" y2="128.04" stroke="#555" stroke-width="0.6" />
<text x="590.8" y="130.04" font-size="6.2" text-anchor="end" font-weight="normal" font-style="normal" fill="#3a3a3a" stroke="#3a3a3a" stroke-width="0.2" >4</text>
<line x1="591.6" y1="120.4" x2="593.4" y2="120.4" stroke="#555" stroke-width="0.6" />
<text x="590.8" y="122.4" font-size="6.2" text-anchor="end" font-weight="normal" font-style="normal" fill="#3a3a3a" stroke="#3a3a3a" stroke-width="0.2" >5</text>
<line x1="591.6" y1="112.76" x2="593.4" y2="112.76" stroke="#555" stroke-width="0.6" />
<text x="590.8" y="114.76" font-size="6.2" text-anchor="end" font-weight="normal" font-style="normal" fill="#3a3a3a" stroke="#3a3a3a" stroke-width="0.2" >6</text>
<line x1="591.6" y1="105.12" x2="593.4" y2="105.12" stroke="#555" stroke-width="0.6" />
<text x="590.8" y="107.12" font-size="6.2" text-anchor="end" font-weight="normal" font-style="normal" fill="#3a3a3a" stroke="#3a3a3a" stroke-width="0.2" >7</text>
<line x1="593.6" y1="158.6" x2="593.6" y2="160.4" stroke="#555" stroke-width="0.6" />
<text x="593.6" y="166.6" font-size="6.2" text-anchor="middle" font-weight="normal" font-style="normal" fill="#3a3a3a" stroke="#3a3a3a" stroke-width="0.2" >0</text>
<line x1="606.16" y1="158.6" x2="606.16" y2="160.4" stroke="#555" stroke-width="0.6" />
<text x="606.16" y="166.6" font-size="6.2" text-anchor="middle" font-weight="normal" font-style="normal" fill="#3a3a3a" stroke="#3a3a3a" stroke-width="0.2" >50</text>
<line x1="618.72" y1="158.6" x2="618.72" y2="160.4" stroke="#555" stroke-width="0.6" />
<text x="618.72" y="166.6" font-size="6.2" text-anchor="middle" font-weight="normal" font-style="normal" fill="#3a3a3a" stroke="#3a3a3a" stroke-width="0.2" >100</text>
<line x1="631.28" y1="158.6" x2="631.28" y2="160.4" stroke="#555" stroke-width="0.6" />
<text x="631.28" y="166.6" font-size="6.2" text-anchor="middle" font-weight="normal" font-style="normal" fill="#3a3a3a" stroke="#3a3a3a" stroke-width="0.2" >150</text>
<line x1="643.84" y1="158.6" x2="643.84" y2="160.4" stroke="#555" stroke-width="0.6" />
<text x="643.84" y="166.6" font-size="6.2" text-anchor="middle" font-weight="normal" font-style="normal" fill="#3a3a3a" stroke="#3a3a3a" stroke-width="0.2" >200</text>
<line x1="656.4" y1="158.6" x2="656.4" y2="160.4" stroke="#555" stroke-width="0.6" />
<text x="656.4" y="166.6" font-size="6.2" text-anchor="middle" font-weight="normal" font-style="normal" fill="#3a3a3a" stroke="#3a3a3a" stroke-width="0.2" >250</text>
<text transform="translate(584.3,130) rotate(-90)" font-size="7.4" text-anchor="middle" fill="#231f20" stroke="#231f20" stroke-width="0.2"><tspan font-style="italic">f</tspan> (GHz)</text>
<text x="627.5" y="175.6" font-size="7.4" text-anchor="middle" fill="#231f20" stroke="#231f20" stroke-width="0.2"><tspan font-style="italic">μ</tspan><tspan font-size="5.2" dy="1.7">0</tspan><tspan font-style="italic" dy="-1.7">H</tspan><tspan font-size="5.2" dy="1.7">ext</tspan><tspan dy="-1.7"> (mT)</tspan></text>
<text x="-0.8" y="232.5" font-size="12" text-anchor="start" font-weight="bold" font-style="normal" fill="#000" stroke="#000" stroke-width="0.3" >d</text>
<path d="M30.00 373.75h0.5V387.00h-0.5zM30.50 375.19h0.5V387.00h-0.5zM31.00 367.00h0.5V387.00h-0.5zM31.50 364.89h0.5V387.00h-0.5zM32.00 364.88h0.5V387.00h-0.5zM32.50 359.68h0.5V387.00h-0.5zM33.00 377.07h0.5V387.00h-0.5zM33.50 378.91h0.5V387.00h-0.5zM34.00 373.34h0.5V387.00h-0.5zM34.50 370.46h0.5V387.00h-0.5zM35.00 353.62h0.5V387.00h-0.5zM35.50 349.77h0.5V387.00h-0.5zM36.00 374.99h0.5V387.00h-0.5zM36.50 374.17h0.5V387.00h-0.5zM37.00 373.73h0.5V387.00h-0.5zM37.50 370.84h0.5V387.00h-0.5zM38.00 351.29h0.5V387.00h-0.5zM38.50 351.43h0.5V387.00h-0.5zM39.00 364.38h0.5V387.00h-0.5zM39.50 365.78h0.5V387.00h-0.5zM40.00 369.18h0.5V387.00h-0.5zM40.50 370.27h0.5V387.00h-0.5zM41.00 366.80h0.5V387.00h-0.5zM41.50 366.37h0.5V387.00h-0.5zM42.00 363.37h0.5V387.00h-0.5zM42.50 368.05h0.5V387.00h-0.5zM43.00 370.75h0.5V387.00h-0.5zM43.50 366.60h0.5V387.00h-0.5zM44.00 373.55h0.5V387.00h-0.5zM44.50 373.80h0.5V387.00h-0.5zM45.00 360.28h0.5V387.00h-0.5zM45.50 357.96h0.5V387.00h-0.5zM46.00 363.18h0.5V387.00h-0.5zM46.50 365.17h0.5V387.00h-0.5zM47.00 366.79h0.5V387.00h-0.5zM47.50 364.65h0.5V387.00h-0.5zM48.00 359.15h0.5V387.00h-0.5zM48.50 356.56h0.5V387.00h-0.5zM49.00 366.17h0.5V387.00h-0.5zM49.50 363.66h0.5V387.00h-0.5zM50.00 344.48h0.5V387.00h-0.5zM50.50 339.93h0.5V387.00h-0.5zM51.00 372.14h0.5V387.00h-0.5zM51.50 368.40h0.5V387.00h-0.5zM52.00 366.06h0.5V387.00h-0.5zM52.50 360.82h0.5V387.00h-0.5zM53.00 367.27h0.5V387.00h-0.5zM53.50 365.12h0.5V387.00h-0.5zM54.00 369.45h0.5V387.00h-0.5zM54.50 370.45h0.5V387.00h-0.5zM55.00 365.13h0.5V387.00h-0.5zM55.50 366.41h0.5V387.00h-0.5zM56.00 371.49h0.5V387.00h-0.5zM56.50 369.36h0.5V387.00h-0.5zM57.00 359.87h0.5V387.00h-0.5zM57.50 358.80h0.5V387.00h-0.5zM58.00 356.64h0.5V387.00h-0.5zM58.50 358.25h0.5V387.00h-0.5zM59.00 373.75h0.5V387.00h-0.5zM59.50 377.37h0.5V387.00h-0.5zM60.00 367.54h0.5V387.00h-0.5zM60.50 367.21h0.5V387.00h-0.5zM61.00 370.72h0.5V387.00h-0.5zM61.50 369.89h0.5V387.00h-0.5zM62.00 374.72h0.5V387.00h-0.5zM62.50 373.64h0.5V387.00h-0.5zM63.00 355.22h0.5V387.00h-0.5zM63.50 355.07h0.5V387.00h-0.5zM64.00 368.16h0.5V387.00h-0.5zM64.50 369.94h0.5V387.00h-0.5zM65.00 373.35h0.5V387.00h-0.5zM65.50 367.64h0.5V387.00h-0.5zM66.00 363.11h0.5V387.00h-0.5zM66.50 361.43h0.5V387.00h-0.5zM67.00 372.19h0.5V387.00h-0.5zM67.50 375.17h0.5V387.00h-0.5zM68.00 354.95h0.5V387.00h-0.5zM68.50 353.91h0.5V387.00h-0.5zM69.00 371.87h0.5V387.00h-0.5zM69.50 374.27h0.5V387.00h-0.5zM70.00 376.73h0.5V387.00h-0.5zM70.50 376.95h0.5V387.00h-0.5zM71.00 372.22h0.5V387.00h-0.5zM71.50 374.50h0.5V387.00h-0.5zM72.00 369.57h0.5V387.00h-0.5zM72.50 373.40h0.5V387.00h-0.5zM73.00 367.51h0.5V387.00h-0.5zM73.50 362.82h0.5V387.00h-0.5zM74.00 354.71h0.5V387.00h-0.5zM74.50 353.39h0.5V387.00h-0.5zM75.00 362.52h0.5V387.00h-0.5zM75.50 362.16h0.5V387.00h-0.5zM76.00 369.68h0.5V387.00h-0.5zM76.50 366.00h0.5V387.00h-0.5zM77.00 377.98h0.5V387.00h-0.5zM77.50 380.66h0.5V387.00h-0.5zM78.00 373.09h0.5V387.00h-0.5zM78.50 373.14h0.5V387.00h-0.5zM79.00 339.74h0.5V387.00h-0.5zM79.50 339.11h0.5V387.00h-0.5zM80.00 367.67h0.5V387.00h-0.5zM80.50 363.47h0.5V387.00h-0.5zM81.00 362.67h0.5V387.00h-0.5zM81.50 361.31h0.5V387.00h-0.5zM82.00 375.32h0.5V387.00h-0.5zM82.50 380.50h0.5V387.00h-0.5zM83.00 376.65h0.5V387.00h-0.5zM83.50 376.25h0.5V387.00h-0.5zM84.00 357.70h0.5V387.00h-0.5zM84.50 361.26h0.5V387.00h-0.5zM85.00 365.22h0.5V387.00h-0.5zM85.50 372.92h0.5V387.00h-0.5zM86.00 370.19h0.5V387.00h-0.5zM86.50 371.53h0.5V387.00h-0.5zM87.00 370.05h0.5V387.00h-0.5zM87.50 371.76h0.5V387.00h-0.5zM88.00 374.59h0.5V387.00h-0.5zM88.50 379.06h0.5V387.00h-0.5zM89.00 372.82h0.5V387.00h-0.5zM89.50 371.39h0.5V387.00h-0.5zM90.00 377.38h0.5V387.00h-0.5zM90.50 373.25h0.5V387.00h-0.5zM91.00 358.04h0.5V387.00h-0.5zM91.50 357.01h0.5V387.00h-0.5zM92.00 367.56h0.5V387.00h-0.5zM92.50 369.46h0.5V387.00h-0.5zM93.00 373.78h0.5V387.00h-0.5zM93.50 375.77h0.5V387.00h-0.5zM94.00 361.48h0.5V387.00h-0.5zM94.50 360.56h0.5V387.00h-0.5zM95.00 372.33h0.5V387.00h-0.5zM95.50 375.77h0.5V387.00h-0.5zM96.00 375.17h0.5V387.00h-0.5zM96.50 375.02h0.5V387.00h-0.5zM97.00 364.96h0.5V387.00h-0.5zM97.50 361.99h0.5V387.00h-0.5zM98.00 355.23h0.5V387.00h-0.5zM98.50 363.90h0.5V387.00h-0.5zM99.00 377.20h0.5V387.00h-0.5zM99.50 374.12h0.5V387.00h-0.5zM100.00 359.73h0.5V387.00h-0.5zM100.50 356.08h0.5V387.00h-0.5zM101.00 372.44h0.5V387.00h-0.5zM101.50 367.51h0.5V387.00h-0.5zM102.00 374.51h0.5V387.00h-0.5zM102.50 373.24h0.5V387.00h-0.5zM103.00 377.89h0.5V387.00h-0.5zM103.50 377.62h0.5V387.00h-0.5zM104.00 370.46h0.5V387.00h-0.5zM104.50 372.62h0.5V387.00h-0.5zM105.00 361.78h0.5V387.00h-0.5zM105.50 362.18h0.5V387.00h-0.5zM106.00 367.11h0.5V387.00h-0.5zM106.50 362.01h0.5V387.00h-0.5zM107.00 357.35h0.5V387.00h-0.5zM107.50 357.44h0.5V387.00h-0.5zM108.00 371.87h0.5V387.00h-0.5zM108.50 378.63h0.5V387.00h-0.5zM109.00 370.08h0.5V387.00h-0.5zM109.50 371.86h0.5V387.00h-0.5zM110.00 371.04h0.5V387.00h-0.5zM110.50 377.68h0.5V387.00h-0.5zM111.00 345.02h0.5V387.00h-0.5zM111.50 350.08h0.5V387.00h-0.5zM112.00 352.82h0.5V387.00h-0.5zM112.50 348.91h0.5V387.00h-0.5zM113.00 369.66h0.5V387.00h-0.5zM113.50 367.74h0.5V387.00h-0.5zM114.00 368.06h0.5V387.00h-0.5zM114.50 373.48h0.5V387.00h-0.5zM115.00 370.10h0.5V387.00h-0.5zM115.50 368.41h0.5V387.00h-0.5zM116.00 361.30h0.5V387.00h-0.5zM116.50 359.90h0.5V387.00h-0.5zM117.00 376.19h0.5V387.00h-0.5zM117.50 374.51h0.5V387.00h-0.5zM118.00 375.05h0.5V387.00h-0.5zM118.50 373.56h0.5V387.00h-0.5zM119.00 368.60h0.5V387.00h-0.5zM119.50 365.59h0.5V387.00h-0.5zM120.00 371.28h0.5V387.00h-0.5zM120.50 375.81h0.5V387.00h-0.5zM121.00 357.74h0.5V387.00h-0.5zM121.50 361.85h0.5V387.00h-0.5zM122.00 361.42h0.5V387.00h-0.5zM122.50 361.10h0.5V387.00h-0.5zM123.00 366.23h0.5V387.00h-0.5zM123.50 368.97h0.5V387.00h-0.5zM124.00 363.40h0.5V387.00h-0.5zM124.50 359.97h0.5V387.00h-0.5zM125.00 362.64h0.5V387.00h-0.5zM125.50 359.87h0.5V387.00h-0.5zM126.00 360.45h0.5V387.00h-0.5zM126.50 358.43h0.5V387.00h-0.5zM127.00 353.65h0.5V387.00h-0.5zM127.50 355.87h0.5V387.00h-0.5zM128.00 373.30h0.5V387.00h-0.5zM128.50 374.48h0.5V387.00h-0.5zM129.00 364.28h0.5V387.00h-0.5zM129.50 370.30h0.5V387.00h-0.5zM130.00 373.43h0.5V387.00h-0.5zM130.50 372.64h0.5V387.00h-0.5zM131.00 367.94h0.5V387.00h-0.5zM131.50 364.42h0.5V387.00h-0.5zM132.00 360.32h0.5V387.00h-0.5zM132.50 357.69h0.5V387.00h-0.5zM133.00 355.28h0.5V387.00h-0.5zM133.50 357.43h0.5V387.00h-0.5zM134.00 360.99h0.5V387.00h-0.5zM134.50 360.15h0.5V387.00h-0.5zM135.00 376.55h0.5V387.00h-0.5zM135.50 379.89h0.5V387.00h-0.5zM136.00 369.34h0.5V387.00h-0.5zM136.50 370.67h0.5V387.00h-0.5zM137.00 373.02h0.5V387.00h-0.5zM137.50 373.37h0.5V387.00h-0.5zM138.00 338.83h0.5V387.00h-0.5zM138.50 337.98h0.5V387.00h-0.5zM139.00 373.42h0.5V387.00h-0.5zM139.50 374.28h0.5V387.00h-0.5zM140.00 371.29h0.5V387.00h-0.5zM140.50 376.07h0.5V387.00h-0.5zM141.00 369.38h0.5V387.00h-0.5zM141.50 368.41h0.5V387.00h-0.5zM142.00 375.19h0.5V387.00h-0.5zM142.50 377.92h0.5V387.00h-0.5zM143.00 356.49h0.5V387.00h-0.5zM143.50 355.31h0.5V387.00h-0.5zM144.00 364.02h0.5V387.00h-0.5zM144.50 357.79h0.5V387.00h-0.5zM145.00 373.09h0.5V387.00h-0.5zM145.50 373.59h0.5V387.00h-0.5zM146.00 367.02h0.5V387.00h-0.5zM146.50 363.36h0.5V387.00h-0.5zM147.00 374.81h0.5V387.00h-0.5zM147.50 373.14h0.5V387.00h-0.5zM148.00 364.65h0.5V387.00h-0.5zM148.50 364.62h0.5V387.00h-0.5zM149.00 371.56h0.5V387.00h-0.5zM149.50 372.88h0.5V387.00h-0.5zM150.00 376.30h0.5V387.00h-0.5zM150.50 377.06h0.5V387.00h-0.5zM151.00 374.04h0.5V387.00h-0.5zM151.50 373.72h0.5V387.00h-0.5zM152.00 366.03h0.5V387.00h-0.5zM152.50 369.88h0.5V387.00h-0.5zM153.00 364.01h0.5V387.00h-0.5zM153.50 364.11h0.5V387.00h-0.5zM154.00 369.92h0.5V387.00h-0.5zM154.50 378.32h0.5V387.00h-0.5zM155.00 363.85h0.5V387.00h-0.5zM155.50 358.93h0.5V387.00h-0.5zM156.00 369.47h0.5V387.00h-0.5zM156.50 368.03h0.5V387.00h-0.5zM157.00 373.71h0.5V387.00h-0.5zM157.50 369.69h0.5V387.00h-0.5zM158.00 370.08h0.5V387.00h-0.5zM158.50 370.64h0.5V387.00h-0.5zM159.00 368.74h0.5V387.00h-0.5zM159.50 365.85h0.5V387.00h-0.5zM160.00 354.39h0.5V387.00h-0.5zM160.50 350.57h0.5V387.00h-0.5zM161.00 374.03h0.5V387.00h-0.5zM161.50 370.74h0.5V387.00h-0.5zM162.00 374.65h0.5V387.00h-0.5zM162.50 369.61h0.5V387.00h-0.5zM163.00 365.87h0.5V387.00h-0.5zM163.50 368.44h0.5V387.00h-0.5zM164.00 348.14h0.5V387.00h-0.5zM164.50 349.06h0.5V387.00h-0.5zM165.00 354.66h0.5V387.00h-0.5zM165.50 351.64h0.5V387.00h-0.5zM166.00 362.44h0.5V387.00h-0.5zM166.50 363.36h0.5V387.00h-0.5zM167.00 375.06h0.5V387.00h-0.5zM167.50 376.14h0.5V387.00h-0.5zM168.00 359.66h0.5V387.00h-0.5zM168.50 365.25h0.5V387.00h-0.5zM169.00 362.86h0.5V387.00h-0.5zM169.50 367.61h0.5V387.00h-0.5zM170.00 373.43h0.5V387.00h-0.5zM170.50 372.61h0.5V387.00h-0.5zM171.00 367.58h0.5V387.00h-0.5zM171.50 368.33h0.5V387.00h-0.5zM172.00 375.47h0.5V387.00h-0.5zM172.50 372.60h0.5V387.00h-0.5zM173.00 359.89h0.5V387.00h-0.5zM173.50 357.60h0.5V387.00h-0.5zM174.00 361.99h0.5V387.00h-0.5zM174.50 363.46h0.5V387.00h-0.5zM175.00 359.75h0.5V387.00h-0.5zM175.50 359.65h0.5V387.00h-0.5zM176.00 360.96h0.5V387.00h-0.5zM176.50 362.46h0.5V387.00h-0.5zM177.00 370.89h0.5V387.00h-0.5zM177.50 375.20h0.5V387.00h-0.5zM178.00 360.23h0.5V387.00h-0.5zM178.50 358.99h0.5V387.00h-0.5zM179.00 371.19h0.5V387.00h-0.5zM179.50 370.23h0.5V387.00h-0.5zM180.00 373.55h0.5V387.00h-0.5zM180.50 367.82h0.5V387.00h-0.5zM181.00 368.83h0.5V387.00h-0.5zM181.50 359.53h0.5V387.00h-0.5zM182.00 367.03h0.5V387.00h-0.5zM182.50 365.37h0.5V387.00h-0.5zM183.00 370.57h0.5V387.00h-0.5zM183.50 368.61h0.5V387.00h-0.5zM184.00 364.78h0.5V387.00h-0.5zM184.50 363.27h0.5V387.00h-0.5zM185.00 364.86h0.5V387.00h-0.5zM185.50 362.79h0.5V387.00h-0.5zM186.00 371.39h0.5V387.00h-0.5zM186.50 369.43h0.5V387.00h-0.5zM187.00 364.36h0.5V387.00h-0.5zM187.50 362.83h0.5V387.00h-0.5zM188.00 369.38h0.5V387.00h-0.5zM188.50 365.23h0.5V387.00h-0.5zM189.00 361.59h0.5V387.00h-0.5zM189.50 355.11h0.5V387.00h-0.5zM190.00 370.50h0.5V387.00h-0.5zM190.50 367.80h0.5V387.00h-0.5zM191.00 360.01h0.5V387.00h-0.5zM191.50 359.43h0.5V387.00h-0.5zM192.00 368.41h0.5V387.00h-0.5zM192.50 366.57h0.5V387.00h-0.5zM193.00 366.08h0.5V387.00h-0.5zM193.50 362.59h0.5V387.00h-0.5zM194.00 363.11h0.5V387.00h-0.5zM194.50 366.77h0.5V387.00h-0.5zM195.00 366.68h0.5V387.00h-0.5zM195.50 369.94h0.5V387.00h-0.5zM196.00 371.05h0.5V387.00h-0.5zM196.50 369.98h0.5V387.00h-0.5zM197.00 344.80h0.5V387.00h-0.5zM197.50 349.27h0.5V387.00h-0.5zM198.00 374.44h0.5V387.00h-0.5zM198.50 377.43h0.5V387.00h-0.5zM199.00 369.92h0.5V387.00h-0.5zM199.50 368.82h0.5V387.00h-0.5zM200.00 366.17h0.5V387.00h-0.5zM200.50 362.26h0.5V387.00h-0.5zM201.00 377.06h0.5V387.00h-0.5zM201.50 382.65h0.5V387.00h-0.5zM202.00 373.19h0.5V387.00h-0.5zM202.50 370.87h0.5V387.00h-0.5zM203.00 360.00h0.5V387.00h-0.5zM203.50 361.15h0.5V387.00h-0.5zM204.00 360.38h0.5V387.00h-0.5zM204.50 366.02h0.5V387.00h-0.5zM205.00 364.01h0.5V387.00h-0.5zM205.50 367.84h0.5V387.00h-0.5zM206.00 354.93h0.5V387.00h-0.5zM206.50 354.93h0.5V387.00h-0.5zM207.00 361.08h0.5V387.00h-0.5zM207.50 360.84h0.5V387.00h-0.5zM208.00 370.36h0.5V387.00h-0.5zM208.50 369.74h0.5V387.00h-0.5zM209.00 363.81h0.5V387.00h-0.5zM209.50 366.51h0.5V387.00h-0.5zM210.00 369.67h0.5V387.00h-0.5zM210.50 373.06h0.5V387.00h-0.5zM211.00 361.22h0.5V387.00h-0.5zM211.50 366.75h0.5V387.00h-0.5zM212.00 368.92h0.5V387.00h-0.5zM212.50 371.65h0.5V387.00h-0.5zM213.00 373.23h0.5V387.00h-0.5zM213.50 371.77h0.5V387.00h-0.5zM214.00 356.19h0.5V387.00h-0.5zM214.50 354.23h0.5V387.00h-0.5zM215.00 362.69h0.5V387.00h-0.5zM215.50 368.95h0.5V387.00h-0.5zM216.00 361.35h0.5V387.00h-0.5zM216.50 365.13h0.5V387.00h-0.5zM217.00 365.92h0.5V387.00h-0.5zM217.50 372.14h0.5V387.00h-0.5zM218.00 360.40h0.5V387.00h-0.5zM218.50 356.28h0.5V387.00h-0.5zM219.00 367.86h0.5V387.00h-0.5zM219.50 363.76h0.5V387.00h-0.5zM220.00 365.77h0.5V387.00h-0.5zM220.50 364.20h0.5V387.00h-0.5zM221.00 375.15h0.5V387.00h-0.5zM221.50 373.06h0.5V387.00h-0.5z" fill="#009ffd"/>
<rect x="29.3" y="232.6" width="193" height="154.4" fill="none" stroke="#8a8a8a" stroke-width="0.8"/>
<line x1="29.3" y1="232.6" x2="29.3" y2="387" stroke="#666" stroke-width="0.85" />
<line x1="29.3" y1="387" x2="222.3" y2="387" stroke="#666" stroke-width="0.85" />
<line x1="26.3" y1="232.6" x2="29.3" y2="232.6" stroke="#777" stroke-width="0.7" />
<text x="22.6" y="235.4" font-size="8" text-anchor="end" font-weight="normal" font-style="normal" fill="#333" stroke="#333" stroke-width="0.2" >1</text>
<line x1="26.3" y1="309.8" x2="29.3" y2="309.8" stroke="#777" stroke-width="0.7" />
<text x="22.6" y="312.6" font-size="8" text-anchor="end" font-weight="normal" font-style="normal" fill="#333" stroke="#333" stroke-width="0.2" >0</text>
<line x1="26.3" y1="387" x2="29.3" y2="387" stroke="#777" stroke-width="0.7" />
<text x="22.6" y="389.8" font-size="8" text-anchor="end" font-weight="normal" font-style="normal" fill="#333" stroke="#333" stroke-width="0.2" >−1</text>
<line x1="29.3" y1="387" x2="29.3" y2="390" stroke="#777" stroke-width="0.7" />
<text x="29.3" y="400.3" font-size="8" text-anchor="middle" font-weight="normal" font-style="normal" fill="#333" stroke="#333" stroke-width="0.2" >0</text>
<line x1="67.9" y1="387" x2="67.9" y2="390" stroke="#777" stroke-width="0.7" />
<text x="67.9" y="400.3" font-size="8" text-anchor="middle" font-weight="normal" font-style="normal" fill="#333" stroke="#333" stroke-width="0.2" >2</text>
<line x1="106.5" y1="387" x2="106.5" y2="390" stroke="#777" stroke-width="0.7" />
<text x="106.5" y="400.3" font-size="8" text-anchor="middle" font-weight="normal" font-style="normal" fill="#333" stroke="#333" stroke-width="0.2" >4</text>
<line x1="145.1" y1="387" x2="145.1" y2="390" stroke="#777" stroke-width="0.7" />
<text x="145.1" y="400.3" font-size="8" text-anchor="middle" font-weight="normal" font-style="normal" fill="#333" stroke="#333" stroke-width="0.2" >6</text>
<line x1="183.7" y1="387" x2="183.7" y2="390" stroke="#777" stroke-width="0.7" />
<text x="183.7" y="400.3" font-size="8" text-anchor="middle" font-weight="normal" font-style="normal" fill="#333" stroke="#333" stroke-width="0.2" >8</text>
<line x1="222.3" y1="387" x2="222.3" y2="390" stroke="#777" stroke-width="0.7" />
<text x="222.3" y="400.3" font-size="8" text-anchor="middle" font-weight="normal" font-style="normal" fill="#333" stroke="#333" stroke-width="0.2" >10</text>
<text x="125.8" y="414.2" font-size="8.7" text-anchor="middle" font-weight="normal" font-style="normal" fill="#231f20" stroke="#231f20" stroke-width="0.2" >Time (μs)</text>
<text transform="translate(7.7,309.8) rotate(-90)" font-size="8.9" text-anchor="middle" fill="#231f20" stroke="#231f20" stroke-width="0.2"><tspan font-style="italic">M</tspan><tspan font-size="6.2" dy="2">y</tspan><tspan dy="-2">/</tspan><tspan font-style="italic">M</tspan><tspan font-size="6" dy="2">s</tspan></text>
<line x1="29.3" y1="387" x2="222.3" y2="387" stroke="#1d3f66" stroke-width="0.9" />
<circle cx="178.1" cy="279.9" r="31.2" fill="none" stroke="#231f20" stroke-width="0.85"/>
<ellipse cx="178.1" cy="279.9" rx="31.2" ry="6" fill="none" stroke="#231f20" stroke-width="0.85"/>
<line x1="146.9" y1="279.9" x2="209.3" y2="279.9" stroke="#231f20" stroke-width="0.68" />
<line x1="178.1" y1="248.7" x2="178.1" y2="311.1" stroke="#231f20" stroke-width="0.68" />
<line x1="178.2" y1="280.3" x2="175.29" y2="301.2" stroke="#fa2828" stroke-width="2.5"/>
<polygon points="171.39,298.01 175.29,301.2 179.91,299.19 174.2,309" fill="#fa2828"/>
<text x="162.2" y="303.4" font-size="7.6" text-anchor="start" font-weight="bold" font-style="normal" fill="#000" stroke="#000" stroke-width="0.3" >M</text>
<line x1="139.8" y1="266.5" x2="139.8" y2="291.1" stroke="#10ae4e" stroke-width="2.2"/>
<polygon points="135.5,290.1 139.8,292.73 144.1,290.1 139.8,300.6" fill="#10ae4e"/>
<text x="135.2" y="311.3" font-size="8.6" font-weight="bold" fill="#111" stroke="#111" stroke-width="0.25">H<tspan font-size="5.848" font-weight="normal" stroke-width="0.15" dy="1.89">ext</tspan></text>
<text x="230.3" y="232.6" font-size="12" text-anchor="start" font-weight="bold" font-style="normal" fill="#000" stroke="#000" stroke-width="0.3" >e</text>
<path d="M259.00 232.40h0.5V386.80h-0.5zM259.50 235.27h0.5V386.29h-0.5zM260.00 232.40h0.5V386.80h-0.5zM260.50 232.40h0.5V386.49h-0.5zM261.00 232.40h0.5V305.78h-0.5zM261.50 232.40h0.5V316.63h-0.5zM262.00 232.40h0.5V386.80h-0.5zM262.50 236.08h0.5V386.80h-0.5zM263.00 287.22h0.5V386.80h-0.5zM263.50 281.46h0.5V386.80h-0.5zM264.00 232.40h0.5V386.80h-0.5zM264.50 232.40h0.5V382.63h-0.5zM265.00 232.40h0.5V293.99h-0.5zM265.50 232.40h0.5V288.48h-0.5zM266.00 232.40h0.5V251.09h-0.5zM266.50 232.40h0.5V249.06h-0.5zM267.00 232.40h0.5V386.80h-0.5zM267.50 232.68h0.5V386.80h-0.5zM268.00 327.90h0.5V386.80h-0.5zM268.50 330.70h0.5V384.44h-0.5zM269.00 369.61h0.5V386.80h-0.5zM269.50 371.78h0.5V382.34h-0.5zM270.00 232.40h0.5V386.80h-0.5zM270.50 232.40h0.5V382.64h-0.5zM271.00 232.40h0.5V296.91h-0.5zM271.50 241.77h0.5V294.05h-0.5zM272.00 232.40h0.5V380.16h-0.5zM272.50 232.40h0.5V385.47h-0.5zM273.00 232.40h0.5V347.94h-0.5zM273.50 232.90h0.5V346.84h-0.5zM274.00 232.40h0.5V342.05h-0.5zM274.50 232.40h0.5V336.10h-0.5zM275.00 232.40h0.5V386.80h-0.5zM275.50 236.37h0.5V386.80h-0.5zM276.00 360.56h0.5V386.80h-0.5zM276.50 356.29h0.5V374.69h-0.5zM277.50 381.62h0.5V386.80h-0.5zM278.00 377.78h0.5V386.80h-0.5zM278.50 372.75h0.5V382.05h-0.5zM279.00 354.76h0.5V386.80h-0.5zM279.50 345.68h0.5V386.80h-0.5zM280.00 328.85h0.5V386.80h-0.5zM280.50 321.37h0.5V386.80h-0.5zM281.00 308.30h0.5V386.80h-0.5zM281.50 297.82h0.5V384.99h-0.5zM282.00 276.28h0.5V386.80h-0.5zM282.50 271.97h0.5V386.80h-0.5zM283.00 232.40h0.5V386.80h-0.5zM283.50 234.40h0.5V381.58h-0.5zM284.00 232.40h0.5V344.90h-0.5zM284.50 234.96h0.5V344.83h-0.5zM285.00 232.40h0.5V274.01h-0.5zM285.50 232.40h0.5V271.06h-0.5zM286.00 232.40h0.5V347.70h-0.5zM286.50 232.40h0.5V349.50h-0.5zM287.00 232.40h0.5V345.13h-0.5zM287.50 235.62h0.5V348.73h-0.5zM288.00 232.40h0.5V246.70h-0.5zM288.50 239.65h0.5V258.57h-0.5zM289.00 232.40h0.5V326.97h-0.5zM289.50 232.40h0.5V331.13h-0.5zM290.00 232.40h0.5V233.33h-0.5zM291.00 232.40h0.5V304.46h-0.5zM291.50 232.40h0.5V303.89h-0.5zM292.00 232.40h0.5V297.10h-0.5zM292.50 232.40h0.5V305.76h-0.5zM293.00 232.40h0.5V271.36h-0.5zM293.50 235.94h0.5V276.72h-0.5zM294.00 232.40h0.5V284.78h-0.5zM294.50 232.40h0.5V272.20h-0.5zM295.00 232.40h0.5V337.86h-0.5zM295.50 232.40h0.5V331.82h-0.5zM296.00 232.40h0.5V283.84h-0.5zM296.50 238.36h0.5V280.73h-0.5zM297.00 232.40h0.5V264.44h-0.5zM297.50 232.40h0.5V272.20h-0.5zM298.00 232.40h0.5V325.98h-0.5zM298.50 237.20h0.5V328.74h-0.5zM299.00 232.40h0.5V298.41h-0.5zM299.50 232.85h0.5V298.91h-0.5zM300.00 232.40h0.5V386.80h-0.5zM300.50 236.97h0.5V385.63h-0.5zM301.00 299.20h0.5V386.80h-0.5zM301.50 306.85h0.5V386.69h-0.5zM302.00 269.74h0.5V386.80h-0.5zM302.50 260.36h0.5V379.22h-0.5zM303.00 370.07h0.5V386.80h-0.5zM303.50 367.43h0.5V386.80h-0.5zM304.00 275.30h0.5V386.80h-0.5zM304.50 274.60h0.5V386.80h-0.5zM305.00 325.53h0.5V386.80h-0.5zM305.50 318.16h0.5V386.41h-0.5zM306.00 232.40h0.5V386.80h-0.5zM306.50 237.76h0.5V383.38h-0.5zM307.00 232.40h0.5V243.62h-0.5zM307.50 232.51h0.5V243.13h-0.5zM308.00 232.40h0.5V362.86h-0.5zM308.50 232.40h0.5V367.79h-0.5zM309.00 232.40h0.5V256.31h-0.5zM309.50 232.40h0.5V256.45h-0.5zM310.00 232.40h0.5V342.13h-0.5zM310.50 232.40h0.5V343.29h-0.5zM311.00 232.40h0.5V289.51h-0.5zM311.50 242.76h0.5V303.40h-0.5zM312.00 232.40h0.5V370.71h-0.5zM312.50 232.40h0.5V368.69h-0.5zM313.00 232.40h0.5V292.99h-0.5zM313.50 239.52h0.5V287.38h-0.5zM314.00 232.40h0.5V364.28h-0.5zM314.50 247.79h0.5V366.04h-0.5zM315.00 232.40h0.5V310.28h-0.5zM315.50 235.08h0.5V315.45h-0.5zM316.00 232.40h0.5V275.43h-0.5zM316.50 235.83h0.5V276.02h-0.5zM317.00 232.40h0.5V330.71h-0.5zM317.50 241.34h0.5V324.82h-0.5zM318.00 232.40h0.5V323.32h-0.5zM318.50 232.40h0.5V331.24h-0.5zM319.00 232.40h0.5V324.40h-0.5zM319.50 232.40h0.5V326.74h-0.5zM320.00 232.40h0.5V300.10h-0.5zM320.50 232.40h0.5V295.84h-0.5zM321.00 232.40h0.5V273.41h-0.5zM321.50 236.21h0.5V284.00h-0.5zM322.00 232.40h0.5V319.63h-0.5zM322.50 236.38h0.5V317.97h-0.5zM323.00 232.40h0.5V259.05h-0.5zM323.50 232.40h0.5V257.30h-0.5zM324.00 232.40h0.5V325.29h-0.5zM324.50 239.28h0.5V330.42h-0.5zM325.00 232.40h0.5V319.02h-0.5zM325.50 232.40h0.5V313.04h-0.5zM326.00 232.40h0.5V290.47h-0.5zM326.50 232.40h0.5V290.13h-0.5zM327.00 232.40h0.5V337.01h-0.5zM327.50 249.75h0.5V326.30h-0.5zM328.00 232.40h0.5V270.23h-0.5zM328.50 232.40h0.5V261.25h-0.5zM329.00 232.40h0.5V292.00h-0.5zM329.50 232.40h0.5V293.83h-0.5zM330.00 232.40h0.5V336.94h-0.5zM330.50 232.40h0.5V337.46h-0.5zM331.00 232.40h0.5V386.80h-0.5zM331.50 232.40h0.5V379.76h-0.5zM332.00 303.36h0.5V386.80h-0.5zM332.50 302.82h0.5V386.80h-0.5zM333.00 232.40h0.5V386.80h-0.5zM333.50 236.74h0.5V386.80h-0.5zM334.00 232.40h0.5V366.29h-0.5zM334.50 233.19h0.5V365.18h-0.5zM335.00 232.40h0.5V384.66h-0.5zM335.50 232.40h0.5V386.80h-0.5zM336.00 232.40h0.5V328.75h-0.5zM336.50 232.58h0.5V332.17h-0.5zM337.00 232.40h0.5V338.15h-0.5zM337.50 245.93h0.5V338.16h-0.5zM338.00 232.40h0.5V264.94h-0.5zM338.50 235.96h0.5V248.78h-0.5zM339.00 232.40h0.5V327.56h-0.5zM339.50 245.68h0.5V323.00h-0.5zM340.00 232.40h0.5V342.42h-0.5zM340.50 242.52h0.5V343.46h-0.5zM341.00 232.40h0.5V293.19h-0.5zM341.50 232.40h0.5V296.33h-0.5zM342.00 232.40h0.5V309.96h-0.5zM342.50 232.40h0.5V305.13h-0.5zM343.00 232.40h0.5V301.82h-0.5zM343.50 243.24h0.5V298.73h-0.5zM344.00 232.40h0.5V374.02h-0.5zM344.50 232.40h0.5V381.05h-0.5zM345.00 232.40h0.5V283.93h-0.5zM345.50 232.40h0.5V275.54h-0.5zM346.00 232.40h0.5V293.29h-0.5zM346.50 232.40h0.5V289.77h-0.5zM347.00 232.40h0.5V233.11h-0.5zM348.00 232.40h0.5V386.80h-0.5zM348.50 232.40h0.5V386.80h-0.5zM349.00 303.72h0.5V386.80h-0.5zM349.50 312.79h0.5V386.80h-0.5zM350.00 298.65h0.5V386.80h-0.5zM350.50 306.89h0.5V386.00h-0.5zM351.00 232.40h0.5V386.80h-0.5zM351.50 232.40h0.5V386.80h-0.5zM352.00 232.40h0.5V285.04h-0.5zM352.50 237.89h0.5V290.12h-0.5zM353.00 232.40h0.5V383.93h-0.5zM353.50 232.40h0.5V381.12h-0.5zM354.00 232.40h0.5V269.41h-0.5zM354.50 232.40h0.5V264.90h-0.5zM355.00 232.40h0.5V339.74h-0.5zM355.50 232.40h0.5V348.90h-0.5zM356.00 232.40h0.5V265.50h-0.5zM356.50 236.83h0.5V265.58h-0.5zM357.00 232.40h0.5V293.62h-0.5zM357.50 234.76h0.5V295.48h-0.5zM358.00 232.40h0.5V254.72h-0.5zM358.50 244.44h0.5V261.20h-0.5zM359.00 232.40h0.5V343.57h-0.5zM359.50 232.40h0.5V341.28h-0.5zM360.00 232.40h0.5V340.35h-0.5zM360.50 232.40h0.5V332.14h-0.5zM361.00 232.40h0.5V263.25h-0.5zM361.50 232.40h0.5V262.11h-0.5zM362.00 232.40h0.5V307.08h-0.5zM362.50 236.69h0.5V297.57h-0.5zM363.00 232.40h0.5V277.41h-0.5zM363.50 232.40h0.5V279.03h-0.5zM364.00 232.40h0.5V303.18h-0.5zM364.50 239.10h0.5V311.57h-0.5zM365.00 232.40h0.5V386.80h-0.5zM365.50 235.06h0.5V382.72h-0.5zM366.00 252.70h0.5V386.80h-0.5zM366.50 253.41h0.5V384.00h-0.5zM367.00 320.89h0.5V386.80h-0.5zM367.50 319.19h0.5V379.18h-0.5zM368.00 258.99h0.5V386.80h-0.5zM368.50 260.70h0.5V385.98h-0.5zM369.00 314.74h0.5V386.80h-0.5zM369.50 324.30h0.5V386.80h-0.5zM370.00 232.40h0.5V386.80h-0.5zM370.50 232.40h0.5V370.33h-0.5zM371.00 232.40h0.5V234.52h-0.5zM371.50 232.40h0.5V237.86h-0.5zM372.00 232.40h0.5V270.38h-0.5zM372.50 232.40h0.5V267.47h-0.5zM373.00 232.40h0.5V286.62h-0.5zM373.50 232.40h0.5V291.96h-0.5zM374.00 232.40h0.5V360.60h-0.5zM374.50 233.39h0.5V351.39h-0.5zM375.00 232.40h0.5V347.07h-0.5zM375.50 232.40h0.5V340.17h-0.5zM376.00 232.40h0.5V301.94h-0.5zM376.50 232.40h0.5V298.28h-0.5zM377.00 232.40h0.5V299.10h-0.5zM377.50 232.40h0.5V298.20h-0.5zM378.00 232.40h0.5V322.50h-0.5zM378.50 235.02h0.5V331.36h-0.5zM379.00 232.40h0.5V343.65h-0.5zM379.50 233.93h0.5V340.77h-0.5zM380.00 232.40h0.5V286.14h-0.5zM380.50 232.40h0.5V279.31h-0.5zM381.00 232.40h0.5V336.47h-0.5zM381.50 240.11h0.5V341.63h-0.5zM382.00 232.40h0.5V292.95h-0.5zM382.50 232.61h0.5V298.66h-0.5zM383.00 232.40h0.5V314.46h-0.5zM383.50 249.20h0.5V315.78h-0.5zM384.00 232.40h0.5V330.27h-0.5zM384.50 232.40h0.5V326.92h-0.5zM385.00 232.40h0.5V304.24h-0.5zM385.50 232.40h0.5V308.52h-0.5zM386.00 232.40h0.5V325.13h-0.5zM386.50 232.40h0.5V329.89h-0.5zM387.00 232.40h0.5V325.85h-0.5zM387.50 233.51h0.5V330.77h-0.5zM388.00 232.40h0.5V236.81h-0.5zM389.00 232.40h0.5V250.29h-0.5zM389.50 232.40h0.5V252.24h-0.5zM390.00 232.40h0.5V264.44h-0.5zM390.50 232.40h0.5V260.49h-0.5zM391.00 232.40h0.5V272.50h-0.5zM391.50 232.40h0.5V263.01h-0.5zM392.00 232.40h0.5V271.35h-0.5zM392.50 237.54h0.5V276.84h-0.5zM393.00 232.40h0.5V251.57h-0.5zM393.50 234.25h0.5V248.30h-0.5zM394.00 232.40h0.5V272.90h-0.5zM394.50 232.40h0.5V292.35h-0.5zM395.00 232.40h0.5V315.22h-0.5zM395.50 234.22h0.5V323.03h-0.5zM396.00 232.40h0.5V346.66h-0.5zM396.50 234.56h0.5V350.88h-0.5zM397.00 232.40h0.5V287.49h-0.5zM397.50 243.57h0.5V283.63h-0.5zM398.00 232.40h0.5V289.35h-0.5zM398.50 241.89h0.5V291.29h-0.5zM399.00 232.40h0.5V294.90h-0.5zM399.50 232.40h0.5V296.97h-0.5zM400.00 232.40h0.5V323.97h-0.5zM400.50 233.90h0.5V317.99h-0.5zM401.00 232.40h0.5V335.55h-0.5zM401.50 232.40h0.5V320.22h-0.5zM402.00 232.40h0.5V366.27h-0.5zM402.50 232.40h0.5V358.63h-0.5zM403.00 232.40h0.5V290.38h-0.5zM403.50 235.35h0.5V291.97h-0.5zM404.00 232.40h0.5V386.80h-0.5zM404.50 232.40h0.5V386.80h-0.5zM405.00 375.07h0.5V386.80h-0.5zM405.50 378.07h0.5V386.80h-0.5zM406.00 232.40h0.5V386.80h-0.5zM406.50 241.02h0.5V386.80h-0.5zM407.00 232.40h0.5V274.38h-0.5zM407.50 232.40h0.5V281.01h-0.5zM408.00 232.40h0.5V345.00h-0.5zM408.50 232.40h0.5V341.26h-0.5zM409.00 232.40h0.5V386.80h-0.5zM409.50 232.40h0.5V386.80h-0.5zM410.00 374.61h0.5V386.80h-0.5zM410.50 356.01h0.5V386.80h-0.5zM411.00 292.69h0.5V386.80h-0.5zM411.50 289.37h0.5V386.80h-0.5zM412.00 307.27h0.5V386.80h-0.5zM412.50 303.35h0.5V386.80h-0.5zM413.00 232.40h0.5V386.80h-0.5zM413.50 232.40h0.5V376.19h-0.5zM414.00 232.40h0.5V251.76h-0.5zM414.50 232.40h0.5V245.50h-0.5zM415.00 232.40h0.5V250.80h-0.5zM415.50 232.40h0.5V261.04h-0.5zM416.00 232.40h0.5V307.39h-0.5zM416.50 232.40h0.5V311.63h-0.5zM417.00 232.40h0.5V301.57h-0.5zM417.50 232.40h0.5V307.65h-0.5zM418.00 232.40h0.5V340.83h-0.5zM418.50 232.40h0.5V344.22h-0.5zM419.00 232.40h0.5V247.86h-0.5zM419.50 232.40h0.5V250.02h-0.5zM420.00 232.40h0.5V386.80h-0.5zM420.50 232.40h0.5V386.80h-0.5zM421.00 299.18h0.5V386.80h-0.5zM421.50 295.50h0.5V386.80h-0.5zM422.00 370.30h0.5V386.80h-0.5zM422.50 363.33h0.5V377.73h-0.5zM423.00 232.40h0.5V386.80h-0.5zM423.50 239.73h0.5V386.80h-0.5zM424.00 232.40h0.5V306.81h-0.5zM424.50 238.92h0.5V309.04h-0.5zM425.00 232.40h0.5V311.04h-0.5zM425.50 232.40h0.5V304.62h-0.5zM426.00 232.40h0.5V386.80h-0.5zM426.50 241.34h0.5V383.17h-0.5zM427.00 375.13h0.5V386.80h-0.5zM427.50 381.11h0.5V386.80h-0.5zM428.00 347.44h0.5V386.80h-0.5zM428.50 345.24h0.5V384.81h-0.5zM429.00 320.34h0.5V386.80h-0.5zM429.50 312.52h0.5V386.80h-0.5zM430.00 384.84h0.5V386.80h-0.5zM430.50 374.79h0.5V386.80h-0.5zM431.00 232.40h0.5V386.80h-0.5zM431.50 232.40h0.5V386.80h-0.5zM432.00 232.40h0.5V384.32h-0.5zM432.50 234.70h0.5V386.80h-0.5zM433.00 232.40h0.5V331.27h-0.5zM433.50 243.68h0.5V332.56h-0.5zM434.00 232.40h0.5V372.61h-0.5zM434.50 240.07h0.5V376.15h-0.5zM435.00 232.40h0.5V281.36h-0.5zM435.50 232.40h0.5V283.73h-0.5zM436.00 232.40h0.5V297.85h-0.5zM436.50 232.40h0.5V296.24h-0.5zM437.00 232.40h0.5V277.78h-0.5zM437.50 232.40h0.5V282.40h-0.5zM438.00 232.40h0.5V251.27h-0.5zM438.50 237.79h0.5V238.78h-0.5zM439.00 232.40h0.5V245.27h-0.5zM439.50 239.19h0.5V264.79h-0.5zM440.00 232.40h0.5V276.16h-0.5zM440.50 243.46h0.5V283.81h-0.5zM441.00 232.40h0.5V343.93h-0.5zM441.50 237.86h0.5V347.58h-0.5zM442.00 232.40h0.5V266.33h-0.5zM442.50 232.40h0.5V266.88h-0.5zM443.00 232.40h0.5V325.00h-0.5zM443.50 232.40h0.5V310.05h-0.5zM444.00 232.40h0.5V276.45h-0.5zM444.50 244.93h0.5V276.99h-0.5zM445.00 232.40h0.5V386.80h-0.5zM445.50 239.96h0.5V386.80h-0.5zM446.00 297.94h0.5V386.80h-0.5zM446.50 310.37h0.5V386.80h-0.5zM447.00 346.50h0.5V386.80h-0.5zM447.50 338.26h0.5V385.78h-0.5zM448.00 319.61h0.5V386.80h-0.5zM448.50 311.40h0.5V383.74h-0.5zM449.00 232.40h0.5V386.80h-0.5zM449.50 232.40h0.5V386.80h-0.5zM450.00 232.40h0.5V298.92h-0.5zM450.50 232.40h0.5V298.46h-0.5z" fill="#009ffd"/>
<rect x="258.5" y="232.4" width="193" height="154.4" fill="none" stroke="#8a8a8a" stroke-width="0.8"/>
<line x1="258.5" y1="232.4" x2="258.5" y2="386.8" stroke="#666" stroke-width="0.85" />
<line x1="258.5" y1="386.8" x2="451.5" y2="386.8" stroke="#666" stroke-width="0.85" />
<line x1="255.5" y1="232.4" x2="258.5" y2="232.4" stroke="#777" stroke-width="0.7" />
<text x="253.2" y="235.2" font-size="8" text-anchor="end" font-weight="normal" font-style="normal" fill="#333" stroke="#333" stroke-width="0.2" >1</text>
<line x1="255.5" y1="309.6" x2="258.5" y2="309.6" stroke="#777" stroke-width="0.7" />
<text x="253.2" y="312.4" font-size="8" text-anchor="end" font-weight="normal" font-style="normal" fill="#333" stroke="#333" stroke-width="0.2" >0</text>
<line x1="255.5" y1="386.8" x2="258.5" y2="386.8" stroke="#777" stroke-width="0.7" />
<text x="253.2" y="389.6" font-size="8" text-anchor="end" font-weight="normal" font-style="normal" fill="#333" stroke="#333" stroke-width="0.2" >−1</text>
<line x1="258.5" y1="386.8" x2="258.5" y2="389.8" stroke="#777" stroke-width="0.7" />
<text x="258.5" y="400.1" font-size="8" text-anchor="middle" font-weight="normal" font-style="normal" fill="#333" stroke="#333" stroke-width="0.2" >0</text>
<line x1="297.1" y1="386.8" x2="297.1" y2="389.8" stroke="#777" stroke-width="0.7" />
<text x="297.1" y="400.1" font-size="8" text-anchor="middle" font-weight="normal" font-style="normal" fill="#333" stroke="#333" stroke-width="0.2" >2</text>
<line x1="335.7" y1="386.8" x2="335.7" y2="389.8" stroke="#777" stroke-width="0.7" />
<text x="335.7" y="400.1" font-size="8" text-anchor="middle" font-weight="normal" font-style="normal" fill="#333" stroke="#333" stroke-width="0.2" >4</text>
<line x1="374.3" y1="386.8" x2="374.3" y2="389.8" stroke="#777" stroke-width="0.7" />
<text x="374.3" y="400.1" font-size="8" text-anchor="middle" font-weight="normal" font-style="normal" fill="#333" stroke="#333" stroke-width="0.2" >6</text>
<line x1="412.9" y1="386.8" x2="412.9" y2="389.8" stroke="#777" stroke-width="0.7" />
<text x="412.9" y="400.1" font-size="8" text-anchor="middle" font-weight="normal" font-style="normal" fill="#333" stroke="#333" stroke-width="0.2" >8</text>
<line x1="451.5" y1="386.8" x2="451.5" y2="389.8" stroke="#777" stroke-width="0.7" />
<text x="451.5" y="400.1" font-size="8" text-anchor="middle" font-weight="normal" font-style="normal" fill="#333" stroke="#333" stroke-width="0.2" >10</text>
<text x="355" y="414.2" font-size="8.7" text-anchor="middle" font-weight="normal" font-style="normal" fill="#231f20" stroke="#231f20" stroke-width="0.2" >Time (μs)</text>
<text transform="translate(238.3,309.6) rotate(-90)" font-size="8.9" text-anchor="middle" fill="#231f20" stroke="#231f20" stroke-width="0.2"><tspan font-style="italic">M</tspan><tspan font-size="6.2" dy="2">y</tspan><tspan dy="-2">/</tspan><tspan font-style="italic">M</tspan><tspan font-size="6" dy="2">s</tspan></text>
<circle cx="413.7" cy="276.2" r="32.2" fill="none" stroke="#231f20" stroke-width="0.9"/>
<line x1="413.7" y1="244" x2="413.7" y2="308.4" stroke="#231f20" stroke-width="0.8" />
<ellipse cx="413.7" cy="276.2" rx="32.2" ry="6.3" fill="none" stroke="#111" stroke-width="1.4"/>
<line x1="381.5" y1="276.2" x2="445.9" y2="276.2" stroke="#231f20" stroke-width="0.7" />
<line x1="415.5" y1="256" x2="414.6" y2="298" stroke="#d81428" stroke-width="2.8"/>
<polygon points="411.6,259.0 419.8,259.0 415.9,248.2" fill="#d81428"/>
<polygon points="410.4,296.0 418.6,296.0 414.3,306.6" fill="#d81428"/>
<path d="M405.0,263.4 Q387.5,278 404.5,291.2" fill="none" stroke="#d81428" stroke-width="1.6"/>
<polygon points="402.8,262.2 407.0,265.6 407.6,260.6" fill="#d81428"/>
<polygon points="401.8,292.4 406.2,289.6 406.6,294.6" fill="#d81428"/>
<text x="460.8" y="232.3" font-size="12" text-anchor="start" font-weight="bold" font-style="normal" fill="#000" stroke="#000" stroke-width="0.3" >f</text>
<path d="M489.00 231.30h0.5V281.86h-0.5zM489.50 231.30h0.5V281.61h-0.5zM490.00 231.30h0.5V272.48h-0.5zM490.50 231.30h0.5V272.33h-0.5zM491.00 231.30h0.5V270.04h-0.5zM491.50 231.30h0.5V275.49h-0.5zM492.00 231.30h0.5V251.24h-0.5zM492.50 231.30h0.5V252.66h-0.5zM493.00 231.30h0.5V261.24h-0.5zM493.50 231.30h0.5V264.49h-0.5zM494.00 231.30h0.5V286.11h-0.5zM494.50 231.30h0.5V284.01h-0.5zM495.00 231.30h0.5V256.94h-0.5zM495.50 231.30h0.5V254.17h-0.5zM496.00 231.30h0.5V250.07h-0.5zM496.50 231.30h0.5V249.05h-0.5zM497.00 231.30h0.5V280.38h-0.5zM497.50 231.30h0.5V283.11h-0.5zM498.00 231.30h0.5V262.36h-0.5zM498.50 231.30h0.5V261.18h-0.5zM499.00 231.30h0.5V252.37h-0.5zM499.50 231.30h0.5V250.13h-0.5zM500.00 231.30h0.5V262.27h-0.5zM500.50 231.30h0.5V260.18h-0.5zM501.00 231.30h0.5V291.18h-0.5zM501.50 231.30h0.5V289.74h-0.5zM502.00 231.30h0.5V252.70h-0.5zM502.50 231.30h0.5V255.37h-0.5zM503.00 231.30h0.5V268.66h-0.5zM503.50 231.30h0.5V268.11h-0.5zM504.00 231.30h0.5V262.93h-0.5zM504.50 231.30h0.5V259.94h-0.5zM505.00 231.30h0.5V253.03h-0.5zM505.50 231.30h0.5V253.18h-0.5zM506.00 231.30h0.5V252.03h-0.5zM506.50 231.30h0.5V245.95h-0.5zM507.00 231.30h0.5V279.34h-0.5zM507.50 231.30h0.5V284.22h-0.5zM508.00 231.30h0.5V255.44h-0.5zM508.50 231.30h0.5V253.06h-0.5zM509.00 231.30h0.5V257.27h-0.5zM509.50 231.30h0.5V258.52h-0.5zM510.00 231.30h0.5V261.87h-0.5zM510.50 231.30h0.5V264.19h-0.5zM511.00 231.30h0.5V257.25h-0.5zM511.50 231.30h0.5V256.34h-0.5zM512.00 231.30h0.5V243.74h-0.5zM512.50 231.30h0.5V244.95h-0.5zM513.00 231.30h0.5V253.99h-0.5zM513.50 231.30h0.5V251.37h-0.5zM514.00 231.30h0.5V257.83h-0.5zM514.50 231.30h0.5V257.79h-0.5zM515.00 231.30h0.5V264.48h-0.5zM515.50 231.30h0.5V263.00h-0.5zM516.00 231.30h0.5V260.64h-0.5zM516.50 231.30h0.5V261.54h-0.5zM517.00 231.30h0.5V257.07h-0.5zM517.50 231.30h0.5V258.87h-0.5zM518.00 231.30h0.5V252.20h-0.5zM518.50 231.30h0.5V258.17h-0.5zM519.00 231.30h0.5V265.06h-0.5zM519.50 231.30h0.5V267.15h-0.5zM520.00 231.30h0.5V252.10h-0.5zM520.50 231.30h0.5V247.38h-0.5zM521.00 231.30h0.5V263.55h-0.5zM521.50 231.30h0.5V263.27h-0.5zM522.00 231.30h0.5V258.28h-0.5zM522.50 231.30h0.5V262.63h-0.5zM523.00 231.30h0.5V259.29h-0.5zM523.50 231.30h0.5V261.99h-0.5zM524.00 231.30h0.5V256.23h-0.5zM524.50 231.30h0.5V249.91h-0.5zM525.00 231.30h0.5V252.53h-0.5zM525.50 231.30h0.5V249.49h-0.5zM526.00 231.30h0.5V251.62h-0.5zM526.50 231.30h0.5V250.06h-0.5zM527.00 231.30h0.5V261.51h-0.5zM527.50 231.30h0.5V265.40h-0.5zM528.00 231.30h0.5V254.28h-0.5zM528.50 231.30h0.5V255.67h-0.5zM529.00 231.30h0.5V245.04h-0.5zM529.50 231.30h0.5V245.29h-0.5zM530.00 231.30h0.5V252.25h-0.5zM530.50 231.30h0.5V251.66h-0.5zM531.00 231.30h0.5V272.68h-0.5zM531.50 231.30h0.5V272.63h-0.5zM532.00 231.30h0.5V263.25h-0.5zM532.50 231.30h0.5V259.44h-0.5zM533.00 231.30h0.5V259.99h-0.5zM533.50 231.30h0.5V263.42h-0.5zM534.00 231.30h0.5V256.55h-0.5zM534.50 231.30h0.5V257.24h-0.5zM535.00 231.30h0.5V266.51h-0.5zM535.50 231.30h0.5V266.32h-0.5zM536.00 231.30h0.5V254.04h-0.5zM536.50 231.30h0.5V252.33h-0.5zM537.00 231.30h0.5V261.30h-0.5zM537.50 231.30h0.5V261.05h-0.5zM538.00 231.30h0.5V244.83h-0.5zM538.50 231.30h0.5V247.31h-0.5zM539.00 231.30h0.5V261.61h-0.5zM539.50 231.30h0.5V261.68h-0.5zM540.00 231.30h0.5V284.01h-0.5zM540.50 231.30h0.5V284.60h-0.5zM541.00 231.30h0.5V263.17h-0.5zM541.50 231.30h0.5V270.15h-0.5zM542.00 231.30h0.5V249.10h-0.5zM542.50 231.30h0.5V248.08h-0.5zM543.00 231.30h0.5V260.27h-0.5zM543.50 231.30h0.5V257.45h-0.5zM544.00 231.30h0.5V255.01h-0.5zM544.50 231.30h0.5V255.90h-0.5zM545.00 231.30h0.5V272.59h-0.5zM545.50 231.30h0.5V275.19h-0.5zM546.00 231.30h0.5V245.40h-0.5zM546.50 231.30h0.5V245.70h-0.5zM547.00 231.30h0.5V244.82h-0.5zM547.50 231.30h0.5V241.86h-0.5zM548.00 231.30h0.5V249.63h-0.5zM548.50 231.30h0.5V253.61h-0.5zM549.00 231.30h0.5V255.42h-0.5zM549.50 231.30h0.5V256.60h-0.5zM550.00 231.30h0.5V270.36h-0.5zM550.50 231.30h0.5V268.22h-0.5zM551.00 231.30h0.5V259.60h-0.5zM551.50 231.30h0.5V264.92h-0.5zM552.00 231.30h0.5V262.03h-0.5zM552.50 231.30h0.5V261.19h-0.5zM553.00 231.30h0.5V247.85h-0.5zM553.50 231.30h0.5V246.97h-0.5zM554.00 231.30h0.5V251.76h-0.5zM554.50 231.30h0.5V254.34h-0.5zM555.00 231.30h0.5V256.17h-0.5zM555.50 231.30h0.5V253.17h-0.5zM556.00 231.30h0.5V261.17h-0.5zM556.50 231.30h0.5V261.00h-0.5zM557.00 231.30h0.5V264.24h-0.5zM557.50 231.30h0.5V258.86h-0.5zM558.00 231.30h0.5V259.85h-0.5zM558.50 231.30h0.5V255.33h-0.5zM559.00 231.30h0.5V254.34h-0.5zM559.50 231.30h0.5V255.26h-0.5zM560.00 231.30h0.5V251.89h-0.5zM560.50 231.30h0.5V252.15h-0.5zM561.00 231.30h0.5V256.91h-0.5zM561.50 231.30h0.5V253.37h-0.5zM562.00 231.30h0.5V253.91h-0.5zM562.50 231.30h0.5V255.84h-0.5zM563.00 231.30h0.5V264.45h-0.5zM563.50 231.30h0.5V267.17h-0.5zM564.00 231.30h0.5V271.00h-0.5zM564.50 231.30h0.5V270.44h-0.5zM565.00 231.30h0.5V265.69h-0.5zM565.50 231.30h0.5V267.76h-0.5zM566.00 231.30h0.5V250.30h-0.5zM566.50 231.30h0.5V252.02h-0.5zM567.00 231.30h0.5V265.13h-0.5zM567.50 231.30h0.5V265.13h-0.5zM568.00 231.30h0.5V245.12h-0.5zM568.50 231.30h0.5V237.00h-0.5zM569.00 231.30h0.5V250.69h-0.5zM569.50 231.30h0.5V248.39h-0.5zM570.00 231.30h0.5V262.98h-0.5zM570.50 231.30h0.5V263.50h-0.5zM571.00 231.30h0.5V255.11h-0.5zM571.50 231.30h0.5V256.69h-0.5zM572.00 231.30h0.5V267.06h-0.5zM572.50 231.30h0.5V264.64h-0.5zM573.00 231.30h0.5V262.67h-0.5zM573.50 231.30h0.5V261.12h-0.5zM574.00 231.30h0.5V261.48h-0.5zM574.50 231.30h0.5V265.01h-0.5zM575.00 231.30h0.5V260.49h-0.5zM575.50 231.30h0.5V256.27h-0.5zM576.00 231.30h0.5V272.19h-0.5zM576.50 231.30h0.5V270.43h-0.5zM577.00 231.30h0.5V267.36h-0.5zM577.50 231.30h0.5V265.20h-0.5zM578.00 231.30h0.5V246.45h-0.5zM578.50 231.30h0.5V249.89h-0.5zM579.00 231.30h0.5V287.10h-0.5zM579.50 231.30h0.5V289.90h-0.5zM580.00 231.30h0.5V257.09h-0.5zM580.50 231.30h0.5V256.69h-0.5zM581.00 231.30h0.5V254.63h-0.5zM581.50 231.30h0.5V257.99h-0.5zM582.00 231.30h0.5V269.59h-0.5zM582.50 231.30h0.5V272.14h-0.5zM583.00 231.30h0.5V272.55h-0.5zM583.50 231.30h0.5V271.13h-0.5zM584.00 231.30h0.5V264.77h-0.5zM584.50 231.30h0.5V262.50h-0.5zM585.00 231.30h0.5V263.45h-0.5zM585.50 231.30h0.5V268.06h-0.5zM586.00 231.30h0.5V244.68h-0.5zM586.50 231.30h0.5V244.72h-0.5zM587.00 231.30h0.5V254.29h-0.5zM587.50 231.30h0.5V255.22h-0.5zM588.00 231.30h0.5V266.17h-0.5zM588.50 231.30h0.5V269.42h-0.5zM589.00 231.30h0.5V294.11h-0.5zM589.50 231.30h0.5V292.96h-0.5zM590.00 231.30h0.5V254.36h-0.5zM590.50 231.30h0.5V250.23h-0.5zM591.00 231.30h0.5V264.47h-0.5zM591.50 231.30h0.5V263.90h-0.5zM592.00 231.30h0.5V250.08h-0.5zM592.50 231.30h0.5V245.31h-0.5zM593.00 231.30h0.5V264.15h-0.5zM593.50 231.30h0.5V264.96h-0.5zM594.00 231.30h0.5V255.73h-0.5zM594.50 231.30h0.5V259.95h-0.5zM595.00 231.30h0.5V249.12h-0.5zM595.50 231.30h0.5V247.06h-0.5zM596.00 231.30h0.5V251.79h-0.5zM596.50 231.30h0.5V250.38h-0.5zM597.00 231.30h0.5V259.68h-0.5zM597.50 231.30h0.5V255.84h-0.5zM598.00 231.30h0.5V257.83h-0.5zM598.50 231.30h0.5V257.42h-0.5zM599.00 231.30h0.5V262.65h-0.5zM599.50 231.30h0.5V265.83h-0.5zM600.00 231.30h0.5V255.59h-0.5zM600.50 231.30h0.5V247.31h-0.5zM601.00 231.30h0.5V260.39h-0.5zM601.50 231.30h0.5V257.19h-0.5zM602.00 231.30h0.5V256.08h-0.5zM602.50 231.30h0.5V254.62h-0.5zM603.00 231.30h0.5V264.65h-0.5zM603.50 231.30h0.5V267.34h-0.5zM604.00 231.30h0.5V244.32h-0.5zM604.50 231.30h0.5V239.69h-0.5zM605.00 231.30h0.5V260.20h-0.5zM605.50 231.30h0.5V256.73h-0.5zM606.00 231.30h0.5V260.17h-0.5zM606.50 231.30h0.5V258.33h-0.5zM607.00 231.30h0.5V248.59h-0.5zM607.50 231.30h0.5V248.14h-0.5zM608.00 231.30h0.5V264.57h-0.5zM608.50 231.30h0.5V269.02h-0.5zM609.00 231.30h0.5V261.34h-0.5zM609.50 231.30h0.5V259.89h-0.5zM610.00 231.30h0.5V278.33h-0.5zM610.50 231.30h0.5V274.90h-0.5zM611.00 231.30h0.5V252.10h-0.5zM611.50 231.30h0.5V254.69h-0.5zM612.00 231.30h0.5V256.97h-0.5zM612.50 231.30h0.5V259.84h-0.5zM613.00 231.30h0.5V318.21h-0.5zM613.50 231.30h0.5V318.87h-0.5zM614.00 231.30h0.5V276.83h-0.5zM614.50 231.30h0.5V275.14h-0.5zM615.00 231.30h0.5V262.59h-0.5zM615.50 231.30h0.5V264.75h-0.5zM616.00 231.30h0.5V255.67h-0.5zM616.50 231.30h0.5V258.06h-0.5zM617.00 231.30h0.5V264.05h-0.5zM617.50 231.30h0.5V266.53h-0.5zM618.00 231.30h0.5V257.50h-0.5zM618.50 231.30h0.5V253.04h-0.5zM619.00 231.30h0.5V258.96h-0.5zM619.50 231.30h0.5V259.94h-0.5zM620.00 231.30h0.5V262.40h-0.5zM620.50 231.30h0.5V260.41h-0.5zM621.00 231.30h0.5V273.21h-0.5zM621.50 231.30h0.5V268.44h-0.5zM622.00 231.30h0.5V244.54h-0.5zM622.50 231.30h0.5V247.30h-0.5zM623.00 231.30h0.5V262.96h-0.5zM623.50 231.30h0.5V261.31h-0.5zM624.00 231.30h0.5V272.28h-0.5zM624.50 231.30h0.5V282.06h-0.5zM625.00 231.30h0.5V256.06h-0.5zM625.50 231.30h0.5V259.98h-0.5zM626.00 231.30h0.5V253.45h-0.5zM626.50 231.30h0.5V255.57h-0.5zM627.00 231.30h0.5V259.73h-0.5zM627.50 231.30h0.5V257.79h-0.5zM628.00 231.30h0.5V246.51h-0.5zM628.50 231.30h0.5V247.49h-0.5zM629.00 231.30h0.5V265.74h-0.5zM629.50 231.30h0.5V266.78h-0.5zM630.00 231.30h0.5V258.12h-0.5zM630.50 231.30h0.5V255.11h-0.5zM631.00 231.30h0.5V262.06h-0.5zM631.50 231.30h0.5V254.35h-0.5zM632.00 231.30h0.5V264.94h-0.5zM632.50 231.30h0.5V261.10h-0.5zM633.00 231.30h0.5V245.54h-0.5zM633.50 231.30h0.5V246.34h-0.5zM634.00 231.30h0.5V252.17h-0.5zM634.50 231.30h0.5V255.00h-0.5zM635.00 231.30h0.5V256.84h-0.5zM635.50 231.30h0.5V266.29h-0.5zM636.00 231.30h0.5V260.72h-0.5zM636.50 231.30h0.5V260.82h-0.5zM637.00 231.30h0.5V255.91h-0.5zM637.50 231.30h0.5V259.24h-0.5zM638.00 231.30h0.5V254.31h-0.5zM638.50 231.30h0.5V252.43h-0.5zM639.00 231.30h0.5V246.06h-0.5zM639.50 231.30h0.5V253.12h-0.5zM640.00 231.30h0.5V257.02h-0.5zM640.50 231.30h0.5V257.74h-0.5zM641.00 231.30h0.5V275.64h-0.5zM641.50 231.30h0.5V275.78h-0.5zM642.00 231.30h0.5V246.51h-0.5zM642.50 231.30h0.5V247.90h-0.5zM643.00 231.30h0.5V260.48h-0.5zM643.50 231.30h0.5V255.15h-0.5zM644.00 231.30h0.5V252.56h-0.5zM644.50 231.30h0.5V249.41h-0.5zM645.00 231.30h0.5V283.79h-0.5zM645.50 231.30h0.5V288.94h-0.5zM646.00 231.30h0.5V265.84h-0.5zM646.50 231.30h0.5V267.98h-0.5zM647.00 231.30h0.5V252.88h-0.5zM647.50 231.30h0.5V255.94h-0.5zM648.00 231.30h0.5V283.67h-0.5zM648.50 231.30h0.5V285.37h-0.5zM649.00 231.30h0.5V254.91h-0.5zM649.50 231.30h0.5V256.00h-0.5zM650.00 231.30h0.5V262.73h-0.5zM650.50 231.30h0.5V266.79h-0.5zM651.00 231.30h0.5V254.02h-0.5zM651.50 231.30h0.5V256.31h-0.5zM652.00 231.30h0.5V254.57h-0.5zM652.50 231.30h0.5V250.01h-0.5zM653.00 231.30h0.5V248.75h-0.5zM653.50 231.30h0.5V250.64h-0.5zM654.00 231.30h0.5V254.60h-0.5zM654.50 231.30h0.5V255.72h-0.5zM655.00 231.30h0.5V256.71h-0.5zM655.50 231.30h0.5V253.48h-0.5zM656.00 231.30h0.5V246.24h-0.5zM656.50 231.30h0.5V244.42h-0.5zM657.00 231.30h0.5V244.81h-0.5zM657.50 231.30h0.5V247.84h-0.5zM658.00 231.30h0.5V244.69h-0.5zM658.50 231.30h0.5V243.68h-0.5zM659.00 231.30h0.5V270.23h-0.5zM659.50 231.30h0.5V277.10h-0.5zM660.00 231.30h0.5V256.79h-0.5zM660.50 231.30h0.5V250.75h-0.5zM661.00 231.30h0.5V272.40h-0.5zM661.50 231.30h0.5V275.16h-0.5zM662.00 231.30h0.5V257.96h-0.5zM662.50 231.30h0.5V260.36h-0.5zM663.00 231.30h0.5V259.46h-0.5zM663.50 231.30h0.5V260.11h-0.5zM664.00 231.30h0.5V256.01h-0.5zM664.50 231.30h0.5V257.79h-0.5zM665.00 231.30h0.5V264.95h-0.5zM665.50 231.30h0.5V266.14h-0.5zM666.00 231.30h0.5V255.49h-0.5zM666.50 231.30h0.5V254.68h-0.5zM667.00 231.30h0.5V265.91h-0.5zM667.50 231.30h0.5V268.23h-0.5zM668.00 231.30h0.5V256.37h-0.5zM668.50 231.30h0.5V250.09h-0.5zM669.00 231.30h0.5V250.47h-0.5zM669.50 231.30h0.5V260.28h-0.5zM670.00 231.30h0.5V256.84h-0.5zM670.50 231.30h0.5V260.68h-0.5zM671.00 231.30h0.5V246.44h-0.5zM671.50 231.30h0.5V248.27h-0.5zM672.00 231.30h0.5V256.29h-0.5zM672.50 231.30h0.5V256.57h-0.5zM673.00 231.30h0.5V256.28h-0.5zM673.50 231.30h0.5V248.77h-0.5zM674.00 231.30h0.5V263.15h-0.5zM674.50 231.30h0.5V263.42h-0.5zM675.00 231.30h0.5V294.33h-0.5zM675.50 231.30h0.5V299.14h-0.5zM676.00 231.30h0.5V251.24h-0.5zM676.50 231.30h0.5V252.35h-0.5zM677.00 231.30h0.5V260.71h-0.5zM677.50 231.30h0.5V260.20h-0.5zM678.00 231.30h0.5V267.67h-0.5zM678.50 231.30h0.5V266.13h-0.5zM679.00 231.30h0.5V262.51h-0.5zM679.50 231.30h0.5V263.39h-0.5zM680.00 231.30h0.5V253.36h-0.5zM680.50 231.30h0.5V253.12h-0.5z" fill="#009ffd"/>
<line x1="488.5" y1="231.3" x2="488.5" y2="386.5" stroke="#009ffd" stroke-width="0.9" />
<rect x="488.5" y="231.3" width="193" height="155.2" fill="none" stroke="#8a8a8a" stroke-width="0.8"/>
<line x1="488.5" y1="231.3" x2="488.5" y2="386.5" stroke="#666" stroke-width="0.85" />
<line x1="488.5" y1="386.5" x2="681.5" y2="386.5" stroke="#666" stroke-width="0.85" />
<line x1="485.5" y1="231.3" x2="488.5" y2="231.3" stroke="#777" stroke-width="0.7" />
<text x="483.2" y="234.1" font-size="8" text-anchor="end" font-weight="normal" font-style="normal" fill="#333" stroke="#333" stroke-width="0.2" >1</text>
<line x1="485.5" y1="308.9" x2="488.5" y2="308.9" stroke="#777" stroke-width="0.7" />
<text x="483.2" y="311.7" font-size="8" text-anchor="end" font-weight="normal" font-style="normal" fill="#333" stroke="#333" stroke-width="0.2" >0</text>
<line x1="485.5" y1="386.5" x2="488.5" y2="386.5" stroke="#777" stroke-width="0.7" />
<text x="483.2" y="389.3" font-size="8" text-anchor="end" font-weight="normal" font-style="normal" fill="#333" stroke="#333" stroke-width="0.2" >−1</text>
<line x1="488.5" y1="386.5" x2="488.5" y2="389.5" stroke="#777" stroke-width="0.7" />
<text x="488.5" y="399.8" font-size="8" text-anchor="middle" font-weight="normal" font-style="normal" fill="#333" stroke="#333" stroke-width="0.2" >0</text>
<line x1="527.1" y1="386.5" x2="527.1" y2="389.5" stroke="#777" stroke-width="0.7" />
<text x="527.1" y="399.8" font-size="8" text-anchor="middle" font-weight="normal" font-style="normal" fill="#333" stroke="#333" stroke-width="0.2" >2</text>
<line x1="565.7" y1="386.5" x2="565.7" y2="389.5" stroke="#777" stroke-width="0.7" />
<text x="565.7" y="399.8" font-size="8" text-anchor="middle" font-weight="normal" font-style="normal" fill="#333" stroke="#333" stroke-width="0.2" >4</text>
<line x1="604.3" y1="386.5" x2="604.3" y2="389.5" stroke="#777" stroke-width="0.7" />
<text x="604.3" y="399.8" font-size="8" text-anchor="middle" font-weight="normal" font-style="normal" fill="#333" stroke="#333" stroke-width="0.2" >6</text>
<line x1="642.9" y1="386.5" x2="642.9" y2="389.5" stroke="#777" stroke-width="0.7" />
<text x="642.9" y="399.8" font-size="8" text-anchor="middle" font-weight="normal" font-style="normal" fill="#333" stroke="#333" stroke-width="0.2" >8</text>
<line x1="681.5" y1="386.5" x2="681.5" y2="389.5" stroke="#777" stroke-width="0.7" />
<text x="681.5" y="399.8" font-size="8" text-anchor="middle" font-weight="normal" font-style="normal" fill="#333" stroke="#333" stroke-width="0.2" >10</text>
<text x="585" y="414.2" font-size="8.7" text-anchor="middle" font-weight="normal" font-style="normal" fill="#231f20" stroke="#231f20" stroke-width="0.2" >Time (μs)</text>
<text transform="translate(468.3,308.9) rotate(-90)" font-size="8.9" text-anchor="middle" fill="#231f20" stroke="#231f20" stroke-width="0.2"><tspan font-style="italic">M</tspan><tspan font-size="6.2" dy="2">y</tspan><tspan dy="-2">/</tspan><tspan font-style="italic">M</tspan><tspan font-size="6" dy="2">s</tspan></text>
<line x1="488.5" y1="231.3" x2="488.5" y2="386.5" stroke="#1f7fc0" stroke-width="0.9" />
<circle cx="636.5" cy="344.1" r="32.3" fill="none" stroke="#231f20" stroke-width="0.8"/>
<ellipse cx="636.5" cy="344.1" rx="32.3" ry="6.6" fill="none" stroke="#231f20" stroke-width="1.4"/>
<line x1="604.2" y1="344.1" x2="668.8" y2="344.1" stroke="#231f20" stroke-width="0.6400000000000001" />
<line x1="636.5" y1="311.8" x2="636.5" y2="376.4" stroke="#231f20" stroke-width="0.6400000000000001" />
<line x1="636.3" y1="344.2" x2="639.29" y2="320.87" stroke="#fa2828" stroke-width="2.4"/>
<polygon points="642.86,323.72 639.29,320.87 635.12,322.73 640.2,313.8" fill="#fa2828"/>
</svg></body></html>
